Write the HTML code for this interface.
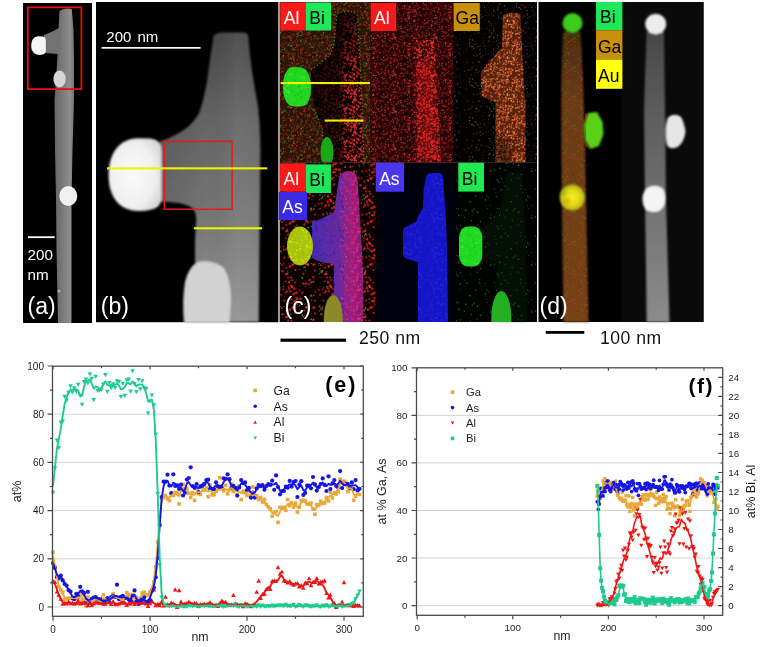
<!DOCTYPE html><html><head><meta charset="utf-8"><style>html,body{margin:0;padding:0;background:#fff}body{width:763px;height:647px;overflow:hidden;position:relative}svg{position:absolute;left:0;top:0;will-change:transform}text{font-family:"Liberation Sans",sans-serif}</style></head><body>
<svg width="763" height="647" viewBox="0 0 763 647">
<defs>
<filter id="b06" x="-20%" y="-20%" width="140%" height="140%"><feGaussianBlur stdDeviation="0.6"/></filter>
<filter id="b1" x="-20%" y="-20%" width="140%" height="140%"><feGaussianBlur stdDeviation="1"/></filter>
<filter id="b15" x="-20%" y="-20%" width="140%" height="140%"><feGaussianBlur stdDeviation="1.5"/></filter>
<filter id="b3" x="-30%" y="-30%" width="160%" height="160%"><feGaussianBlur stdDeviation="3"/></filter>
<filter id="spR" x="0" y="0" width="100%" height="100%" filterUnits="objectBoundingBox" color-interpolation-filters="sRGB"><feTurbulence type="fractalNoise" baseFrequency="0.55" numOctaves="2" seed="3"/><feColorMatrix type="matrix" values="0 0 0 0 0.9 0 0 0 0 0.1 0 0 0 0 0.08 9 0 0 0 -4.9"/><feGaussianBlur stdDeviation="0.35"/></filter>
<filter id="spR2" x="0" y="0" width="100%" height="100%" filterUnits="objectBoundingBox" color-interpolation-filters="sRGB"><feTurbulence type="fractalNoise" baseFrequency="0.5" numOctaves="2" seed="11"/><feColorMatrix type="matrix" values="0 0 0 0 0.95 0 0 0 0 0.12 0 0 0 0 0.1 9 0 0 0 -4.4"/><feGaussianBlur stdDeviation="0.35"/></filter>
<filter id="spG" x="0" y="0" width="100%" height="100%" filterUnits="objectBoundingBox" color-interpolation-filters="sRGB"><feTurbulence type="fractalNoise" baseFrequency="0.55" numOctaves="2" seed="5"/><feColorMatrix type="matrix" values="0 0 0 0 0.2 0 0 0 0 0.75 0 0 0 0 0.15 9 0 0 0 -5.4"/><feGaussianBlur stdDeviation="0.35"/></filter>
<filter id="spO" x="0" y="0" width="100%" height="100%" filterUnits="objectBoundingBox" color-interpolation-filters="sRGB"><feTurbulence type="fractalNoise" baseFrequency="0.6" numOctaves="2" seed="8"/><feColorMatrix type="matrix" values="0 0 0 0 0.85 0 0 0 0 0.4 0 0 0 0 0.15 9 0 0 0 -4.6"/><feGaussianBlur stdDeviation="0.35"/></filter>
<filter id="spOs" x="0" y="0" width="100%" height="100%" filterUnits="objectBoundingBox" color-interpolation-filters="sRGB"><feTurbulence type="fractalNoise" baseFrequency="0.6" numOctaves="2" seed="9"/><feColorMatrix type="matrix" values="0 0 0 0 0.7 0 0 0 0 0.45 0 0 0 0 0.25 10 0 0 0 -6.6"/><feGaussianBlur stdDeviation="0.35"/></filter>
<filter id="spGs" x="0" y="0" width="100%" height="100%" filterUnits="objectBoundingBox" color-interpolation-filters="sRGB"><feTurbulence type="fractalNoise" baseFrequency="0.6" numOctaves="2" seed="12"/><feColorMatrix type="matrix" values="0 0 0 0 0.15 0 0 0 0 0.6 0 0 0 0 0.15 10 0 0 0 -6.8"/><feGaussianBlur stdDeviation="0.35"/></filter>
<filter id="spGB" x="0" y="0" width="100%" height="100%" filterUnits="objectBoundingBox" color-interpolation-filters="sRGB"><feTurbulence type="fractalNoise" baseFrequency="0.55" numOctaves="2" seed="13"/><feColorMatrix type="matrix" values="0 0 0 0 0.1 0 0 0 0 0.95 0 0 0 0 0.15 8 0 0 0 -3.0"/><feGaussianBlur stdDeviation="0.35"/></filter>
<filter id="spRB" x="0" y="0" width="100%" height="100%" filterUnits="objectBoundingBox" color-interpolation-filters="sRGB"><feTurbulence type="fractalNoise" baseFrequency="0.55" numOctaves="2" seed="14"/><feColorMatrix type="matrix" values="0 0 0 0 0.9 0 0 0 0 0.1 0 0 0 0 0.3 8 0 0 0 -3.6"/><feGaussianBlur stdDeviation="0.35"/></filter>
<filter id="spB" x="0" y="0" width="100%" height="100%" filterUnits="objectBoundingBox" color-interpolation-filters="sRGB"><feTurbulence type="fractalNoise" baseFrequency="0.55" numOctaves="2" seed="15"/><feColorMatrix type="matrix" values="0 0 0 0 0.15 0 0 0 0 0.15 0 0 0 0 0.95 8 0 0 0 -2.6"/><feGaussianBlur stdDeviation="0.35"/></filter>
</defs>
<rect x="23" y="3" width="69" height="320" fill="#000"/>
<linearGradient id="wa" x1="0" x2="1" y1="0" y2="0"><stop offset="0" stop-color="#646464"/><stop offset="0.45" stop-color="#7c7c7c"/><stop offset="0.8" stop-color="#8e8e8e"/><stop offset="1" stop-color="#747474"/></linearGradient>
<g filter="url(#b06)">
<path d="M59.5 11 Q65 7.5 71.8 9 L73.5 30 L74 60 L74 100 L72.5 150 L71.5 200 L71.5 323 L58 323 L56.5 250 L56 200 L55 150 L54.5 100 L56 80 L57.5 56 L58.5 30 Z" fill="url(#wa)"/>
<path d="M61 27 C55 30 50 33 44 35 L44 53 L59 54 Z" fill="#727272"/>
<path d="M43 36.5 C45 37 45.8 38.5 45.8 41 L45.8 51 C45.6 53.5 44 54.5 40 55 C34.5 55.2 31.2 51.5 31.2 45.8 C31.2 40 34 36.4 38.5 36.3 Z" fill="#f6f6f6"/>
<ellipse cx="59.6" cy="79" rx="6.2" ry="8.5" fill="#d6d6d6"/>
<ellipse cx="68.3" cy="196" rx="9" ry="10" fill="#f0f0f0"/>
<circle cx="59" cy="291" r="1.5" fill="#aaa"/>
</g>
<rect x="27.8" y="7.3" width="53.6" height="81.8" fill="none" stroke="#e21010" stroke-width="1.8"/>
<rect x="28" y="236.3" width="26.7" height="1.8" fill="#fff"/>
<text x="27.6" y="259.6" font-size="15.2" fill="#fff">200</text>
<text x="27.6" y="279.8" font-size="15.2" fill="#fff">nm</text>
<text x="27.5" y="314" font-size="23" fill="#fff">(a)</text>
<rect x="96" y="2" width="182" height="320.2" fill="#000"/>
<rect x="278" y="2" width="2" height="320.2" fill="#9a9a9a"/>
<linearGradient id="wbv" x1="0" x2="0" y1="32" y2="322" gradientUnits="userSpaceOnUse"><stop offset="0" stop-color="#464646"/><stop offset="0.3" stop-color="#646464"/><stop offset="0.6" stop-color="#747474"/><stop offset="1" stop-color="#929292"/></linearGradient>
<linearGradient id="wbh" x1="160" x2="262" y1="0" y2="0" gradientUnits="userSpaceOnUse"><stop offset="0" stop-color="#000" stop-opacity="0.12"/><stop offset="0.45" stop-color="#000" stop-opacity="0"/><stop offset="0.75" stop-color="#fff" stop-opacity="0.06"/><stop offset="0.93" stop-color="#fff" stop-opacity="0.04"/><stop offset="1" stop-color="#000" stop-opacity="0.1"/></linearGradient>
<g filter="url(#b1)"><path d="M213.5 36 Q216 32.4 222 32.4 L244 32.4 Q248 33 248.3 36 L249.5 51 L252 71 L255 89.6 L258 106.6 L259.8 125 L260.5 150 L260 200 L259.3 260 L258.8 322 L195 322 L195 240 L196 222 Q197 212 192 208 Q186 203.5 175 202.5 L160 201.5 L160 141.5 Q168 139 175 135 Q186 130 192.4 122.6 Q197 117 199.3 112.8 L203.1 100.4 L207 81.9 L210.1 58.7 Z" fill="url(#wbv)"/><path d="M213.5 36 Q216 32.4 222 32.4 L244 32.4 Q248 33 248.3 36 L249.5 51 L252 71 L255 89.6 L258 106.6 L259.8 125 L260.5 150 L260 200 L259.3 260 L258.8 322 L195 322 L195 240 L196 222 Q197 212 192 208 Q186 203.5 175 202.5 L160 201.5 L160 141.5 Q168 139 175 135 Q186 130 192.4 122.6 Q197 117 199.3 112.8 L203.1 100.4 L207 81.9 L210.1 58.7 Z" fill="url(#wbh)"/>
<radialGradient id="gball" cx="0.45" cy="0.5" r="0.6"><stop offset="0" stop-color="#fafafa"/><stop offset="0.7" stop-color="#f0f0f0"/><stop offset="1" stop-color="#d8d8d8"/></radialGradient>
<path d="M150 138.5 C158 139.5 161.5 143 161.5 152 L161.5 198 C161 207 155 210.5 140 211 C120 211.5 108.6 198 108.6 175 C108.6 152 120 138.5 138 138.2 Z" fill="url(#gball)"/>
<path d="M198 262 Q212 259 224 268 Q231 280 231 300 L229.5 323 L184 323 Q182 300 185 282 Q189 266 198 262 Z" fill="#d2d2d2"/>
</g>
<rect x="164.3" y="141.4" width="67.8" height="67.8" fill="none" stroke="#e21c1c" stroke-width="1.5"/>
<rect x="107" y="167.3" width="160.3" height="2.1" fill="#f2f200"/>
<rect x="193.8" y="227.2" width="68.4" height="2.1" fill="#f2f200"/>
<rect x="101.6" y="47" width="99" height="1.7" fill="#fff"/>
<text x="106.3" y="41.5" font-size="15" word-spacing="2" fill="#fff">200 nm</text>
<text x="100.8" y="313.8" font-size="23" fill="#fff">(b)</text>
<defs>
<filter id="sb" x="-5%" y="-5%" width="110%" height="110%"><feGaussianBlur stdDeviation="0.65"/></filter>
<pattern id="pR1" width="37" height="41" patternUnits="userSpaceOnUse"><circle cx="23.0" cy="30.4" r="0.82" fill="#b04020" opacity="0.82"/><circle cx="1.1" cy="19.1" r="0.88" fill="#a81810" opacity="0.67"/><circle cx="4.2" cy="19.2" r="0.60" fill="#b04020" opacity="0.62"/><circle cx="9.2" cy="30.0" r="0.66" fill="#902810" opacity="0.44"/><circle cx="5.9" cy="32.7" r="0.56" fill="#a81810" opacity="0.66"/><circle cx="4.9" cy="39.9" r="0.50" fill="#a81810" opacity="0.74"/><circle cx="32.3" cy="11.9" r="0.88" fill="#a81810" opacity="0.62"/><circle cx="6.7" cy="39.7" r="0.58" fill="#902810" opacity="0.83"/><circle cx="11.1" cy="14.8" r="0.57" fill="#c02018" opacity="0.42"/><circle cx="12.3" cy="33.5" r="0.73" fill="#c83018" opacity="0.65"/><circle cx="2.4" cy="14.6" r="0.62" fill="#a81810" opacity="0.70"/><circle cx="17.8" cy="28.9" r="0.52" fill="#c02018" opacity="0.84"/><circle cx="35.1" cy="14.7" r="0.66" fill="#902810" opacity="0.62"/><circle cx="13.5" cy="23.7" r="0.50" fill="#a81810" opacity="0.37"/><circle cx="23.1" cy="39.1" r="0.55" fill="#902810" opacity="0.47"/><circle cx="12.7" cy="14.5" r="0.71" fill="#c02018" opacity="0.74"/><circle cx="21.8" cy="32.0" r="0.65" fill="#902810" opacity="0.50"/><circle cx="35.0" cy="3.7" r="0.64" fill="#a81810" opacity="0.66"/><circle cx="12.6" cy="37.9" r="0.72" fill="#c83018" opacity="0.51"/><circle cx="11.3" cy="32.7" r="0.75" fill="#c83018" opacity="0.71"/><circle cx="-0.1" cy="6.6" r="0.52" fill="#b04020" opacity="0.84"/><circle cx="36.9" cy="6.6" r="0.52" fill="#b04020" opacity="0.84"/><circle cx="34.2" cy="1.3" r="0.80" fill="#c83018" opacity="0.52"/><circle cx="16.9" cy="17.3" r="0.52" fill="#c02018" opacity="0.81"/><circle cx="29.7" cy="13.7" r="0.58" fill="#b04020" opacity="0.84"/><circle cx="35.1" cy="25.8" r="0.82" fill="#902810" opacity="0.40"/><circle cx="13.8" cy="2.4" r="0.67" fill="#b04020" opacity="0.42"/><circle cx="31.5" cy="40.0" r="0.68" fill="#c83018" opacity="0.59"/><circle cx="17.7" cy="11.9" r="0.66" fill="#902810" opacity="0.42"/><circle cx="30.4" cy="21.8" r="0.57" fill="#c83018" opacity="0.82"/><circle cx="6.7" cy="20.2" r="0.71" fill="#b04020" opacity="0.62"/><circle cx="13.4" cy="32.2" r="0.81" fill="#c02018" opacity="0.70"/><circle cx="28.1" cy="14.9" r="0.78" fill="#902810" opacity="0.49"/><circle cx="9.8" cy="-0.8" r="0.79" fill="#c83018" opacity="0.83"/><circle cx="9.8" cy="40.2" r="0.79" fill="#c83018" opacity="0.83"/><circle cx="24.0" cy="23.8" r="0.50" fill="#c83018" opacity="0.62"/><circle cx="12.1" cy="11.2" r="0.62" fill="#c83018" opacity="0.60"/><circle cx="12.9" cy="26.4" r="0.80" fill="#c83018" opacity="0.76"/><circle cx="34.1" cy="7.1" r="0.85" fill="#c83018" opacity="0.57"/><circle cx="35.4" cy="21.2" r="0.71" fill="#c83018" opacity="0.43"/><circle cx="34.7" cy="19.6" r="0.78" fill="#902810" opacity="0.71"/><circle cx="6.4" cy="32.0" r="0.73" fill="#902810" opacity="0.68"/><circle cx="11.2" cy="22.7" r="0.85" fill="#c02018" opacity="0.49"/><circle cx="7.2" cy="24.0" r="0.75" fill="#a81810" opacity="0.44"/><circle cx="23.3" cy="1.7" r="0.69" fill="#c02018" opacity="0.46"/><circle cx="33.0" cy="4.5" r="0.89" fill="#b04020" opacity="0.59"/><circle cx="1.3" cy="19.1" r="0.65" fill="#b04020" opacity="0.66"/><circle cx="7.6" cy="29.4" r="0.65" fill="#c83018" opacity="0.53"/><circle cx="31.7" cy="35.5" r="0.78" fill="#c02018" opacity="0.62"/><circle cx="20.3" cy="12.4" r="0.62" fill="#b04020" opacity="0.61"/><circle cx="10.8" cy="14.4" r="0.55" fill="#b04020" opacity="0.55"/><circle cx="23.8" cy="15.1" r="0.56" fill="#b04020" opacity="0.65"/><circle cx="17.7" cy="8.2" r="0.55" fill="#c02018" opacity="0.40"/><circle cx="14.1" cy="13.4" r="0.87" fill="#c83018" opacity="0.62"/><circle cx="23.3" cy="36.5" r="0.65" fill="#a81810" opacity="0.57"/><circle cx="18.3" cy="19.7" r="0.78" fill="#a81810" opacity="0.54"/><circle cx="22.0" cy="10.7" r="0.89" fill="#902810" opacity="0.60"/><circle cx="0.7" cy="38.8" r="0.62" fill="#a81810" opacity="0.81"/><circle cx="17.6" cy="5.0" r="0.75" fill="#c83018" opacity="0.57"/><circle cx="1.5" cy="5.6" r="0.66" fill="#b04020" opacity="0.59"/><circle cx="10.1" cy="38.3" r="0.81" fill="#c83018" opacity="0.47"/><circle cx="31.2" cy="29.6" r="0.61" fill="#902810" opacity="0.60"/><circle cx="19.2" cy="35.4" r="0.85" fill="#c02018" opacity="0.80"/><circle cx="28.1" cy="12.3" r="0.71" fill="#c83018" opacity="0.52"/><circle cx="27.1" cy="1.1" r="0.64" fill="#b04020" opacity="0.69"/><circle cx="4.9" cy="0.1" r="0.72" fill="#c02018" opacity="0.69"/><circle cx="4.9" cy="41.1" r="0.72" fill="#c02018" opacity="0.69"/><circle cx="32.9" cy="22.4" r="0.51" fill="#902810" opacity="0.74"/><circle cx="22.0" cy="28.2" r="0.88" fill="#902810" opacity="0.67"/><circle cx="17.6" cy="28.0" r="0.79" fill="#902810" opacity="0.80"/><circle cx="30.7" cy="2.7" r="0.83" fill="#902810" opacity="0.70"/><circle cx="21.5" cy="26.6" r="0.69" fill="#a81810" opacity="0.51"/><circle cx="17.7" cy="22.5" r="0.70" fill="#a81810" opacity="0.52"/><circle cx="15.7" cy="22.2" r="0.52" fill="#c83018" opacity="0.72"/><circle cx="30.3" cy="32.5" r="0.77" fill="#902810" opacity="0.36"/><circle cx="36.2" cy="-0.1" r="0.78" fill="#c02018" opacity="0.37"/><circle cx="36.2" cy="40.9" r="0.78" fill="#c02018" opacity="0.37"/><circle cx="8.1" cy="26.5" r="0.88" fill="#a81810" opacity="0.71"/><circle cx="-0.2" cy="28.9" r="0.68" fill="#a81810" opacity="0.44"/><circle cx="36.8" cy="28.9" r="0.68" fill="#a81810" opacity="0.44"/><circle cx="15.3" cy="6.6" r="0.75" fill="#c02018" opacity="0.37"/><circle cx="24.4" cy="30.6" r="0.61" fill="#c02018" opacity="0.64"/><circle cx="27.5" cy="36.0" r="0.55" fill="#c83018" opacity="0.57"/><circle cx="25.4" cy="20.1" r="0.64" fill="#c02018" opacity="0.68"/><circle cx="5.1" cy="12.1" r="0.73" fill="#c83018" opacity="0.69"/><circle cx="33.7" cy="22.8" r="0.75" fill="#b04020" opacity="0.48"/><circle cx="8.7" cy="34.1" r="0.61" fill="#a81810" opacity="0.84"/><circle cx="31.9" cy="18.6" r="0.66" fill="#c02018" opacity="0.42"/><circle cx="24.2" cy="3.5" r="0.77" fill="#c02018" opacity="0.40"/><circle cx="18.7" cy="18.6" r="0.66" fill="#c83018" opacity="0.58"/><circle cx="4.0" cy="21.8" r="0.72" fill="#a81810" opacity="0.54"/><circle cx="35.0" cy="17.6" r="0.82" fill="#c02018" opacity="0.72"/><circle cx="36.0" cy="27.3" r="0.83" fill="#b04020" opacity="0.42"/><circle cx="13.9" cy="34.3" r="0.62" fill="#c83018" opacity="0.82"/><circle cx="29.5" cy="15.5" r="0.79" fill="#c83018" opacity="0.53"/><circle cx="29.8" cy="17.8" r="0.84" fill="#b04020" opacity="0.61"/><circle cx="-0.3" cy="8.8" r="0.57" fill="#c02018" opacity="0.38"/><circle cx="36.7" cy="8.8" r="0.57" fill="#c02018" opacity="0.38"/><circle cx="1.2" cy="8.3" r="0.52" fill="#902810" opacity="0.79"/><circle cx="24.5" cy="14.3" r="0.67" fill="#b04020" opacity="0.50"/><circle cx="34.1" cy="13.3" r="0.68" fill="#a81810" opacity="0.45"/><circle cx="2.6" cy="35.6" r="0.85" fill="#b04020" opacity="0.58"/><circle cx="9.4" cy="11.4" r="0.56" fill="#a81810" opacity="0.49"/><circle cx="1.2" cy="36.8" r="0.64" fill="#c83018" opacity="0.73"/><circle cx="34.7" cy="28.2" r="0.77" fill="#a81810" opacity="0.59"/><circle cx="4.4" cy="27.4" r="0.62" fill="#a81810" opacity="0.69"/><circle cx="1.2" cy="29.3" r="0.73" fill="#b04020" opacity="0.68"/><circle cx="14.8" cy="39.9" r="0.65" fill="#902810" opacity="0.51"/><circle cx="13.4" cy="2.7" r="0.90" fill="#a81810" opacity="0.58"/><circle cx="6.5" cy="8.6" r="0.52" fill="#c83018" opacity="0.65"/><circle cx="0.2" cy="2.5" r="0.81" fill="#c02018" opacity="0.56"/><circle cx="37.2" cy="2.5" r="0.81" fill="#c02018" opacity="0.56"/><circle cx="1.2" cy="34.3" r="0.83" fill="#c02018" opacity="0.63"/><circle cx="26.5" cy="9.7" r="0.82" fill="#902810" opacity="0.40"/><circle cx="2.0" cy="10.0" r="0.52" fill="#c02018" opacity="0.55"/><circle cx="1.8" cy="34.2" r="0.68" fill="#c02018" opacity="0.67"/><circle cx="35.2" cy="8.0" r="0.78" fill="#a81810" opacity="0.67"/><circle cx="19.7" cy="3.5" r="0.63" fill="#b04020" opacity="0.40"/><circle cx="36.5" cy="6.6" r="0.53" fill="#b04020" opacity="0.72"/><circle cx="0.6" cy="22.1" r="0.69" fill="#902810" opacity="0.64"/><circle cx="37.6" cy="22.1" r="0.69" fill="#902810" opacity="0.64"/><circle cx="19.3" cy="5.4" r="0.50" fill="#902810" opacity="0.73"/><circle cx="33.0" cy="-0.0" r="0.72" fill="#902810" opacity="0.42"/><circle cx="33.0" cy="41.0" r="0.72" fill="#902810" opacity="0.42"/><circle cx="3.2" cy="31.7" r="0.83" fill="#a81810" opacity="0.51"/><circle cx="19.9" cy="19.3" r="0.78" fill="#b04020" opacity="0.75"/><circle cx="24.7" cy="11.3" r="0.70" fill="#a81810" opacity="0.47"/><circle cx="29.5" cy="36.2" r="0.85" fill="#c83018" opacity="0.39"/><circle cx="14.1" cy="31.5" r="0.50" fill="#a81810" opacity="0.49"/><circle cx="21.3" cy="18.1" r="0.83" fill="#c02018" opacity="0.68"/><circle cx="26.9" cy="28.7" r="0.61" fill="#902810" opacity="0.76"/><circle cx="20.8" cy="13.2" r="0.62" fill="#902810" opacity="0.42"/><circle cx="25.0" cy="11.7" r="0.53" fill="#b04020" opacity="0.73"/><circle cx="1.0" cy="5.0" r="0.89" fill="#902810" opacity="0.76"/><circle cx="31.8" cy="38.9" r="0.74" fill="#902810" opacity="0.47"/><circle cx="4.6" cy="8.2" r="0.64" fill="#b04020" opacity="0.43"/><circle cx="30.6" cy="29.8" r="0.54" fill="#a81810" opacity="0.62"/><circle cx="23.3" cy="5.9" r="0.81" fill="#902810" opacity="0.57"/><circle cx="4.4" cy="13.0" r="0.87" fill="#902810" opacity="0.58"/><circle cx="6.3" cy="2.0" r="0.77" fill="#902810" opacity="0.43"/><circle cx="35.9" cy="24.4" r="0.54" fill="#902810" opacity="0.76"/><circle cx="25.4" cy="8.5" r="0.50" fill="#a81810" opacity="0.80"/><circle cx="17.8" cy="36.2" r="0.66" fill="#c83018" opacity="0.46"/><circle cx="30.4" cy="12.4" r="0.71" fill="#a81810" opacity="0.73"/><circle cx="13.6" cy="33.2" r="0.83" fill="#c02018" opacity="0.68"/><circle cx="22.9" cy="16.4" r="0.56" fill="#902810" opacity="0.77"/><circle cx="14.1" cy="3.8" r="0.66" fill="#c83018" opacity="0.73"/><circle cx="33.3" cy="8.2" r="0.82" fill="#902810" opacity="0.51"/><circle cx="31.9" cy="25.5" r="0.82" fill="#c02018" opacity="0.54"/><circle cx="3.8" cy="24.8" r="0.75" fill="#c02018" opacity="0.76"/><circle cx="11.7" cy="1.1" r="0.62" fill="#902810" opacity="0.54"/><circle cx="20.2" cy="28.3" r="0.68" fill="#b04020" opacity="0.74"/><circle cx="34.2" cy="28.4" r="0.77" fill="#902810" opacity="0.62"/><circle cx="13.4" cy="24.3" r="0.77" fill="#c83018" opacity="0.61"/><circle cx="10.6" cy="1.1" r="0.81" fill="#902810" opacity="0.66"/><circle cx="11.4" cy="38.1" r="0.61" fill="#c02018" opacity="0.71"/><circle cx="1.4" cy="3.6" r="0.88" fill="#c83018" opacity="0.50"/><circle cx="25.4" cy="34.4" r="0.80" fill="#a81810" opacity="0.66"/><circle cx="17.9" cy="3.8" r="0.55" fill="#b04020" opacity="0.52"/><circle cx="15.7" cy="39.7" r="0.77" fill="#b04020" opacity="0.54"/><circle cx="33.3" cy="37.3" r="0.75" fill="#c02018" opacity="0.54"/><circle cx="31.2" cy="36.5" r="0.78" fill="#a81810" opacity="0.84"/><circle cx="32.8" cy="8.7" r="0.62" fill="#b04020" opacity="0.48"/><circle cx="2.9" cy="39.0" r="0.53" fill="#a81810" opacity="0.56"/><circle cx="8.3" cy="2.6" r="0.73" fill="#b04020" opacity="0.77"/><circle cx="26.9" cy="17.1" r="0.67" fill="#a81810" opacity="0.61"/><circle cx="11.2" cy="11.5" r="0.74" fill="#a81810" opacity="0.83"/><circle cx="15.6" cy="6.1" r="0.62" fill="#b04020" opacity="0.63"/><circle cx="6.8" cy="7.8" r="0.74" fill="#c83018" opacity="0.67"/><circle cx="27.0" cy="2.5" r="0.69" fill="#c02018" opacity="0.77"/><circle cx="11.8" cy="34.9" r="0.76" fill="#a81810" opacity="0.81"/><circle cx="33.1" cy="25.2" r="0.82" fill="#c02018" opacity="0.77"/><circle cx="7.2" cy="6.4" r="0.54" fill="#b04020" opacity="0.43"/><circle cx="28.1" cy="23.6" r="0.68" fill="#a81810" opacity="0.51"/><circle cx="26.4" cy="37.9" r="0.88" fill="#c02018" opacity="0.66"/><circle cx="13.5" cy="33.4" r="0.58" fill="#a81810" opacity="0.51"/><circle cx="17.0" cy="27.9" r="0.80" fill="#902810" opacity="0.39"/><circle cx="34.8" cy="19.1" r="0.50" fill="#c83018" opacity="0.84"/><circle cx="4.9" cy="0.1" r="0.65" fill="#c02018" opacity="0.52"/><circle cx="4.9" cy="41.1" r="0.65" fill="#c02018" opacity="0.52"/><circle cx="18.2" cy="38.4" r="0.78" fill="#902810" opacity="0.36"/><circle cx="-0.0" cy="30.8" r="0.58" fill="#a81810" opacity="0.52"/><circle cx="37.0" cy="30.8" r="0.58" fill="#a81810" opacity="0.52"/><circle cx="10.8" cy="20.4" r="0.78" fill="#b04020" opacity="0.74"/><circle cx="4.1" cy="16.7" r="0.88" fill="#902810" opacity="0.38"/><circle cx="1.9" cy="17.3" r="0.60" fill="#c02018" opacity="0.68"/><circle cx="5.4" cy="39.7" r="0.72" fill="#a81810" opacity="0.57"/><circle cx="20.0" cy="15.8" r="0.87" fill="#c83018" opacity="0.40"/><circle cx="4.8" cy="3.4" r="0.83" fill="#c02018" opacity="0.42"/><circle cx="0.8" cy="23.1" r="0.88" fill="#c02018" opacity="0.78"/><circle cx="37.8" cy="23.1" r="0.88" fill="#c02018" opacity="0.78"/><circle cx="2.0" cy="9.0" r="0.89" fill="#902810" opacity="0.57"/><circle cx="19.2" cy="39.2" r="0.74" fill="#902810" opacity="0.77"/><circle cx="18.8" cy="2.2" r="0.66" fill="#902810" opacity="0.74"/><circle cx="31.8" cy="38.5" r="0.76" fill="#b04020" opacity="0.66"/><circle cx="1.3" cy="1.0" r="0.81" fill="#902810" opacity="0.56"/><circle cx="33.9" cy="15.5" r="0.90" fill="#c83018" opacity="0.73"/><circle cx="5.5" cy="32.0" r="0.67" fill="#c83018" opacity="0.84"/><circle cx="8.0" cy="17.3" r="0.61" fill="#c83018" opacity="0.58"/><circle cx="0.1" cy="26.0" r="0.81" fill="#c02018" opacity="0.73"/><circle cx="37.1" cy="26.0" r="0.81" fill="#c02018" opacity="0.73"/><circle cx="2.7" cy="15.6" r="0.86" fill="#a81810" opacity="0.79"/><circle cx="24.0" cy="30.6" r="0.70" fill="#902810" opacity="0.51"/><circle cx="5.0" cy="9.7" r="0.87" fill="#c02018" opacity="0.82"/><circle cx="0.5" cy="33.3" r="0.53" fill="#c83018" opacity="0.42"/><circle cx="37.5" cy="33.3" r="0.53" fill="#c83018" opacity="0.42"/><circle cx="12.4" cy="8.8" r="0.62" fill="#b04020" opacity="0.80"/><circle cx="3.3" cy="4.6" r="0.76" fill="#c83018" opacity="0.54"/><circle cx="33.5" cy="22.5" r="0.68" fill="#b04020" opacity="0.79"/><circle cx="5.2" cy="0.7" r="0.51" fill="#a81810" opacity="0.54"/><circle cx="17.8" cy="28.9" r="0.50" fill="#902810" opacity="0.74"/><circle cx="8.6" cy="29.4" r="0.59" fill="#b04020" opacity="0.50"/><circle cx="8.8" cy="28.4" r="0.85" fill="#b04020" opacity="0.74"/><circle cx="11.0" cy="18.5" r="0.76" fill="#c83018" opacity="0.81"/><circle cx="21.0" cy="11.3" r="0.73" fill="#902810" opacity="0.65"/><circle cx="-0.4" cy="12.4" r="0.57" fill="#c02018" opacity="0.82"/><circle cx="36.6" cy="12.4" r="0.57" fill="#c02018" opacity="0.82"/><circle cx="23.9" cy="2.3" r="0.58" fill="#c02018" opacity="0.66"/><circle cx="34.2" cy="12.3" r="0.72" fill="#a81810" opacity="0.76"/><circle cx="16.9" cy="2.6" r="0.50" fill="#b04020" opacity="0.63"/><circle cx="16.8" cy="2.5" r="0.54" fill="#a81810" opacity="0.52"/><circle cx="13.8" cy="14.0" r="0.83" fill="#a81810" opacity="0.59"/><circle cx="27.4" cy="10.7" r="0.83" fill="#902810" opacity="0.66"/><circle cx="6.1" cy="32.4" r="0.78" fill="#902810" opacity="0.65"/><circle cx="33.9" cy="34.3" r="0.74" fill="#c83018" opacity="0.63"/><circle cx="20.8" cy="0.4" r="0.52" fill="#902810" opacity="0.76"/><circle cx="20.8" cy="41.4" r="0.52" fill="#902810" opacity="0.76"/><circle cx="24.9" cy="26.6" r="0.51" fill="#902810" opacity="0.56"/><circle cx="26.7" cy="25.1" r="0.74" fill="#c02018" opacity="0.46"/><circle cx="26.1" cy="29.5" r="0.74" fill="#902810" opacity="0.37"/><circle cx="11.2" cy="21.5" r="0.72" fill="#c83018" opacity="0.77"/><circle cx="4.5" cy="30.9" r="0.60" fill="#c02018" opacity="0.50"/><circle cx="32.5" cy="13.2" r="0.76" fill="#902810" opacity="0.60"/><circle cx="5.8" cy="8.9" r="0.61" fill="#a81810" opacity="0.82"/><circle cx="16.9" cy="6.2" r="0.90" fill="#902810" opacity="0.67"/><circle cx="23.0" cy="26.7" r="0.57" fill="#902810" opacity="0.42"/><circle cx="6.3" cy="20.6" r="0.87" fill="#c02018" opacity="0.52"/><circle cx="5.4" cy="11.0" r="0.70" fill="#a81810" opacity="0.62"/><circle cx="20.5" cy="27.2" r="0.67" fill="#c83018" opacity="0.74"/><circle cx="10.9" cy="4.4" r="0.60" fill="#b04020" opacity="0.53"/><circle cx="9.8" cy="25.8" r="0.76" fill="#c02018" opacity="0.83"/><circle cx="25.5" cy="4.5" r="0.54" fill="#c83018" opacity="0.79"/><circle cx="31.2" cy="23.9" r="0.52" fill="#902810" opacity="0.84"/><circle cx="6.4" cy="13.7" r="0.81" fill="#c83018" opacity="0.40"/><circle cx="32.7" cy="12.8" r="0.62" fill="#902810" opacity="0.52"/><circle cx="2.3" cy="12.4" r="0.57" fill="#b04020" opacity="0.82"/><circle cx="15.0" cy="18.9" r="0.53" fill="#b04020" opacity="0.56"/><circle cx="20.0" cy="26.7" r="0.77" fill="#c83018" opacity="0.51"/><circle cx="35.0" cy="19.1" r="0.54" fill="#c02018" opacity="0.73"/><circle cx="22.8" cy="3.9" r="0.76" fill="#902810" opacity="0.68"/><circle cx="16.2" cy="11.2" r="0.72" fill="#902810" opacity="0.84"/><circle cx="1.4" cy="36.2" r="0.89" fill="#a81810" opacity="0.42"/><circle cx="34.0" cy="13.4" r="0.82" fill="#a81810" opacity="0.61"/><circle cx="11.3" cy="35.1" r="0.76" fill="#b04020" opacity="0.50"/><circle cx="34.0" cy="23.5" r="0.70" fill="#c83018" opacity="0.49"/><circle cx="16.9" cy="16.6" r="0.78" fill="#b04020" opacity="0.40"/><circle cx="7.5" cy="28.5" r="0.79" fill="#a81810" opacity="0.40"/><circle cx="4.9" cy="6.9" r="0.54" fill="#b04020" opacity="0.57"/><circle cx="17.2" cy="27.7" r="0.82" fill="#c83018" opacity="0.59"/><circle cx="21.5" cy="10.3" r="0.64" fill="#b04020" opacity="0.38"/><circle cx="4.5" cy="31.3" r="0.63" fill="#902810" opacity="0.65"/><circle cx="32.4" cy="21.4" r="0.74" fill="#c02018" opacity="0.65"/><circle cx="32.4" cy="5.4" r="0.67" fill="#a81810" opacity="0.56"/><circle cx="10.7" cy="8.0" r="0.88" fill="#902810" opacity="0.37"/><circle cx="34.9" cy="12.8" r="0.84" fill="#902810" opacity="0.68"/><circle cx="30.4" cy="24.2" r="0.68" fill="#b04020" opacity="0.81"/><circle cx="18.7" cy="29.2" r="0.75" fill="#a81810" opacity="0.75"/><circle cx="21.3" cy="26.7" r="0.72" fill="#902810" opacity="0.59"/><circle cx="31.0" cy="1.8" r="0.71" fill="#c02018" opacity="0.59"/><circle cx="27.3" cy="6.9" r="0.57" fill="#902810" opacity="0.60"/><circle cx="24.1" cy="15.8" r="0.76" fill="#c83018" opacity="0.46"/><circle cx="34.0" cy="8.4" r="0.59" fill="#b04020" opacity="0.38"/><circle cx="13.8" cy="23.9" r="0.59" fill="#b04020" opacity="0.40"/><circle cx="22.1" cy="31.1" r="0.68" fill="#c02018" opacity="0.69"/><circle cx="33.0" cy="21.8" r="0.50" fill="#902810" opacity="0.56"/><circle cx="0.5" cy="31.4" r="0.54" fill="#902810" opacity="0.58"/><circle cx="37.5" cy="31.4" r="0.54" fill="#902810" opacity="0.58"/></pattern>
<pattern id="pG1" width="43" height="31" patternUnits="userSpaceOnUse"><circle cx="38.7" cy="14.6" r="0.55" fill="#6a9020" opacity="0.38"/><circle cx="35.9" cy="19.0" r="0.70" fill="#289028" opacity="0.73"/><circle cx="0.9" cy="27.4" r="0.80" fill="#30a030" opacity="0.44"/><circle cx="29.9" cy="6.2" r="0.64" fill="#289028" opacity="0.75"/><circle cx="9.5" cy="0.1" r="0.60" fill="#6a9020" opacity="0.49"/><circle cx="9.5" cy="31.1" r="0.60" fill="#6a9020" opacity="0.49"/><circle cx="16.8" cy="23.9" r="0.49" fill="#289028" opacity="0.52"/><circle cx="9.3" cy="12.5" r="0.61" fill="#30a030" opacity="0.53"/><circle cx="11.8" cy="16.3" r="0.52" fill="#50b030" opacity="0.66"/><circle cx="32.8" cy="27.0" r="0.77" fill="#6a9020" opacity="0.71"/><circle cx="35.4" cy="27.9" r="0.65" fill="#6a9020" opacity="0.72"/><circle cx="31.5" cy="6.3" r="0.65" fill="#30a030" opacity="0.67"/><circle cx="8.3" cy="16.5" r="0.74" fill="#30a030" opacity="0.51"/><circle cx="30.5" cy="13.4" r="0.74" fill="#289028" opacity="0.63"/><circle cx="0.3" cy="4.6" r="0.60" fill="#30a030" opacity="0.40"/><circle cx="43.3" cy="4.6" r="0.60" fill="#30a030" opacity="0.40"/><circle cx="30.1" cy="14.5" r="0.74" fill="#30a030" opacity="0.75"/><circle cx="21.0" cy="11.4" r="0.80" fill="#50b030" opacity="0.68"/><circle cx="32.6" cy="14.8" r="0.73" fill="#50b030" opacity="0.55"/><circle cx="26.1" cy="16.6" r="0.51" fill="#6a9020" opacity="0.54"/><circle cx="42.1" cy="0.5" r="0.62" fill="#30a030" opacity="0.40"/><circle cx="42.1" cy="31.5" r="0.62" fill="#30a030" opacity="0.40"/><circle cx="33.4" cy="15.0" r="0.48" fill="#50b030" opacity="0.64"/><circle cx="4.1" cy="22.6" r="0.59" fill="#30a030" opacity="0.49"/><circle cx="13.3" cy="21.0" r="0.49" fill="#30a030" opacity="0.58"/><circle cx="32.9" cy="27.0" r="0.69" fill="#6a9020" opacity="0.39"/><circle cx="22.1" cy="14.6" r="0.61" fill="#50b030" opacity="0.42"/><circle cx="26.5" cy="17.7" r="0.79" fill="#50b030" opacity="0.58"/><circle cx="35.8" cy="18.3" r="0.48" fill="#6a9020" opacity="0.52"/><circle cx="4.1" cy="10.7" r="0.78" fill="#50b030" opacity="0.39"/><circle cx="37.4" cy="11.0" r="0.49" fill="#6a9020" opacity="0.50"/><circle cx="14.1" cy="21.3" r="0.61" fill="#30a030" opacity="0.74"/><circle cx="25.6" cy="27.6" r="0.56" fill="#50b030" opacity="0.56"/><circle cx="22.1" cy="2.9" r="0.63" fill="#6a9020" opacity="0.75"/><circle cx="28.2" cy="19.1" r="0.59" fill="#289028" opacity="0.54"/><circle cx="2.7" cy="10.0" r="0.46" fill="#6a9020" opacity="0.70"/><circle cx="25.9" cy="18.3" r="0.51" fill="#50b030" opacity="0.55"/><circle cx="1.8" cy="3.4" r="0.71" fill="#30a030" opacity="0.76"/><circle cx="39.7" cy="9.1" r="0.55" fill="#289028" opacity="0.54"/><circle cx="1.5" cy="14.2" r="0.51" fill="#6a9020" opacity="0.50"/><circle cx="36.2" cy="19.2" r="0.75" fill="#6a9020" opacity="0.43"/><circle cx="-0.1" cy="26.3" r="0.48" fill="#50b030" opacity="0.55"/><circle cx="42.9" cy="26.3" r="0.48" fill="#50b030" opacity="0.55"/><circle cx="15.9" cy="24.3" r="0.78" fill="#6a9020" opacity="0.77"/><circle cx="17.3" cy="13.9" r="0.54" fill="#6a9020" opacity="0.42"/><circle cx="15.4" cy="5.6" r="0.79" fill="#6a9020" opacity="0.35"/><circle cx="13.6" cy="6.0" r="0.50" fill="#6a9020" opacity="0.76"/><circle cx="5.1" cy="11.7" r="0.52" fill="#6a9020" opacity="0.44"/><circle cx="10.5" cy="15.5" r="0.65" fill="#30a030" opacity="0.58"/><circle cx="33.5" cy="9.5" r="0.57" fill="#289028" opacity="0.63"/><circle cx="36.4" cy="0.4" r="0.52" fill="#6a9020" opacity="0.36"/><circle cx="36.4" cy="31.4" r="0.52" fill="#6a9020" opacity="0.36"/><circle cx="22.6" cy="1.4" r="0.53" fill="#50b030" opacity="0.80"/><circle cx="9.5" cy="14.1" r="0.46" fill="#289028" opacity="0.40"/><circle cx="4.7" cy="21.5" r="0.49" fill="#30a030" opacity="0.75"/><circle cx="33.2" cy="27.8" r="0.65" fill="#50b030" opacity="0.76"/><circle cx="33.7" cy="7.9" r="0.51" fill="#30a030" opacity="0.47"/><circle cx="16.8" cy="7.5" r="0.79" fill="#50b030" opacity="0.73"/><circle cx="20.2" cy="7.2" r="0.47" fill="#289028" opacity="0.69"/><circle cx="16.5" cy="17.8" r="0.55" fill="#50b030" opacity="0.37"/><circle cx="0.2" cy="4.6" r="0.71" fill="#50b030" opacity="0.77"/><circle cx="43.2" cy="4.6" r="0.71" fill="#50b030" opacity="0.77"/><circle cx="15.8" cy="29.7" r="0.62" fill="#30a030" opacity="0.73"/><circle cx="25.5" cy="10.0" r="0.59" fill="#289028" opacity="0.49"/><circle cx="36.8" cy="24.5" r="0.55" fill="#30a030" opacity="0.42"/><circle cx="25.5" cy="6.2" r="0.77" fill="#30a030" opacity="0.60"/><circle cx="9.8" cy="6.4" r="0.68" fill="#50b030" opacity="0.61"/><circle cx="36.2" cy="4.3" r="0.72" fill="#6a9020" opacity="0.43"/><circle cx="9.5" cy="13.6" r="0.56" fill="#289028" opacity="0.46"/><circle cx="25.4" cy="24.8" r="0.68" fill="#50b030" opacity="0.65"/><circle cx="24.4" cy="29.3" r="0.80" fill="#30a030" opacity="0.36"/><circle cx="24.1" cy="18.8" r="0.68" fill="#50b030" opacity="0.49"/><circle cx="36.0" cy="26.4" r="0.66" fill="#289028" opacity="0.50"/><circle cx="19.2" cy="17.4" r="0.52" fill="#30a030" opacity="0.40"/><circle cx="39.3" cy="5.6" r="0.64" fill="#289028" opacity="0.44"/><circle cx="11.9" cy="25.6" r="0.54" fill="#50b030" opacity="0.64"/><circle cx="29.9" cy="19.4" r="0.46" fill="#50b030" opacity="0.45"/><circle cx="34.7" cy="11.7" r="0.73" fill="#6a9020" opacity="0.38"/><circle cx="20.9" cy="4.6" r="0.68" fill="#6a9020" opacity="0.67"/><circle cx="40.4" cy="1.9" r="0.80" fill="#30a030" opacity="0.53"/><circle cx="8.7" cy="23.9" r="0.54" fill="#289028" opacity="0.58"/><circle cx="15.8" cy="19.1" r="0.66" fill="#6a9020" opacity="0.65"/><circle cx="30.4" cy="22.0" r="0.70" fill="#30a030" opacity="0.45"/><circle cx="12.2" cy="30.4" r="0.60" fill="#289028" opacity="0.57"/><circle cx="32.9" cy="14.5" r="0.78" fill="#289028" opacity="0.55"/><circle cx="-0.4" cy="10.0" r="0.70" fill="#30a030" opacity="0.78"/><circle cx="42.6" cy="10.0" r="0.70" fill="#30a030" opacity="0.78"/></pattern>
<pattern id="pR2" width="41" height="37" patternUnits="userSpaceOnUse"><circle cx="5.0" cy="16.5" r="0.64" fill="#d82222" opacity="0.81"/><circle cx="35.3" cy="5.4" r="0.64" fill="#b01818" opacity="0.79"/><circle cx="39.3" cy="29.7" r="0.78" fill="#a02020" opacity="0.49"/><circle cx="18.1" cy="6.8" r="0.50" fill="#a02020" opacity="0.46"/><circle cx="21.8" cy="24.7" r="0.70" fill="#b01818" opacity="0.93"/><circle cx="39.8" cy="18.3" r="0.65" fill="#e83030" opacity="0.81"/><circle cx="2.0" cy="35.5" r="0.58" fill="#d82222" opacity="0.72"/><circle cx="8.3" cy="20.3" r="0.55" fill="#b01818" opacity="0.98"/><circle cx="33.3" cy="8.9" r="0.72" fill="#a02020" opacity="0.76"/><circle cx="9.6" cy="15.3" r="0.54" fill="#e83030" opacity="0.69"/><circle cx="4.9" cy="5.5" r="0.58" fill="#e83030" opacity="0.87"/><circle cx="31.4" cy="-0.3" r="0.49" fill="#e83030" opacity="0.76"/><circle cx="31.4" cy="36.7" r="0.49" fill="#e83030" opacity="0.76"/><circle cx="4.8" cy="19.4" r="0.56" fill="#d82222" opacity="0.53"/><circle cx="4.1" cy="11.1" r="0.51" fill="#b01818" opacity="0.96"/><circle cx="13.0" cy="35.0" r="0.47" fill="#a02020" opacity="0.94"/><circle cx="15.7" cy="4.2" r="0.78" fill="#a02020" opacity="0.74"/><circle cx="30.2" cy="30.0" r="0.45" fill="#a02020" opacity="0.62"/><circle cx="5.7" cy="26.6" r="0.70" fill="#e83030" opacity="0.65"/><circle cx="11.4" cy="16.2" r="0.84" fill="#a02020" opacity="0.45"/><circle cx="12.7" cy="35.1" r="0.64" fill="#d82222" opacity="0.62"/><circle cx="10.0" cy="15.6" r="0.49" fill="#a02020" opacity="0.58"/><circle cx="21.5" cy="24.9" r="0.72" fill="#e83030" opacity="0.74"/><circle cx="8.3" cy="26.3" r="0.46" fill="#a02020" opacity="0.79"/><circle cx="0.4" cy="25.0" r="0.58" fill="#e83030" opacity="0.58"/><circle cx="41.4" cy="25.0" r="0.58" fill="#e83030" opacity="0.58"/><circle cx="37.2" cy="9.6" r="0.54" fill="#e83030" opacity="0.72"/><circle cx="2.8" cy="3.2" r="0.81" fill="#e83030" opacity="0.77"/><circle cx="-0.5" cy="16.0" r="0.72" fill="#d82222" opacity="0.71"/><circle cx="40.5" cy="16.0" r="0.72" fill="#d82222" opacity="0.71"/><circle cx="27.2" cy="1.9" r="0.62" fill="#b01818" opacity="0.91"/><circle cx="8.6" cy="8.7" r="0.48" fill="#b01818" opacity="0.74"/><circle cx="9.1" cy="35.0" r="0.84" fill="#b01818" opacity="0.81"/><circle cx="18.2" cy="6.0" r="0.60" fill="#a02020" opacity="0.51"/><circle cx="12.2" cy="36.3" r="0.58" fill="#b01818" opacity="0.96"/><circle cx="3.0" cy="10.3" r="0.71" fill="#d82222" opacity="0.95"/><circle cx="30.5" cy="13.7" r="0.76" fill="#a02020" opacity="0.92"/><circle cx="21.2" cy="13.8" r="0.56" fill="#b01818" opacity="0.68"/><circle cx="24.5" cy="27.8" r="0.82" fill="#d82222" opacity="0.47"/><circle cx="3.9" cy="7.3" r="0.75" fill="#a02020" opacity="0.86"/><circle cx="27.5" cy="4.2" r="0.85" fill="#a02020" opacity="0.65"/><circle cx="4.6" cy="1.4" r="0.83" fill="#e83030" opacity="0.97"/><circle cx="6.4" cy="12.3" r="0.79" fill="#e83030" opacity="0.62"/><circle cx="7.0" cy="32.7" r="0.82" fill="#a02020" opacity="0.48"/><circle cx="13.5" cy="3.2" r="0.65" fill="#d82222" opacity="0.98"/><circle cx="12.4" cy="22.5" r="0.65" fill="#b01818" opacity="0.72"/><circle cx="19.4" cy="35.0" r="0.63" fill="#d82222" opacity="0.89"/><circle cx="32.4" cy="26.3" r="0.53" fill="#b01818" opacity="0.68"/><circle cx="21.1" cy="26.2" r="0.68" fill="#d82222" opacity="0.83"/><circle cx="34.8" cy="32.0" r="0.67" fill="#d82222" opacity="0.97"/><circle cx="28.7" cy="8.1" r="0.85" fill="#e83030" opacity="0.55"/><circle cx="11.8" cy="32.9" r="0.69" fill="#b01818" opacity="0.84"/><circle cx="24.8" cy="17.9" r="0.85" fill="#a02020" opacity="0.67"/><circle cx="13.2" cy="9.8" r="0.58" fill="#a02020" opacity="0.99"/><circle cx="19.3" cy="20.8" r="0.71" fill="#d82222" opacity="0.59"/><circle cx="32.7" cy="3.1" r="0.49" fill="#d82222" opacity="0.67"/><circle cx="35.0" cy="-0.5" r="0.65" fill="#a02020" opacity="0.68"/><circle cx="35.0" cy="36.5" r="0.65" fill="#a02020" opacity="0.68"/><circle cx="24.7" cy="11.9" r="0.71" fill="#b01818" opacity="0.59"/><circle cx="24.1" cy="21.3" r="0.50" fill="#d82222" opacity="0.52"/><circle cx="14.3" cy="4.8" r="0.78" fill="#d82222" opacity="0.86"/><circle cx="15.9" cy="4.9" r="0.75" fill="#a02020" opacity="0.57"/><circle cx="28.6" cy="10.1" r="0.45" fill="#b01818" opacity="0.77"/><circle cx="24.1" cy="36.4" r="0.54" fill="#a02020" opacity="0.85"/><circle cx="20.7" cy="18.4" r="0.49" fill="#a02020" opacity="0.53"/><circle cx="24.9" cy="33.7" r="0.69" fill="#b01818" opacity="0.72"/><circle cx="25.7" cy="15.1" r="0.56" fill="#a02020" opacity="0.83"/><circle cx="30.9" cy="15.4" r="0.85" fill="#a02020" opacity="0.77"/><circle cx="26.9" cy="18.1" r="0.78" fill="#e83030" opacity="0.63"/><circle cx="19.5" cy="34.7" r="0.84" fill="#d82222" opacity="0.52"/><circle cx="38.7" cy="27.4" r="0.73" fill="#a02020" opacity="0.46"/><circle cx="38.3" cy="12.1" r="0.72" fill="#d82222" opacity="0.80"/><circle cx="13.9" cy="14.4" r="0.50" fill="#d82222" opacity="0.83"/><circle cx="27.6" cy="19.1" r="0.48" fill="#a02020" opacity="0.94"/><circle cx="17.9" cy="30.9" r="0.60" fill="#b01818" opacity="0.78"/><circle cx="-0.7" cy="7.1" r="0.81" fill="#e83030" opacity="0.94"/><circle cx="40.3" cy="7.1" r="0.81" fill="#e83030" opacity="0.94"/><circle cx="10.9" cy="27.0" r="0.81" fill="#b01818" opacity="0.78"/><circle cx="35.9" cy="11.9" r="0.50" fill="#d82222" opacity="0.78"/><circle cx="8.3" cy="23.3" r="0.47" fill="#e83030" opacity="0.45"/><circle cx="32.2" cy="18.3" r="0.65" fill="#d82222" opacity="0.70"/><circle cx="27.7" cy="11.7" r="0.68" fill="#d82222" opacity="0.74"/><circle cx="26.2" cy="20.9" r="0.78" fill="#d82222" opacity="0.50"/><circle cx="19.4" cy="33.2" r="0.79" fill="#b01818" opacity="0.75"/><circle cx="25.0" cy="31.7" r="0.73" fill="#d82222" opacity="0.66"/><circle cx="1.6" cy="4.1" r="0.53" fill="#b01818" opacity="0.63"/><circle cx="14.9" cy="34.6" r="0.64" fill="#b01818" opacity="0.57"/><circle cx="40.1" cy="6.5" r="0.53" fill="#a02020" opacity="0.85"/><circle cx="25.6" cy="0.6" r="0.80" fill="#a02020" opacity="0.96"/><circle cx="25.6" cy="37.6" r="0.80" fill="#a02020" opacity="0.96"/><circle cx="8.4" cy="8.2" r="0.67" fill="#b01818" opacity="0.69"/><circle cx="5.9" cy="33.9" r="0.55" fill="#d82222" opacity="0.64"/><circle cx="28.3" cy="9.7" r="0.53" fill="#e83030" opacity="0.81"/><circle cx="7.6" cy="16.0" r="0.52" fill="#e83030" opacity="0.59"/><circle cx="2.2" cy="35.9" r="0.83" fill="#e83030" opacity="0.75"/><circle cx="32.8" cy="36.0" r="0.81" fill="#d82222" opacity="0.98"/><circle cx="21.4" cy="9.4" r="0.76" fill="#a02020" opacity="0.60"/><circle cx="38.8" cy="34.4" r="0.54" fill="#a02020" opacity="0.96"/><circle cx="32.0" cy="8.7" r="0.52" fill="#e83030" opacity="0.54"/><circle cx="26.2" cy="7.5" r="0.71" fill="#d82222" opacity="0.97"/><circle cx="11.0" cy="15.4" r="0.60" fill="#d82222" opacity="0.77"/><circle cx="29.2" cy="27.1" r="0.68" fill="#d82222" opacity="0.63"/><circle cx="-0.0" cy="29.2" r="0.63" fill="#d82222" opacity="0.72"/><circle cx="41.0" cy="29.2" r="0.63" fill="#d82222" opacity="0.72"/><circle cx="24.5" cy="11.4" r="0.72" fill="#b01818" opacity="0.72"/><circle cx="-0.0" cy="-0.1" r="0.83" fill="#d82222" opacity="0.47"/><circle cx="-0.0" cy="36.9" r="0.83" fill="#d82222" opacity="0.47"/><circle cx="41.0" cy="-0.1" r="0.83" fill="#d82222" opacity="0.47"/><circle cx="41.0" cy="36.9" r="0.83" fill="#d82222" opacity="0.47"/><circle cx="14.9" cy="15.9" r="0.60" fill="#b01818" opacity="1.00"/><circle cx="4.1" cy="9.3" r="0.50" fill="#d82222" opacity="0.53"/><circle cx="7.9" cy="6.2" r="0.70" fill="#e83030" opacity="0.52"/><circle cx="29.8" cy="27.0" r="0.56" fill="#a02020" opacity="0.68"/><circle cx="11.7" cy="-0.4" r="0.63" fill="#d82222" opacity="0.58"/><circle cx="11.7" cy="36.6" r="0.63" fill="#d82222" opacity="0.58"/><circle cx="5.3" cy="36.0" r="0.60" fill="#b01818" opacity="0.91"/><circle cx="10.9" cy="6.0" r="0.59" fill="#a02020" opacity="0.90"/><circle cx="24.9" cy="10.3" r="0.59" fill="#b01818" opacity="0.73"/><circle cx="27.3" cy="30.3" r="0.72" fill="#a02020" opacity="0.80"/><circle cx="4.7" cy="32.6" r="0.57" fill="#a02020" opacity="0.47"/><circle cx="20.9" cy="0.6" r="0.65" fill="#e83030" opacity="0.49"/><circle cx="20.9" cy="37.6" r="0.65" fill="#e83030" opacity="0.49"/><circle cx="13.5" cy="8.8" r="0.70" fill="#e83030" opacity="0.75"/><circle cx="6.5" cy="3.7" r="0.76" fill="#e83030" opacity="0.64"/><circle cx="36.4" cy="5.5" r="0.80" fill="#b01818" opacity="0.59"/><circle cx="7.5" cy="33.6" r="0.73" fill="#a02020" opacity="0.55"/><circle cx="20.1" cy="16.7" r="0.55" fill="#d82222" opacity="0.55"/><circle cx="35.5" cy="6.4" r="0.77" fill="#d82222" opacity="0.77"/><circle cx="31.8" cy="36.3" r="0.53" fill="#a02020" opacity="0.84"/><circle cx="25.6" cy="36.2" r="0.70" fill="#d82222" opacity="0.88"/><circle cx="5.4" cy="16.3" r="0.73" fill="#d82222" opacity="0.53"/><circle cx="29.4" cy="16.8" r="0.58" fill="#b01818" opacity="0.54"/><circle cx="32.1" cy="26.5" r="0.63" fill="#e83030" opacity="0.80"/><circle cx="20.5" cy="2.8" r="0.51" fill="#d82222" opacity="0.97"/><circle cx="38.3" cy="5.5" r="0.49" fill="#a02020" opacity="0.83"/><circle cx="35.5" cy="8.3" r="0.82" fill="#a02020" opacity="0.92"/><circle cx="17.6" cy="18.2" r="0.61" fill="#e83030" opacity="0.71"/><circle cx="10.1" cy="0.3" r="0.85" fill="#d82222" opacity="0.88"/><circle cx="10.1" cy="37.3" r="0.85" fill="#d82222" opacity="0.88"/><circle cx="27.5" cy="30.3" r="0.59" fill="#d82222" opacity="0.94"/><circle cx="18.4" cy="20.4" r="0.54" fill="#a02020" opacity="0.50"/><circle cx="10.2" cy="29.5" r="0.61" fill="#e83030" opacity="0.55"/><circle cx="23.7" cy="8.3" r="0.81" fill="#d82222" opacity="0.72"/><circle cx="-0.6" cy="12.1" r="0.67" fill="#e83030" opacity="0.75"/><circle cx="40.4" cy="12.1" r="0.67" fill="#e83030" opacity="0.75"/><circle cx="5.8" cy="9.8" r="0.74" fill="#e83030" opacity="0.65"/><circle cx="28.0" cy="22.8" r="0.60" fill="#a02020" opacity="0.82"/><circle cx="5.5" cy="24.7" r="0.68" fill="#b01818" opacity="0.93"/><circle cx="0.5" cy="11.6" r="0.51" fill="#e83030" opacity="0.99"/><circle cx="17.1" cy="8.9" r="0.80" fill="#b01818" opacity="0.92"/><circle cx="23.3" cy="35.0" r="0.85" fill="#a02020" opacity="0.74"/><circle cx="27.7" cy="30.0" r="0.73" fill="#a02020" opacity="0.73"/><circle cx="37.5" cy="35.6" r="0.72" fill="#e83030" opacity="0.60"/><circle cx="6.2" cy="29.4" r="0.53" fill="#d82222" opacity="0.91"/><circle cx="28.8" cy="27.8" r="0.59" fill="#e83030" opacity="0.53"/><circle cx="16.0" cy="32.2" r="0.52" fill="#a02020" opacity="0.97"/><circle cx="3.3" cy="0.9" r="0.68" fill="#d82222" opacity="0.49"/><circle cx="13.9" cy="26.9" r="0.63" fill="#e83030" opacity="0.81"/><circle cx="16.3" cy="33.6" r="0.77" fill="#d82222" opacity="0.60"/><circle cx="6.8" cy="14.1" r="0.77" fill="#d82222" opacity="0.64"/><circle cx="30.8" cy="5.4" r="0.78" fill="#b01818" opacity="0.56"/><circle cx="31.6" cy="28.2" r="0.67" fill="#e83030" opacity="0.92"/><circle cx="2.6" cy="31.6" r="0.52" fill="#b01818" opacity="0.61"/><circle cx="36.4" cy="-0.1" r="0.55" fill="#a02020" opacity="0.56"/><circle cx="36.4" cy="36.9" r="0.55" fill="#a02020" opacity="0.56"/><circle cx="28.9" cy="9.0" r="0.71" fill="#a02020" opacity="0.78"/><circle cx="32.4" cy="18.6" r="0.73" fill="#b01818" opacity="0.57"/><circle cx="-0.2" cy="28.6" r="0.69" fill="#b01818" opacity="0.86"/><circle cx="40.8" cy="28.6" r="0.69" fill="#b01818" opacity="0.86"/><circle cx="36.8" cy="19.9" r="0.62" fill="#b01818" opacity="0.55"/><circle cx="-0.3" cy="23.2" r="0.65" fill="#e83030" opacity="0.70"/><circle cx="40.7" cy="23.2" r="0.65" fill="#e83030" opacity="0.70"/><circle cx="25.2" cy="18.1" r="0.81" fill="#d82222" opacity="0.94"/><circle cx="29.7" cy="26.6" r="0.53" fill="#e83030" opacity="0.72"/><circle cx="35.2" cy="5.8" r="0.75" fill="#e83030" opacity="0.56"/><circle cx="34.2" cy="15.0" r="0.46" fill="#b01818" opacity="0.55"/><circle cx="29.1" cy="13.1" r="0.69" fill="#b01818" opacity="0.54"/><circle cx="32.1" cy="29.0" r="0.68" fill="#d82222" opacity="0.77"/><circle cx="18.8" cy="9.2" r="0.73" fill="#b01818" opacity="0.87"/><circle cx="39.3" cy="25.3" r="0.67" fill="#b01818" opacity="0.83"/><circle cx="26.0" cy="15.8" r="0.61" fill="#a02020" opacity="0.98"/><circle cx="6.2" cy="30.3" r="0.71" fill="#e83030" opacity="0.64"/><circle cx="11.3" cy="27.6" r="0.67" fill="#d82222" opacity="0.77"/><circle cx="21.8" cy="28.6" r="0.67" fill="#e83030" opacity="0.64"/><circle cx="29.6" cy="4.3" r="0.67" fill="#a02020" opacity="0.64"/><circle cx="37.8" cy="8.0" r="0.47" fill="#b01818" opacity="0.55"/><circle cx="36.4" cy="28.0" r="0.46" fill="#d82222" opacity="0.49"/><circle cx="14.7" cy="9.6" r="0.57" fill="#e83030" opacity="0.45"/><circle cx="2.3" cy="20.1" r="0.45" fill="#b01818" opacity="0.61"/><circle cx="37.8" cy="13.1" r="0.69" fill="#b01818" opacity="0.65"/><circle cx="33.2" cy="32.0" r="0.51" fill="#b01818" opacity="0.69"/><circle cx="25.5" cy="7.3" r="0.64" fill="#a02020" opacity="0.63"/><circle cx="25.4" cy="15.2" r="0.55" fill="#e83030" opacity="0.59"/><circle cx="33.3" cy="18.8" r="0.53" fill="#e83030" opacity="0.82"/><circle cx="38.6" cy="29.9" r="0.53" fill="#e83030" opacity="0.80"/><circle cx="14.8" cy="35.6" r="0.65" fill="#a02020" opacity="0.65"/><circle cx="24.4" cy="34.1" r="0.84" fill="#e83030" opacity="0.88"/><circle cx="21.8" cy="18.8" r="0.67" fill="#b01818" opacity="0.61"/><circle cx="28.9" cy="24.4" r="0.60" fill="#e83030" opacity="0.47"/><circle cx="18.9" cy="28.3" r="0.77" fill="#e83030" opacity="0.91"/><circle cx="8.0" cy="5.6" r="0.51" fill="#b01818" opacity="0.89"/><circle cx="13.2" cy="26.9" r="0.64" fill="#b01818" opacity="0.67"/><circle cx="14.9" cy="23.7" r="0.78" fill="#d82222" opacity="0.75"/><circle cx="21.7" cy="20.5" r="0.66" fill="#a02020" opacity="0.89"/><circle cx="35.3" cy="12.2" r="0.47" fill="#d82222" opacity="0.71"/><circle cx="8.0" cy="34.7" r="0.48" fill="#e83030" opacity="0.80"/><circle cx="28.4" cy="12.3" r="0.74" fill="#b01818" opacity="0.80"/><circle cx="4.0" cy="20.1" r="0.52" fill="#a02020" opacity="0.96"/><circle cx="26.2" cy="1.9" r="0.83" fill="#a02020" opacity="0.88"/><circle cx="20.7" cy="12.9" r="0.77" fill="#b01818" opacity="0.51"/><circle cx="1.4" cy="17.4" r="0.48" fill="#e83030" opacity="0.69"/><circle cx="23.6" cy="25.3" r="0.53" fill="#b01818" opacity="0.59"/><circle cx="8.0" cy="14.1" r="0.70" fill="#a02020" opacity="0.88"/><circle cx="39.7" cy="17.0" r="0.75" fill="#d82222" opacity="0.57"/><circle cx="34.2" cy="15.9" r="0.65" fill="#a02020" opacity="0.91"/><circle cx="16.4" cy="7.0" r="0.74" fill="#e83030" opacity="0.61"/><circle cx="21.2" cy="11.7" r="0.75" fill="#a02020" opacity="0.82"/><circle cx="31.7" cy="2.4" r="0.49" fill="#e83030" opacity="0.75"/><circle cx="4.7" cy="21.3" r="0.70" fill="#d82222" opacity="0.79"/><circle cx="16.9" cy="30.4" r="0.78" fill="#e83030" opacity="0.46"/><circle cx="4.4" cy="20.9" r="0.85" fill="#e83030" opacity="0.93"/><circle cx="29.6" cy="9.6" r="0.74" fill="#b01818" opacity="0.71"/><circle cx="22.7" cy="10.5" r="0.76" fill="#d82222" opacity="0.70"/><circle cx="38.3" cy="21.1" r="0.49" fill="#e83030" opacity="0.65"/><circle cx="23.2" cy="10.4" r="0.61" fill="#a02020" opacity="0.48"/><circle cx="36.9" cy="6.7" r="0.48" fill="#d82222" opacity="0.83"/><circle cx="17.1" cy="14.3" r="0.76" fill="#d82222" opacity="0.61"/><circle cx="34.4" cy="1.4" r="0.80" fill="#e83030" opacity="0.64"/><circle cx="36.3" cy="18.8" r="0.61" fill="#e83030" opacity="0.52"/><circle cx="15.0" cy="8.4" r="0.49" fill="#a02020" opacity="0.77"/><circle cx="7.2" cy="28.6" r="0.83" fill="#e83030" opacity="0.47"/><circle cx="3.3" cy="33.7" r="0.81" fill="#d82222" opacity="0.52"/><circle cx="5.6" cy="29.0" r="0.74" fill="#b01818" opacity="0.70"/><circle cx="2.2" cy="28.3" r="0.55" fill="#a02020" opacity="0.94"/><circle cx="22.7" cy="21.8" r="0.69" fill="#d82222" opacity="0.97"/><circle cx="21.9" cy="5.2" r="0.74" fill="#b01818" opacity="0.49"/><circle cx="12.3" cy="33.0" r="0.56" fill="#a02020" opacity="0.86"/><circle cx="28.4" cy="6.7" r="0.83" fill="#a02020" opacity="0.59"/><circle cx="21.8" cy="25.9" r="0.59" fill="#b01818" opacity="0.79"/><circle cx="6.9" cy="1.5" r="0.81" fill="#e83030" opacity="0.84"/><circle cx="21.4" cy="1.6" r="0.52" fill="#d82222" opacity="0.78"/><circle cx="16.1" cy="1.4" r="0.50" fill="#d82222" opacity="0.46"/><circle cx="37.0" cy="20.2" r="0.58" fill="#d82222" opacity="0.73"/><circle cx="38.9" cy="15.1" r="0.79" fill="#d82222" opacity="0.86"/><circle cx="33.0" cy="10.8" r="0.67" fill="#b01818" opacity="0.54"/><circle cx="9.0" cy="31.5" r="0.56" fill="#a02020" opacity="1.00"/><circle cx="25.7" cy="23.0" r="0.80" fill="#e83030" opacity="0.62"/><circle cx="40.2" cy="19.9" r="0.62" fill="#b01818" opacity="0.58"/><circle cx="8.2" cy="4.6" r="0.51" fill="#d82222" opacity="0.77"/><circle cx="32.7" cy="31.4" r="0.68" fill="#e83030" opacity="0.89"/><circle cx="5.9" cy="6.8" r="0.73" fill="#b01818" opacity="0.63"/><circle cx="23.3" cy="1.9" r="0.68" fill="#d82222" opacity="0.89"/><circle cx="17.2" cy="33.2" r="0.47" fill="#a02020" opacity="0.95"/><circle cx="18.4" cy="21.7" r="0.78" fill="#b01818" opacity="0.57"/><circle cx="38.7" cy="9.0" r="0.77" fill="#a02020" opacity="0.93"/><circle cx="12.7" cy="31.2" r="0.56" fill="#a02020" opacity="0.88"/><circle cx="27.1" cy="0.6" r="0.73" fill="#e83030" opacity="0.58"/><circle cx="27.1" cy="37.6" r="0.73" fill="#e83030" opacity="0.58"/><circle cx="1.2" cy="13.0" r="0.46" fill="#e83030" opacity="0.54"/><circle cx="10.4" cy="26.5" r="0.54" fill="#d82222" opacity="0.46"/><circle cx="-0.1" cy="6.6" r="0.66" fill="#e83030" opacity="0.65"/><circle cx="40.9" cy="6.6" r="0.66" fill="#e83030" opacity="0.65"/><circle cx="1.9" cy="23.7" r="0.58" fill="#a02020" opacity="0.55"/><circle cx="38.7" cy="24.8" r="0.48" fill="#b01818" opacity="0.72"/><circle cx="22.9" cy="1.6" r="0.82" fill="#b01818" opacity="0.96"/><circle cx="19.4" cy="14.7" r="0.75" fill="#a02020" opacity="0.77"/><circle cx="15.9" cy="12.5" r="0.79" fill="#b01818" opacity="0.75"/><circle cx="9.9" cy="7.6" r="0.80" fill="#d82222" opacity="0.62"/><circle cx="24.1" cy="1.5" r="0.73" fill="#e83030" opacity="0.78"/><circle cx="40.1" cy="17.2" r="0.70" fill="#d82222" opacity="0.90"/><circle cx="2.6" cy="12.0" r="0.82" fill="#d82222" opacity="0.61"/><circle cx="18.3" cy="23.3" r="0.49" fill="#b01818" opacity="0.91"/><circle cx="7.8" cy="27.0" r="0.82" fill="#e83030" opacity="0.88"/><circle cx="16.2" cy="-0.8" r="0.85" fill="#d82222" opacity="0.89"/><circle cx="16.2" cy="36.2" r="0.85" fill="#d82222" opacity="0.89"/><circle cx="36.6" cy="32.4" r="0.65" fill="#b01818" opacity="0.52"/><circle cx="26.6" cy="0.4" r="0.76" fill="#e83030" opacity="0.86"/><circle cx="26.6" cy="37.4" r="0.76" fill="#e83030" opacity="0.86"/><circle cx="38.3" cy="21.4" r="0.68" fill="#e83030" opacity="0.63"/><circle cx="40.0" cy="18.8" r="0.77" fill="#e83030" opacity="0.90"/><circle cx="29.6" cy="19.3" r="0.73" fill="#d82222" opacity="0.67"/><circle cx="23.2" cy="15.5" r="0.77" fill="#b01818" opacity="0.69"/><circle cx="5.0" cy="15.0" r="0.83" fill="#d82222" opacity="0.55"/><circle cx="30.2" cy="1.9" r="0.67" fill="#d82222" opacity="0.83"/><circle cx="38.4" cy="25.5" r="0.60" fill="#a02020" opacity="0.86"/><circle cx="32.2" cy="20.5" r="0.67" fill="#d82222" opacity="0.59"/><circle cx="33.8" cy="33.0" r="0.63" fill="#b01818" opacity="0.66"/><circle cx="0.4" cy="6.5" r="0.69" fill="#d82222" opacity="0.51"/><circle cx="41.4" cy="6.5" r="0.69" fill="#d82222" opacity="0.51"/><circle cx="8.1" cy="20.1" r="0.84" fill="#b01818" opacity="0.53"/><circle cx="27.3" cy="30.0" r="0.64" fill="#d82222" opacity="0.61"/><circle cx="1.6" cy="30.8" r="0.68" fill="#d82222" opacity="0.56"/><circle cx="19.4" cy="35.5" r="0.62" fill="#b01818" opacity="0.83"/><circle cx="6.1" cy="23.3" r="0.57" fill="#a02020" opacity="0.78"/><circle cx="1.3" cy="26.8" r="0.84" fill="#d82222" opacity="0.67"/><circle cx="13.5" cy="32.6" r="0.54" fill="#a02020" opacity="0.50"/><circle cx="4.6" cy="12.8" r="0.46" fill="#a02020" opacity="0.89"/><circle cx="28.0" cy="24.2" r="0.54" fill="#e83030" opacity="0.64"/><circle cx="3.7" cy="0.5" r="0.69" fill="#a02020" opacity="0.71"/><circle cx="3.7" cy="37.5" r="0.69" fill="#a02020" opacity="0.71"/><circle cx="24.4" cy="36.2" r="0.64" fill="#a02020" opacity="0.93"/><circle cx="38.0" cy="17.0" r="0.65" fill="#e83030" opacity="0.47"/><circle cx="3.6" cy="21.5" r="0.69" fill="#e83030" opacity="0.55"/><circle cx="36.0" cy="27.0" r="0.81" fill="#e83030" opacity="0.73"/><circle cx="0.9" cy="9.8" r="0.66" fill="#b01818" opacity="0.90"/><circle cx="13.6" cy="22.7" r="0.58" fill="#a02020" opacity="0.95"/><circle cx="22.9" cy="30.4" r="0.81" fill="#b01818" opacity="0.92"/><circle cx="39.6" cy="12.6" r="0.78" fill="#d82222" opacity="0.99"/><circle cx="5.3" cy="11.0" r="0.71" fill="#d82222" opacity="0.60"/><circle cx="27.1" cy="17.6" r="0.51" fill="#a02020" opacity="0.73"/><circle cx="29.1" cy="29.5" r="0.58" fill="#e83030" opacity="0.73"/><circle cx="38.5" cy="-0.7" r="0.81" fill="#a02020" opacity="0.48"/><circle cx="38.5" cy="36.3" r="0.81" fill="#a02020" opacity="0.48"/><circle cx="3.8" cy="25.9" r="0.57" fill="#e83030" opacity="0.90"/><circle cx="25.2" cy="23.8" r="0.83" fill="#d82222" opacity="0.93"/><circle cx="38.8" cy="4.2" r="0.48" fill="#a02020" opacity="0.53"/><circle cx="34.7" cy="14.3" r="0.74" fill="#b01818" opacity="0.89"/><circle cx="37.8" cy="18.7" r="0.76" fill="#a02020" opacity="0.47"/><circle cx="7.8" cy="9.1" r="0.76" fill="#a02020" opacity="0.88"/><circle cx="24.3" cy="9.2" r="0.47" fill="#e83030" opacity="0.92"/><circle cx="27.6" cy="22.3" r="0.75" fill="#a02020" opacity="0.59"/><circle cx="18.3" cy="7.1" r="0.47" fill="#a02020" opacity="0.97"/><circle cx="6.3" cy="31.8" r="0.55" fill="#e83030" opacity="0.49"/><circle cx="4.5" cy="20.7" r="0.75" fill="#b01818" opacity="0.76"/><circle cx="7.2" cy="30.0" r="0.56" fill="#d82222" opacity="0.69"/><circle cx="20.8" cy="3.7" r="0.76" fill="#d82222" opacity="0.89"/><circle cx="32.1" cy="21.5" r="0.74" fill="#d82222" opacity="0.53"/><circle cx="12.2" cy="3.3" r="0.55" fill="#d82222" opacity="0.79"/><circle cx="33.4" cy="6.4" r="0.70" fill="#d82222" opacity="0.62"/><circle cx="12.3" cy="25.6" r="0.47" fill="#e83030" opacity="0.71"/><circle cx="30.6" cy="22.3" r="0.48" fill="#e83030" opacity="0.57"/><circle cx="8.7" cy="35.5" r="0.76" fill="#d82222" opacity="0.93"/><circle cx="34.6" cy="32.3" r="0.75" fill="#a02020" opacity="0.76"/><circle cx="33.0" cy="22.5" r="0.46" fill="#e83030" opacity="0.68"/><circle cx="21.7" cy="25.9" r="0.52" fill="#d82222" opacity="0.94"/><circle cx="4.9" cy="11.0" r="0.72" fill="#e83030" opacity="0.93"/><circle cx="6.1" cy="11.9" r="0.61" fill="#d82222" opacity="0.59"/><circle cx="15.9" cy="1.1" r="0.69" fill="#e83030" opacity="0.92"/><circle cx="13.2" cy="5.0" r="0.53" fill="#a02020" opacity="0.59"/><circle cx="17.4" cy="22.8" r="0.67" fill="#e83030" opacity="0.98"/><circle cx="9.0" cy="19.1" r="0.61" fill="#d82222" opacity="0.86"/><circle cx="9.7" cy="12.6" r="0.75" fill="#b01818" opacity="0.76"/><circle cx="-0.6" cy="14.0" r="0.71" fill="#a02020" opacity="0.66"/><circle cx="40.4" cy="14.0" r="0.71" fill="#a02020" opacity="0.66"/><circle cx="4.0" cy="16.4" r="0.78" fill="#a02020" opacity="1.00"/><circle cx="22.3" cy="21.3" r="0.65" fill="#b01818" opacity="0.77"/><circle cx="35.4" cy="19.0" r="0.71" fill="#a02020" opacity="0.96"/><circle cx="40.0" cy="9.4" r="0.80" fill="#d82222" opacity="0.86"/><circle cx="24.3" cy="6.2" r="0.46" fill="#e83030" opacity="0.47"/><circle cx="16.3" cy="22.3" r="0.63" fill="#d82222" opacity="0.93"/><circle cx="15.3" cy="23.6" r="0.54" fill="#b01818" opacity="0.97"/><circle cx="10.7" cy="14.8" r="0.46" fill="#e83030" opacity="0.86"/><circle cx="8.2" cy="25.1" r="0.55" fill="#b01818" opacity="0.52"/><circle cx="36.5" cy="33.0" r="0.72" fill="#b01818" opacity="0.80"/><circle cx="14.7" cy="20.2" r="0.75" fill="#e83030" opacity="0.93"/></pattern>
<pattern id="pR2d" width="29" height="33" patternUnits="userSpaceOnUse"><circle cx="27.4" cy="31.2" r="0.61" fill="#ff3030" opacity="0.88"/><circle cx="0.6" cy="21.3" r="0.78" fill="#e82020" opacity="0.65"/><circle cx="29.6" cy="21.3" r="0.78" fill="#e82020" opacity="0.65"/><circle cx="5.1" cy="11.5" r="0.81" fill="#ff3030" opacity="0.76"/><circle cx="14.0" cy="32.0" r="0.78" fill="#ff3030" opacity="0.81"/><circle cx="6.0" cy="8.5" r="0.92" fill="#ff3030" opacity="0.93"/><circle cx="3.1" cy="30.3" r="0.89" fill="#ff3030" opacity="0.80"/><circle cx="8.2" cy="28.6" r="0.97" fill="#ff3030" opacity="0.77"/><circle cx="3.0" cy="-0.6" r="0.69" fill="#e82020" opacity="0.70"/><circle cx="3.0" cy="32.4" r="0.69" fill="#e82020" opacity="0.70"/><circle cx="13.0" cy="17.1" r="0.79" fill="#e82020" opacity="0.72"/><circle cx="27.7" cy="24.9" r="0.87" fill="#ff3030" opacity="0.98"/><circle cx="6.7" cy="4.6" r="0.67" fill="#e82020" opacity="0.64"/><circle cx="19.6" cy="16.5" r="0.87" fill="#ff3030" opacity="0.89"/><circle cx="13.3" cy="29.0" r="1.05" fill="#e82020" opacity="0.93"/><circle cx="1.4" cy="10.1" r="1.08" fill="#e82020" opacity="0.93"/><circle cx="6.8" cy="17.8" r="0.73" fill="#ff3030" opacity="0.92"/><circle cx="14.0" cy="8.0" r="0.70" fill="#e82020" opacity="0.62"/><circle cx="18.4" cy="8.3" r="0.85" fill="#e82020" opacity="0.73"/><circle cx="26.8" cy="19.9" r="1.02" fill="#e82020" opacity="0.87"/><circle cx="26.4" cy="24.3" r="0.85" fill="#ff3030" opacity="0.85"/><circle cx="21.0" cy="18.3" r="0.76" fill="#ff3030" opacity="0.67"/><circle cx="20.9" cy="7.9" r="1.03" fill="#e82020" opacity="0.96"/><circle cx="17.8" cy="3.8" r="0.93" fill="#ff3030" opacity="0.96"/><circle cx="6.1" cy="25.7" r="0.74" fill="#e82020" opacity="0.98"/><circle cx="16.6" cy="5.9" r="0.79" fill="#ff3030" opacity="0.68"/><circle cx="27.0" cy="9.5" r="0.80" fill="#ff3030" opacity="0.87"/><circle cx="24.7" cy="0.6" r="0.94" fill="#e82020" opacity="0.69"/><circle cx="24.7" cy="33.6" r="0.94" fill="#e82020" opacity="0.69"/><circle cx="12.0" cy="29.8" r="0.87" fill="#e82020" opacity="0.94"/><circle cx="12.5" cy="-0.1" r="1.07" fill="#e82020" opacity="0.78"/><circle cx="12.5" cy="32.9" r="1.07" fill="#e82020" opacity="0.78"/><circle cx="6.5" cy="26.8" r="0.81" fill="#ff3030" opacity="0.88"/><circle cx="13.8" cy="19.3" r="1.05" fill="#ff3030" opacity="0.85"/><circle cx="25.6" cy="24.2" r="0.83" fill="#ff3030" opacity="0.98"/><circle cx="2.6" cy="30.9" r="0.61" fill="#e82020" opacity="0.99"/><circle cx="22.6" cy="11.4" r="0.74" fill="#ff3030" opacity="0.67"/><circle cx="5.1" cy="3.5" r="0.99" fill="#ff3030" opacity="0.70"/><circle cx="24.9" cy="-0.4" r="0.82" fill="#ff3030" opacity="0.67"/><circle cx="24.9" cy="32.6" r="0.82" fill="#ff3030" opacity="0.67"/><circle cx="6.4" cy="8.3" r="1.07" fill="#ff3030" opacity="0.88"/><circle cx="8.3" cy="5.7" r="0.61" fill="#ff3030" opacity="0.69"/><circle cx="4.0" cy="28.0" r="0.87" fill="#e82020" opacity="0.75"/><circle cx="22.9" cy="2.4" r="0.63" fill="#ff3030" opacity="0.80"/><circle cx="6.3" cy="13.6" r="0.81" fill="#e82020" opacity="0.88"/><circle cx="10.2" cy="7.6" r="0.99" fill="#ff3030" opacity="0.63"/><circle cx="21.1" cy="20.7" r="0.61" fill="#e82020" opacity="0.63"/><circle cx="-0.4" cy="23.1" r="0.81" fill="#ff3030" opacity="0.98"/><circle cx="28.6" cy="23.1" r="0.81" fill="#ff3030" opacity="0.98"/><circle cx="2.9" cy="21.7" r="0.80" fill="#e82020" opacity="0.72"/><circle cx="5.5" cy="20.1" r="0.83" fill="#e82020" opacity="0.88"/><circle cx="23.2" cy="22.6" r="0.65" fill="#e82020" opacity="0.83"/><circle cx="5.7" cy="12.3" r="0.86" fill="#ff3030" opacity="0.71"/><circle cx="8.8" cy="9.6" r="0.95" fill="#ff3030" opacity="0.65"/><circle cx="24.5" cy="29.5" r="1.09" fill="#ff3030" opacity="0.80"/><circle cx="2.9" cy="6.6" r="0.80" fill="#e82020" opacity="0.87"/><circle cx="2.8" cy="30.9" r="0.81" fill="#ff3030" opacity="0.78"/><circle cx="26.0" cy="10.4" r="1.04" fill="#ff3030" opacity="0.96"/><circle cx="8.3" cy="23.2" r="0.91" fill="#ff3030" opacity="0.94"/><circle cx="13.0" cy="4.8" r="0.82" fill="#e82020" opacity="0.67"/><circle cx="23.1" cy="6.9" r="0.96" fill="#ff3030" opacity="0.92"/><circle cx="13.8" cy="28.6" r="0.65" fill="#e82020" opacity="0.61"/><circle cx="18.1" cy="1.2" r="1.02" fill="#ff3030" opacity="0.91"/><circle cx="7.0" cy="30.5" r="0.71" fill="#e82020" opacity="1.00"/><circle cx="27.3" cy="14.4" r="0.76" fill="#ff3030" opacity="0.99"/><circle cx="3.7" cy="28.3" r="0.98" fill="#ff3030" opacity="0.68"/><circle cx="12.6" cy="0.0" r="0.76" fill="#ff3030" opacity="0.72"/><circle cx="12.6" cy="33.0" r="0.76" fill="#ff3030" opacity="0.72"/><circle cx="3.3" cy="26.7" r="0.64" fill="#e82020" opacity="0.64"/><circle cx="4.1" cy="24.3" r="1.09" fill="#e82020" opacity="0.79"/><circle cx="13.1" cy="22.3" r="0.61" fill="#e82020" opacity="0.95"/><circle cx="14.9" cy="5.8" r="0.97" fill="#ff3030" opacity="0.96"/><circle cx="7.8" cy="14.5" r="0.68" fill="#e82020" opacity="0.63"/><circle cx="10.4" cy="3.0" r="0.99" fill="#ff3030" opacity="0.71"/><circle cx="7.2" cy="25.6" r="0.97" fill="#ff3030" opacity="0.65"/><circle cx="2.4" cy="19.0" r="1.02" fill="#ff3030" opacity="0.81"/><circle cx="12.2" cy="17.4" r="0.64" fill="#ff3030" opacity="0.63"/><circle cx="18.1" cy="8.5" r="0.70" fill="#ff3030" opacity="0.63"/><circle cx="7.9" cy="1.8" r="1.01" fill="#ff3030" opacity="0.73"/><circle cx="9.2" cy="11.0" r="0.92" fill="#e82020" opacity="0.84"/><circle cx="26.5" cy="16.6" r="0.61" fill="#e82020" opacity="0.90"/><circle cx="11.2" cy="21.8" r="0.91" fill="#e82020" opacity="0.74"/><circle cx="4.4" cy="14.8" r="1.09" fill="#ff3030" opacity="0.60"/><circle cx="10.7" cy="16.7" r="0.96" fill="#ff3030" opacity="0.70"/><circle cx="15.4" cy="31.9" r="0.72" fill="#ff3030" opacity="0.84"/><circle cx="14.9" cy="22.4" r="0.93" fill="#ff3030" opacity="0.91"/><circle cx="19.9" cy="23.5" r="0.73" fill="#ff3030" opacity="0.95"/><circle cx="14.5" cy="20.8" r="0.77" fill="#ff3030" opacity="0.70"/><circle cx="16.4" cy="12.5" r="0.74" fill="#e82020" opacity="0.63"/><circle cx="18.2" cy="21.6" r="0.65" fill="#ff3030" opacity="0.91"/><circle cx="2.2" cy="-0.7" r="0.82" fill="#ff3030" opacity="0.79"/><circle cx="2.2" cy="32.3" r="0.82" fill="#ff3030" opacity="0.79"/><circle cx="3.8" cy="10.4" r="0.68" fill="#e82020" opacity="0.91"/><circle cx="11.6" cy="16.9" r="0.71" fill="#ff3030" opacity="0.93"/><circle cx="9.4" cy="15.1" r="0.68" fill="#e82020" opacity="0.92"/><circle cx="12.8" cy="10.9" r="1.06" fill="#e82020" opacity="0.64"/><circle cx="9.2" cy="19.7" r="0.95" fill="#e82020" opacity="0.89"/><circle cx="9.1" cy="6.7" r="0.92" fill="#e82020" opacity="0.63"/><circle cx="13.9" cy="14.5" r="0.82" fill="#e82020" opacity="0.86"/><circle cx="20.9" cy="5.5" r="0.76" fill="#ff3030" opacity="0.89"/><circle cx="25.9" cy="1.0" r="0.79" fill="#e82020" opacity="0.74"/><circle cx="26.6" cy="14.1" r="0.64" fill="#ff3030" opacity="0.92"/><circle cx="0.6" cy="20.8" r="1.04" fill="#e82020" opacity="0.76"/><circle cx="29.6" cy="20.8" r="1.04" fill="#e82020" opacity="0.76"/><circle cx="27.9" cy="8.8" r="1.08" fill="#ff3030" opacity="0.95"/><circle cx="7.0" cy="27.6" r="0.97" fill="#ff3030" opacity="0.89"/><circle cx="4.5" cy="7.5" r="1.10" fill="#e82020" opacity="0.74"/><circle cx="14.9" cy="9.6" r="0.96" fill="#e82020" opacity="0.82"/><circle cx="20.1" cy="11.6" r="0.95" fill="#ff3030" opacity="0.68"/><circle cx="21.8" cy="22.9" r="0.98" fill="#ff3030" opacity="0.96"/><circle cx="20.7" cy="2.8" r="0.70" fill="#ff3030" opacity="0.96"/><circle cx="15.1" cy="26.8" r="0.83" fill="#e82020" opacity="0.83"/><circle cx="20.8" cy="7.1" r="0.77" fill="#ff3030" opacity="0.87"/><circle cx="24.8" cy="10.5" r="1.03" fill="#e82020" opacity="0.99"/><circle cx="25.1" cy="20.2" r="1.00" fill="#ff3030" opacity="0.88"/><circle cx="20.5" cy="17.2" r="0.61" fill="#ff3030" opacity="0.78"/><circle cx="15.7" cy="26.1" r="0.79" fill="#e82020" opacity="0.95"/><circle cx="6.4" cy="31.3" r="0.76" fill="#e82020" opacity="0.62"/><circle cx="25.7" cy="12.4" r="0.81" fill="#ff3030" opacity="0.95"/><circle cx="12.3" cy="3.6" r="0.73" fill="#ff3030" opacity="0.69"/><circle cx="23.5" cy="19.7" r="0.85" fill="#e82020" opacity="0.86"/><circle cx="26.3" cy="14.0" r="0.97" fill="#ff3030" opacity="0.63"/><circle cx="6.1" cy="23.8" r="0.74" fill="#e82020" opacity="0.61"/><circle cx="7.6" cy="24.5" r="1.10" fill="#ff3030" opacity="0.77"/><circle cx="0.2" cy="5.6" r="0.99" fill="#e82020" opacity="0.63"/><circle cx="29.2" cy="5.6" r="0.99" fill="#e82020" opacity="0.63"/><circle cx="17.1" cy="0.4" r="0.88" fill="#ff3030" opacity="0.93"/><circle cx="17.1" cy="33.4" r="0.88" fill="#ff3030" opacity="0.93"/><circle cx="3.7" cy="23.2" r="0.73" fill="#ff3030" opacity="0.90"/><circle cx="2.7" cy="11.3" r="1.07" fill="#ff3030" opacity="0.93"/><circle cx="25.3" cy="16.5" r="1.05" fill="#e82020" opacity="0.71"/><circle cx="-0.5" cy="27.0" r="1.08" fill="#ff3030" opacity="0.87"/><circle cx="28.5" cy="27.0" r="1.08" fill="#ff3030" opacity="0.87"/><circle cx="8.9" cy="9.8" r="0.78" fill="#ff3030" opacity="0.63"/><circle cx="25.4" cy="24.4" r="0.74" fill="#e82020" opacity="0.84"/><circle cx="23.5" cy="25.1" r="1.06" fill="#e82020" opacity="0.71"/><circle cx="22.6" cy="21.0" r="0.79" fill="#ff3030" opacity="0.87"/><circle cx="10.3" cy="6.7" r="0.75" fill="#ff3030" opacity="0.64"/><circle cx="14.5" cy="4.2" r="0.93" fill="#ff3030" opacity="0.71"/><circle cx="13.7" cy="29.7" r="1.06" fill="#ff3030" opacity="0.85"/><circle cx="5.7" cy="3.5" r="0.81" fill="#e82020" opacity="0.89"/><circle cx="6.8" cy="12.5" r="0.68" fill="#ff3030" opacity="0.86"/><circle cx="18.0" cy="26.0" r="0.74" fill="#e82020" opacity="0.84"/><circle cx="18.3" cy="5.8" r="0.74" fill="#e82020" opacity="0.72"/><circle cx="13.0" cy="16.2" r="0.96" fill="#e82020" opacity="0.83"/><circle cx="16.8" cy="30.0" r="0.82" fill="#ff3030" opacity="0.65"/><circle cx="13.6" cy="0.0" r="0.64" fill="#e82020" opacity="0.97"/><circle cx="13.6" cy="33.0" r="0.64" fill="#e82020" opacity="0.97"/><circle cx="21.6" cy="19.7" r="0.73" fill="#ff3030" opacity="0.84"/><circle cx="10.9" cy="8.1" r="0.85" fill="#ff3030" opacity="0.96"/><circle cx="5.5" cy="16.2" r="1.00" fill="#e82020" opacity="0.67"/><circle cx="2.3" cy="14.7" r="0.96" fill="#e82020" opacity="0.76"/><circle cx="26.7" cy="10.0" r="0.62" fill="#ff3030" opacity="0.82"/><circle cx="25.5" cy="9.0" r="0.91" fill="#ff3030" opacity="0.75"/><circle cx="26.0" cy="24.2" r="1.00" fill="#e82020" opacity="0.96"/><circle cx="0.4" cy="23.3" r="0.86" fill="#e82020" opacity="0.93"/><circle cx="29.4" cy="23.3" r="0.86" fill="#e82020" opacity="0.93"/><circle cx="8.8" cy="0.9" r="0.68" fill="#ff3030" opacity="0.94"/><circle cx="21.0" cy="25.4" r="0.78" fill="#ff3030" opacity="0.73"/><circle cx="5.9" cy="27.7" r="0.70" fill="#e82020" opacity="0.60"/><circle cx="23.5" cy="17.1" r="0.80" fill="#e82020" opacity="0.62"/><circle cx="13.5" cy="14.5" r="0.93" fill="#e82020" opacity="0.75"/><circle cx="4.5" cy="17.9" r="0.75" fill="#ff3030" opacity="0.96"/><circle cx="3.9" cy="24.6" r="0.66" fill="#ff3030" opacity="0.64"/><circle cx="27.0" cy="16.7" r="0.68" fill="#e82020" opacity="0.90"/><circle cx="16.0" cy="11.5" r="0.90" fill="#ff3030" opacity="0.75"/><circle cx="20.5" cy="3.7" r="0.63" fill="#e82020" opacity="0.99"/><circle cx="6.1" cy="11.9" r="0.61" fill="#e82020" opacity="0.98"/><circle cx="19.2" cy="-0.7" r="0.83" fill="#e82020" opacity="0.88"/><circle cx="19.2" cy="32.3" r="0.83" fill="#e82020" opacity="0.88"/><circle cx="20.3" cy="27.4" r="0.99" fill="#ff3030" opacity="0.78"/><circle cx="6.3" cy="26.1" r="1.09" fill="#ff3030" opacity="0.62"/><circle cx="23.2" cy="5.4" r="0.88" fill="#ff3030" opacity="0.95"/><circle cx="1.8" cy="24.6" r="0.82" fill="#e82020" opacity="0.75"/><circle cx="24.7" cy="6.4" r="0.66" fill="#ff3030" opacity="0.71"/><circle cx="1.4" cy="13.9" r="0.96" fill="#e82020" opacity="0.83"/><circle cx="25.9" cy="17.8" r="0.86" fill="#ff3030" opacity="0.88"/><circle cx="5.1" cy="18.1" r="0.83" fill="#e82020" opacity="0.80"/><circle cx="7.9" cy="26.5" r="0.77" fill="#e82020" opacity="0.74"/><circle cx="13.8" cy="22.7" r="0.96" fill="#e82020" opacity="0.75"/><circle cx="5.7" cy="0.6" r="0.72" fill="#ff3030" opacity="0.96"/><circle cx="5.7" cy="33.6" r="0.72" fill="#ff3030" opacity="0.96"/><circle cx="18.3" cy="32.2" r="0.63" fill="#e82020" opacity="0.82"/><circle cx="8.3" cy="30.0" r="0.70" fill="#ff3030" opacity="0.91"/><circle cx="2.4" cy="27.4" r="0.89" fill="#e82020" opacity="0.95"/><circle cx="5.8" cy="1.6" r="0.64" fill="#e82020" opacity="0.88"/><circle cx="4.5" cy="3.0" r="0.90" fill="#ff3030" opacity="0.91"/><circle cx="18.7" cy="4.6" r="1.08" fill="#e82020" opacity="0.73"/><circle cx="5.4" cy="27.0" r="0.89" fill="#e82020" opacity="0.64"/><circle cx="7.0" cy="1.4" r="1.05" fill="#ff3030" opacity="0.64"/><circle cx="26.5" cy="11.1" r="0.82" fill="#e82020" opacity="1.00"/><circle cx="11.5" cy="24.4" r="1.01" fill="#ff3030" opacity="0.99"/><circle cx="15.6" cy="17.7" r="0.99" fill="#ff3030" opacity="0.95"/><circle cx="22.3" cy="19.7" r="0.62" fill="#ff3030" opacity="0.63"/><circle cx="23.8" cy="1.6" r="0.88" fill="#ff3030" opacity="0.84"/><circle cx="11.9" cy="4.6" r="0.89" fill="#ff3030" opacity="0.71"/><circle cx="23.5" cy="15.2" r="0.86" fill="#ff3030" opacity="0.62"/><circle cx="12.8" cy="18.3" r="0.79" fill="#ff3030" opacity="0.97"/><circle cx="0.6" cy="30.6" r="0.90" fill="#ff3030" opacity="0.62"/><circle cx="29.6" cy="30.6" r="0.90" fill="#ff3030" opacity="0.62"/><circle cx="24.2" cy="6.7" r="1.07" fill="#e82020" opacity="0.67"/><circle cx="11.8" cy="4.2" r="0.89" fill="#e82020" opacity="0.69"/><circle cx="0.5" cy="25.5" r="0.98" fill="#ff3030" opacity="0.99"/><circle cx="29.5" cy="25.5" r="0.98" fill="#ff3030" opacity="0.99"/><circle cx="20.9" cy="30.5" r="1.06" fill="#e82020" opacity="0.75"/><circle cx="9.9" cy="25.1" r="0.83" fill="#e82020" opacity="0.79"/><circle cx="26.3" cy="10.2" r="1.01" fill="#ff3030" opacity="0.70"/><circle cx="18.3" cy="9.3" r="1.02" fill="#e82020" opacity="0.83"/><circle cx="6.3" cy="28.6" r="0.97" fill="#ff3030" opacity="0.90"/><circle cx="6.8" cy="-0.6" r="0.96" fill="#e82020" opacity="0.97"/><circle cx="6.8" cy="32.4" r="0.96" fill="#e82020" opacity="0.97"/><circle cx="6.6" cy="-0.3" r="0.84" fill="#e82020" opacity="0.98"/><circle cx="6.6" cy="32.7" r="0.84" fill="#e82020" opacity="0.98"/><circle cx="4.3" cy="9.5" r="0.87" fill="#e82020" opacity="0.60"/><circle cx="6.1" cy="8.7" r="0.78" fill="#ff3030" opacity="0.64"/><circle cx="15.3" cy="18.9" r="0.79" fill="#e82020" opacity="0.93"/><circle cx="7.1" cy="0.4" r="0.95" fill="#ff3030" opacity="0.63"/><circle cx="7.1" cy="33.4" r="0.95" fill="#ff3030" opacity="0.63"/><circle cx="12.8" cy="22.0" r="0.87" fill="#ff3030" opacity="0.78"/><circle cx="25.9" cy="30.3" r="0.84" fill="#ff3030" opacity="0.90"/><circle cx="17.4" cy="16.3" r="0.98" fill="#e82020" opacity="0.87"/></pattern>
<pattern id="pO1" width="47" height="39" patternUnits="userSpaceOnUse"><circle cx="6.8" cy="5.5" r="0.47" fill="#c0a090" opacity="0.42"/><circle cx="12.6" cy="16.7" r="0.57" fill="#b08070" opacity="0.70"/><circle cx="27.7" cy="37.9" r="0.49" fill="#907060" opacity="0.55"/><circle cx="-0.3" cy="0.6" r="0.58" fill="#c0a090" opacity="0.53"/><circle cx="46.7" cy="0.6" r="0.58" fill="#c0a090" opacity="0.53"/><circle cx="21.5" cy="13.7" r="0.48" fill="#a08070" opacity="0.55"/><circle cx="23.5" cy="30.3" r="0.43" fill="#a08070" opacity="0.49"/><circle cx="11.2" cy="28.1" r="0.56" fill="#907060" opacity="0.65"/><circle cx="18.5" cy="1.6" r="0.46" fill="#c0a090" opacity="0.44"/><circle cx="29.0" cy="4.3" r="0.51" fill="#a08070" opacity="0.65"/><circle cx="25.0" cy="22.9" r="0.44" fill="#a08070" opacity="0.42"/><circle cx="46.6" cy="6.6" r="0.42" fill="#a08070" opacity="0.70"/><circle cx="18.9" cy="37.6" r="0.55" fill="#b08070" opacity="0.71"/><circle cx="2.6" cy="1.0" r="0.63" fill="#c0a090" opacity="0.47"/><circle cx="36.4" cy="0.0" r="0.45" fill="#907060" opacity="0.63"/><circle cx="36.4" cy="39.0" r="0.45" fill="#907060" opacity="0.63"/><circle cx="28.0" cy="10.1" r="0.49" fill="#907060" opacity="0.58"/><circle cx="32.2" cy="17.8" r="0.52" fill="#c0a090" opacity="0.66"/><circle cx="26.9" cy="9.6" r="0.65" fill="#c0a090" opacity="0.33"/><circle cx="18.3" cy="14.6" r="0.43" fill="#907060" opacity="0.74"/><circle cx="36.0" cy="14.1" r="0.56" fill="#b08070" opacity="0.57"/><circle cx="34.0" cy="23.1" r="0.54" fill="#c0a090" opacity="0.41"/><circle cx="3.3" cy="8.6" r="0.56" fill="#b08070" opacity="0.42"/><circle cx="28.9" cy="16.2" r="0.55" fill="#907060" opacity="0.69"/><circle cx="8.0" cy="27.6" r="0.45" fill="#907060" opacity="0.66"/><circle cx="20.1" cy="31.0" r="0.62" fill="#b08070" opacity="0.37"/><circle cx="4.1" cy="5.1" r="0.58" fill="#b08070" opacity="0.50"/><circle cx="34.2" cy="30.1" r="0.58" fill="#a08070" opacity="0.49"/><circle cx="31.5" cy="18.8" r="0.61" fill="#c0a090" opacity="0.45"/><circle cx="27.6" cy="35.3" r="0.59" fill="#b08070" opacity="0.59"/><circle cx="13.9" cy="2.3" r="0.45" fill="#c0a090" opacity="0.45"/><circle cx="23.8" cy="15.3" r="0.46" fill="#c0a090" opacity="0.58"/><circle cx="23.3" cy="16.0" r="0.48" fill="#907060" opacity="0.66"/><circle cx="45.7" cy="31.2" r="0.62" fill="#c0a090" opacity="0.53"/><circle cx="23.4" cy="30.5" r="0.62" fill="#a08070" opacity="0.41"/><circle cx="10.5" cy="17.8" r="0.55" fill="#907060" opacity="0.34"/><circle cx="33.7" cy="22.1" r="0.50" fill="#a08070" opacity="0.32"/><circle cx="29.1" cy="12.3" r="0.42" fill="#b08070" opacity="0.59"/><circle cx="26.8" cy="1.8" r="0.55" fill="#907060" opacity="0.66"/><circle cx="31.4" cy="13.8" r="0.49" fill="#a08070" opacity="0.42"/><circle cx="24.0" cy="11.4" r="0.64" fill="#c0a090" opacity="0.32"/><circle cx="1.2" cy="35.5" r="0.64" fill="#907060" opacity="0.33"/><circle cx="46.2" cy="4.7" r="0.52" fill="#c0a090" opacity="0.53"/><circle cx="10.0" cy="15.0" r="0.59" fill="#b08070" opacity="0.71"/><circle cx="8.8" cy="23.2" r="0.62" fill="#a08070" opacity="0.64"/><circle cx="19.6" cy="37.4" r="0.48" fill="#907060" opacity="0.50"/><circle cx="6.3" cy="30.7" r="0.62" fill="#c0a090" opacity="0.71"/><circle cx="19.7" cy="36.2" r="0.43" fill="#c0a090" opacity="0.48"/><circle cx="-0.1" cy="3.4" r="0.59" fill="#a08070" opacity="0.59"/><circle cx="46.9" cy="3.4" r="0.59" fill="#a08070" opacity="0.59"/><circle cx="23.6" cy="37.9" r="0.61" fill="#c0a090" opacity="0.65"/><circle cx="19.6" cy="21.6" r="0.45" fill="#b08070" opacity="0.65"/><circle cx="8.0" cy="7.7" r="0.65" fill="#c0a090" opacity="0.59"/><circle cx="20.0" cy="36.3" r="0.50" fill="#c0a090" opacity="0.50"/><circle cx="2.0" cy="7.4" r="0.64" fill="#c0a090" opacity="0.60"/><circle cx="25.2" cy="11.9" r="0.47" fill="#b08070" opacity="0.41"/><circle cx="28.2" cy="6.8" r="0.61" fill="#907060" opacity="0.74"/><circle cx="37.0" cy="15.8" r="0.46" fill="#a08070" opacity="0.60"/><circle cx="34.5" cy="5.9" r="0.65" fill="#907060" opacity="0.71"/><circle cx="10.1" cy="6.7" r="0.43" fill="#a08070" opacity="0.65"/><circle cx="46.5" cy="6.8" r="0.49" fill="#a08070" opacity="0.43"/><circle cx="23.3" cy="10.5" r="0.50" fill="#c0a090" opacity="0.35"/><circle cx="25.4" cy="34.0" r="0.43" fill="#b08070" opacity="0.58"/><circle cx="12.9" cy="38.0" r="0.54" fill="#c0a090" opacity="0.36"/><circle cx="10.6" cy="14.0" r="0.49" fill="#b08070" opacity="0.43"/><circle cx="15.8" cy="15.6" r="0.60" fill="#a08070" opacity="0.33"/><circle cx="7.0" cy="15.4" r="0.48" fill="#c0a090" opacity="0.31"/><circle cx="15.2" cy="9.7" r="0.45" fill="#a08070" opacity="0.58"/><circle cx="28.5" cy="1.0" r="0.51" fill="#907060" opacity="0.49"/><circle cx="5.1" cy="33.8" r="0.56" fill="#907060" opacity="0.46"/><circle cx="43.4" cy="28.4" r="0.40" fill="#b08070" opacity="0.32"/><circle cx="7.1" cy="16.6" r="0.64" fill="#b08070" opacity="0.41"/><circle cx="1.9" cy="7.6" r="0.57" fill="#907060" opacity="0.62"/><circle cx="31.0" cy="12.7" r="0.56" fill="#b08070" opacity="0.48"/><circle cx="33.0" cy="37.8" r="0.56" fill="#c0a090" opacity="0.49"/><circle cx="31.7" cy="35.2" r="0.41" fill="#b08070" opacity="0.35"/><circle cx="0.9" cy="30.3" r="0.54" fill="#a08070" opacity="0.59"/><circle cx="28.2" cy="17.2" r="0.52" fill="#a08070" opacity="0.46"/><circle cx="2.7" cy="23.8" r="0.63" fill="#907060" opacity="0.47"/><circle cx="9.3" cy="32.1" r="0.50" fill="#907060" opacity="0.43"/><circle cx="20.4" cy="23.7" r="0.55" fill="#c0a090" opacity="0.56"/><circle cx="9.9" cy="10.6" r="0.57" fill="#b08070" opacity="0.72"/><circle cx="3.6" cy="16.6" r="0.50" fill="#907060" opacity="0.68"/><circle cx="18.7" cy="2.8" r="0.48" fill="#b08070" opacity="0.74"/><circle cx="16.7" cy="12.1" r="0.49" fill="#c0a090" opacity="0.35"/><circle cx="22.0" cy="25.4" r="0.41" fill="#b08070" opacity="0.44"/><circle cx="5.7" cy="17.8" r="0.46" fill="#907060" opacity="0.51"/><circle cx="17.0" cy="28.8" r="0.53" fill="#c0a090" opacity="0.48"/><circle cx="43.0" cy="34.9" r="0.45" fill="#a08070" opacity="0.69"/><circle cx="23.9" cy="9.4" r="0.49" fill="#c0a090" opacity="0.69"/><circle cx="44.6" cy="23.2" r="0.64" fill="#907060" opacity="0.32"/><circle cx="12.9" cy="4.8" r="0.43" fill="#a08070" opacity="0.74"/><circle cx="14.5" cy="34.8" r="0.44" fill="#907060" opacity="0.49"/><circle cx="21.0" cy="32.8" r="0.57" fill="#b08070" opacity="0.57"/><circle cx="29.9" cy="3.7" r="0.53" fill="#907060" opacity="0.70"/><circle cx="32.0" cy="5.3" r="0.40" fill="#a08070" opacity="0.34"/><circle cx="37.0" cy="9.7" r="0.41" fill="#c0a090" opacity="0.69"/><circle cx="14.5" cy="7.1" r="0.60" fill="#a08070" opacity="0.67"/><circle cx="11.1" cy="18.3" r="0.45" fill="#b08070" opacity="0.60"/><circle cx="41.7" cy="32.0" r="0.60" fill="#c0a090" opacity="0.39"/><circle cx="4.2" cy="9.2" r="0.54" fill="#a08070" opacity="0.62"/><circle cx="9.9" cy="22.6" r="0.55" fill="#b08070" opacity="0.44"/><circle cx="19.0" cy="21.5" r="0.61" fill="#a08070" opacity="0.58"/><circle cx="43.5" cy="10.8" r="0.50" fill="#a08070" opacity="0.45"/><circle cx="11.1" cy="7.1" r="0.48" fill="#b08070" opacity="0.35"/><circle cx="23.9" cy="31.1" r="0.59" fill="#a08070" opacity="0.46"/><circle cx="18.3" cy="6.3" r="0.40" fill="#c0a090" opacity="0.46"/><circle cx="5.6" cy="4.8" r="0.54" fill="#c0a090" opacity="0.43"/><circle cx="23.4" cy="28.2" r="0.48" fill="#c0a090" opacity="0.61"/><circle cx="21.8" cy="25.6" r="0.44" fill="#a08070" opacity="0.57"/><circle cx="24.1" cy="2.6" r="0.44" fill="#b08070" opacity="0.54"/><circle cx="28.3" cy="8.2" r="0.45" fill="#a08070" opacity="0.69"/><circle cx="8.1" cy="33.0" r="0.56" fill="#a08070" opacity="0.68"/><circle cx="37.1" cy="36.0" r="0.50" fill="#b08070" opacity="0.32"/><circle cx="21.8" cy="33.6" r="0.49" fill="#b08070" opacity="0.67"/><circle cx="27.9" cy="14.9" r="0.63" fill="#907060" opacity="0.34"/><circle cx="43.1" cy="23.7" r="0.40" fill="#907060" opacity="0.56"/><circle cx="23.2" cy="30.0" r="0.45" fill="#b08070" opacity="0.39"/><circle cx="28.7" cy="18.8" r="0.54" fill="#b08070" opacity="0.42"/><circle cx="19.5" cy="30.2" r="0.63" fill="#b08070" opacity="0.46"/><circle cx="22.8" cy="33.0" r="0.49" fill="#c0a090" opacity="0.40"/><circle cx="2.0" cy="28.5" r="0.57" fill="#a08070" opacity="0.66"/><circle cx="33.4" cy="23.7" r="0.46" fill="#c0a090" opacity="0.61"/></pattern>
<pattern id="pO2" width="31" height="37" patternUnits="userSpaceOnUse"><circle cx="21.2" cy="10.4" r="0.64" fill="#e8642a" opacity="0.96"/><circle cx="6.4" cy="23.9" r="0.54" fill="#e8642a" opacity="0.88"/><circle cx="9.8" cy="31.4" r="0.78" fill="#e8642a" opacity="0.96"/><circle cx="3.5" cy="33.3" r="0.58" fill="#e8642a" opacity="0.74"/><circle cx="3.9" cy="20.9" r="0.84" fill="#d89060" opacity="0.92"/><circle cx="21.6" cy="30.2" r="0.70" fill="#c84a1a" opacity="0.79"/><circle cx="23.1" cy="4.2" r="0.51" fill="#c84a1a" opacity="0.67"/><circle cx="24.7" cy="36.3" r="0.55" fill="#c84a1a" opacity="0.62"/><circle cx="20.2" cy="22.7" r="0.69" fill="#f07a3a" opacity="0.64"/><circle cx="0.0" cy="9.2" r="0.56" fill="#e8642a" opacity="0.79"/><circle cx="31.0" cy="9.2" r="0.56" fill="#e8642a" opacity="0.79"/><circle cx="20.4" cy="22.9" r="0.77" fill="#c84a1a" opacity="0.64"/><circle cx="6.0" cy="13.3" r="0.76" fill="#d89060" opacity="0.86"/><circle cx="2.9" cy="2.2" r="0.80" fill="#e8642a" opacity="0.63"/><circle cx="0.4" cy="18.4" r="0.54" fill="#e8642a" opacity="0.92"/><circle cx="31.4" cy="18.4" r="0.54" fill="#e8642a" opacity="0.92"/><circle cx="23.3" cy="34.2" r="0.60" fill="#d89060" opacity="0.78"/><circle cx="9.8" cy="23.4" r="0.51" fill="#c84a1a" opacity="0.72"/><circle cx="3.4" cy="24.2" r="0.60" fill="#d89060" opacity="0.76"/><circle cx="3.6" cy="35.9" r="0.59" fill="#f07a3a" opacity="0.78"/><circle cx="27.0" cy="12.8" r="0.88" fill="#f07a3a" opacity="0.84"/><circle cx="9.6" cy="23.3" r="0.79" fill="#e8642a" opacity="1.00"/><circle cx="25.7" cy="32.5" r="0.87" fill="#e8642a" opacity="0.99"/><circle cx="3.3" cy="22.3" r="0.75" fill="#e8642a" opacity="0.91"/><circle cx="4.0" cy="7.3" r="0.50" fill="#d89060" opacity="0.99"/><circle cx="22.6" cy="33.8" r="0.61" fill="#c84a1a" opacity="0.82"/><circle cx="10.6" cy="27.4" r="0.66" fill="#c84a1a" opacity="0.83"/><circle cx="11.8" cy="36.0" r="0.83" fill="#d89060" opacity="0.71"/><circle cx="18.7" cy="8.6" r="0.56" fill="#d89060" opacity="0.77"/><circle cx="15.4" cy="17.1" r="0.52" fill="#f07a3a" opacity="0.73"/><circle cx="19.9" cy="3.1" r="0.86" fill="#e8642a" opacity="0.95"/><circle cx="10.2" cy="9.7" r="0.65" fill="#e8642a" opacity="0.77"/><circle cx="19.1" cy="25.5" r="0.51" fill="#c84a1a" opacity="0.91"/><circle cx="2.3" cy="7.9" r="0.60" fill="#d89060" opacity="0.77"/><circle cx="17.9" cy="21.9" r="0.82" fill="#f07a3a" opacity="0.82"/><circle cx="13.2" cy="32.1" r="0.87" fill="#f07a3a" opacity="0.82"/><circle cx="3.6" cy="12.9" r="0.63" fill="#f07a3a" opacity="0.83"/><circle cx="18.3" cy="20.8" r="0.81" fill="#d89060" opacity="0.74"/><circle cx="3.6" cy="10.7" r="0.66" fill="#f07a3a" opacity="0.68"/><circle cx="3.3" cy="19.2" r="0.75" fill="#f07a3a" opacity="0.88"/><circle cx="3.5" cy="8.0" r="0.77" fill="#d89060" opacity="0.62"/><circle cx="6.4" cy="30.0" r="0.69" fill="#c84a1a" opacity="0.77"/><circle cx="23.4" cy="7.5" r="0.86" fill="#f07a3a" opacity="0.92"/><circle cx="11.4" cy="20.7" r="0.89" fill="#d89060" opacity="0.85"/><circle cx="12.7" cy="24.4" r="0.89" fill="#d89060" opacity="0.92"/><circle cx="11.4" cy="3.0" r="0.76" fill="#d89060" opacity="0.70"/><circle cx="6.0" cy="6.2" r="0.61" fill="#c84a1a" opacity="0.92"/><circle cx="22.7" cy="7.4" r="0.55" fill="#c84a1a" opacity="0.77"/><circle cx="30.0" cy="29.6" r="0.70" fill="#d89060" opacity="0.98"/><circle cx="29.1" cy="27.8" r="0.73" fill="#f07a3a" opacity="0.82"/><circle cx="1.6" cy="22.8" r="0.54" fill="#e8642a" opacity="0.95"/><circle cx="3.0" cy="31.5" r="0.50" fill="#d89060" opacity="0.84"/><circle cx="15.2" cy="34.7" r="0.89" fill="#e8642a" opacity="0.63"/><circle cx="7.3" cy="18.9" r="0.68" fill="#d89060" opacity="0.68"/><circle cx="3.1" cy="1.3" r="0.55" fill="#f07a3a" opacity="0.88"/><circle cx="3.3" cy="1.0" r="0.69" fill="#e8642a" opacity="0.73"/><circle cx="18.6" cy="17.0" r="0.57" fill="#f07a3a" opacity="0.60"/><circle cx="11.9" cy="8.2" r="0.53" fill="#f07a3a" opacity="0.84"/><circle cx="8.8" cy="1.4" r="0.52" fill="#e8642a" opacity="0.97"/><circle cx="18.8" cy="6.3" r="0.60" fill="#f07a3a" opacity="0.63"/><circle cx="8.2" cy="15.9" r="0.56" fill="#d89060" opacity="0.78"/><circle cx="8.6" cy="26.1" r="0.77" fill="#e8642a" opacity="0.72"/><circle cx="24.5" cy="4.9" r="0.58" fill="#c84a1a" opacity="0.99"/><circle cx="23.6" cy="27.4" r="0.53" fill="#f07a3a" opacity="0.84"/><circle cx="18.2" cy="27.5" r="0.82" fill="#c84a1a" opacity="0.93"/><circle cx="29.9" cy="10.3" r="0.80" fill="#d89060" opacity="0.75"/><circle cx="2.7" cy="19.5" r="0.56" fill="#f07a3a" opacity="0.78"/><circle cx="14.2" cy="16.8" r="0.51" fill="#c84a1a" opacity="0.85"/><circle cx="28.0" cy="14.2" r="0.76" fill="#e8642a" opacity="0.63"/><circle cx="9.2" cy="-0.2" r="0.73" fill="#d89060" opacity="0.81"/><circle cx="9.2" cy="36.8" r="0.73" fill="#d89060" opacity="0.81"/><circle cx="27.2" cy="36.0" r="0.65" fill="#e8642a" opacity="0.83"/><circle cx="11.0" cy="9.6" r="0.58" fill="#f07a3a" opacity="0.67"/><circle cx="24.0" cy="11.9" r="0.82" fill="#f07a3a" opacity="0.88"/><circle cx="10.1" cy="31.8" r="0.74" fill="#e8642a" opacity="0.97"/><circle cx="26.0" cy="36.0" r="0.70" fill="#c84a1a" opacity="0.81"/><circle cx="19.4" cy="18.9" r="0.85" fill="#c84a1a" opacity="0.63"/><circle cx="17.6" cy="17.6" r="0.88" fill="#e8642a" opacity="0.76"/><circle cx="15.7" cy="16.4" r="0.63" fill="#f07a3a" opacity="0.64"/><circle cx="26.7" cy="29.0" r="0.51" fill="#f07a3a" opacity="0.83"/><circle cx="16.3" cy="8.9" r="0.88" fill="#e8642a" opacity="0.94"/><circle cx="0.9" cy="15.9" r="0.57" fill="#e8642a" opacity="0.91"/><circle cx="15.7" cy="3.4" r="0.55" fill="#c84a1a" opacity="0.68"/><circle cx="9.4" cy="35.6" r="0.58" fill="#d89060" opacity="0.86"/><circle cx="12.9" cy="18.7" r="0.52" fill="#e8642a" opacity="0.76"/><circle cx="9.5" cy="32.4" r="0.72" fill="#f07a3a" opacity="0.94"/><circle cx="9.0" cy="17.6" r="0.80" fill="#d89060" opacity="0.82"/><circle cx="5.4" cy="20.2" r="0.83" fill="#c84a1a" opacity="0.63"/><circle cx="12.4" cy="12.4" r="0.52" fill="#e8642a" opacity="0.70"/><circle cx="26.4" cy="6.2" r="0.84" fill="#c84a1a" opacity="0.61"/><circle cx="21.0" cy="12.5" r="0.55" fill="#f07a3a" opacity="0.93"/><circle cx="19.9" cy="34.2" r="0.82" fill="#d89060" opacity="0.87"/><circle cx="0.2" cy="16.0" r="0.71" fill="#c84a1a" opacity="0.90"/><circle cx="31.2" cy="16.0" r="0.71" fill="#c84a1a" opacity="0.90"/><circle cx="16.0" cy="32.5" r="0.60" fill="#f07a3a" opacity="0.62"/><circle cx="14.5" cy="35.6" r="0.57" fill="#d89060" opacity="0.94"/><circle cx="26.0" cy="32.1" r="0.67" fill="#d89060" opacity="0.68"/><circle cx="-0.5" cy="26.7" r="0.70" fill="#e8642a" opacity="0.86"/><circle cx="30.5" cy="26.7" r="0.70" fill="#e8642a" opacity="0.86"/><circle cx="1.4" cy="5.0" r="0.60" fill="#f07a3a" opacity="0.75"/><circle cx="12.0" cy="34.3" r="0.74" fill="#c84a1a" opacity="0.95"/><circle cx="9.3" cy="31.2" r="0.50" fill="#f07a3a" opacity="0.88"/><circle cx="17.0" cy="9.8" r="0.67" fill="#f07a3a" opacity="0.60"/><circle cx="4.7" cy="33.2" r="0.77" fill="#d89060" opacity="0.91"/><circle cx="30.3" cy="19.2" r="0.61" fill="#f07a3a" opacity="0.88"/><circle cx="4.7" cy="30.7" r="0.56" fill="#f07a3a" opacity="0.86"/><circle cx="17.7" cy="22.8" r="0.89" fill="#d89060" opacity="0.61"/><circle cx="27.1" cy="13.2" r="0.57" fill="#f07a3a" opacity="0.92"/><circle cx="28.9" cy="4.6" r="0.53" fill="#f07a3a" opacity="0.77"/><circle cx="21.3" cy="21.3" r="0.78" fill="#c84a1a" opacity="0.90"/><circle cx="4.7" cy="-0.0" r="0.77" fill="#d89060" opacity="0.76"/><circle cx="4.7" cy="37.0" r="0.77" fill="#d89060" opacity="0.76"/><circle cx="6.1" cy="7.3" r="0.83" fill="#f07a3a" opacity="0.75"/><circle cx="20.3" cy="8.0" r="0.80" fill="#d89060" opacity="0.98"/><circle cx="12.9" cy="34.2" r="0.60" fill="#d89060" opacity="0.61"/><circle cx="26.3" cy="25.9" r="0.84" fill="#c84a1a" opacity="0.64"/><circle cx="20.1" cy="9.1" r="0.73" fill="#e8642a" opacity="0.62"/><circle cx="28.5" cy="33.6" r="0.62" fill="#d89060" opacity="0.62"/><circle cx="22.9" cy="11.8" r="0.66" fill="#f07a3a" opacity="0.92"/><circle cx="28.9" cy="33.0" r="0.63" fill="#f07a3a" opacity="0.79"/><circle cx="13.7" cy="7.9" r="0.51" fill="#e8642a" opacity="0.82"/><circle cx="12.4" cy="2.0" r="0.68" fill="#d89060" opacity="0.78"/><circle cx="17.1" cy="5.3" r="0.77" fill="#f07a3a" opacity="0.88"/><circle cx="18.2" cy="22.9" r="0.86" fill="#e8642a" opacity="0.99"/><circle cx="12.0" cy="35.7" r="0.70" fill="#e8642a" opacity="0.79"/><circle cx="13.7" cy="15.4" r="0.66" fill="#f07a3a" opacity="0.97"/><circle cx="1.0" cy="5.0" r="0.80" fill="#e8642a" opacity="0.94"/><circle cx="12.1" cy="5.9" r="0.62" fill="#d89060" opacity="0.74"/><circle cx="26.1" cy="5.4" r="0.86" fill="#d89060" opacity="0.61"/><circle cx="17.0" cy="28.3" r="0.52" fill="#e8642a" opacity="0.97"/><circle cx="26.2" cy="5.3" r="0.59" fill="#d89060" opacity="0.85"/><circle cx="7.2" cy="6.2" r="0.86" fill="#e8642a" opacity="0.64"/><circle cx="28.3" cy="14.0" r="0.83" fill="#c84a1a" opacity="0.68"/><circle cx="12.1" cy="31.5" r="0.55" fill="#e8642a" opacity="0.67"/><circle cx="22.5" cy="0.8" r="0.77" fill="#f07a3a" opacity="0.69"/><circle cx="15.5" cy="27.2" r="0.66" fill="#f07a3a" opacity="0.91"/><circle cx="15.2" cy="-0.3" r="0.80" fill="#f07a3a" opacity="0.72"/><circle cx="15.2" cy="36.7" r="0.80" fill="#f07a3a" opacity="0.72"/><circle cx="21.5" cy="12.0" r="0.54" fill="#c84a1a" opacity="0.88"/><circle cx="18.6" cy="7.4" r="0.60" fill="#c84a1a" opacity="0.78"/><circle cx="18.9" cy="6.4" r="0.71" fill="#f07a3a" opacity="0.89"/><circle cx="11.9" cy="1.8" r="0.78" fill="#d89060" opacity="0.85"/><circle cx="14.7" cy="35.3" r="0.68" fill="#e8642a" opacity="0.82"/><circle cx="27.0" cy="22.9" r="0.73" fill="#f07a3a" opacity="0.96"/><circle cx="29.2" cy="15.4" r="0.76" fill="#f07a3a" opacity="0.92"/><circle cx="21.8" cy="12.7" r="0.70" fill="#f07a3a" opacity="0.82"/><circle cx="20.9" cy="15.4" r="0.83" fill="#c84a1a" opacity="0.95"/><circle cx="13.5" cy="15.8" r="0.62" fill="#e8642a" opacity="0.86"/><circle cx="10.0" cy="6.1" r="0.83" fill="#e8642a" opacity="0.62"/><circle cx="28.9" cy="12.9" r="0.88" fill="#d89060" opacity="0.90"/><circle cx="20.2" cy="12.4" r="0.54" fill="#f07a3a" opacity="0.86"/><circle cx="11.2" cy="16.2" r="0.75" fill="#f07a3a" opacity="0.93"/><circle cx="26.6" cy="-0.8" r="0.82" fill="#e8642a" opacity="0.72"/><circle cx="26.6" cy="36.2" r="0.82" fill="#e8642a" opacity="0.72"/><circle cx="17.3" cy="27.7" r="0.73" fill="#f07a3a" opacity="0.85"/><circle cx="17.3" cy="22.7" r="0.68" fill="#c84a1a" opacity="0.72"/><circle cx="12.9" cy="0.9" r="0.56" fill="#f07a3a" opacity="0.65"/><circle cx="-0.4" cy="12.6" r="0.66" fill="#e8642a" opacity="0.67"/><circle cx="30.6" cy="12.6" r="0.66" fill="#e8642a" opacity="0.67"/><circle cx="7.3" cy="8.9" r="0.87" fill="#f07a3a" opacity="0.67"/><circle cx="21.7" cy="33.4" r="0.90" fill="#f07a3a" opacity="0.75"/><circle cx="26.9" cy="8.1" r="0.64" fill="#e8642a" opacity="0.65"/><circle cx="4.2" cy="25.5" r="0.56" fill="#e8642a" opacity="0.93"/><circle cx="7.0" cy="12.2" r="0.76" fill="#e8642a" opacity="0.72"/><circle cx="12.1" cy="5.6" r="0.78" fill="#f07a3a" opacity="0.72"/><circle cx="5.1" cy="0.6" r="0.85" fill="#c84a1a" opacity="0.63"/><circle cx="5.1" cy="37.6" r="0.85" fill="#c84a1a" opacity="0.63"/><circle cx="17.3" cy="24.9" r="0.59" fill="#d89060" opacity="0.65"/><circle cx="12.3" cy="33.1" r="0.61" fill="#c84a1a" opacity="0.68"/><circle cx="19.8" cy="24.3" r="0.70" fill="#c84a1a" opacity="0.77"/><circle cx="8.4" cy="6.3" r="0.68" fill="#c84a1a" opacity="0.97"/><circle cx="29.8" cy="10.9" r="0.60" fill="#d89060" opacity="0.86"/><circle cx="0.9" cy="3.1" r="0.54" fill="#e8642a" opacity="0.74"/><circle cx="18.8" cy="4.7" r="0.89" fill="#c84a1a" opacity="0.87"/><circle cx="19.2" cy="3.9" r="0.72" fill="#c84a1a" opacity="0.76"/><circle cx="16.9" cy="33.1" r="0.71" fill="#e8642a" opacity="0.71"/><circle cx="3.9" cy="17.2" r="0.71" fill="#c84a1a" opacity="0.62"/><circle cx="15.2" cy="25.9" r="0.51" fill="#d89060" opacity="0.80"/><circle cx="25.0" cy="29.5" r="0.67" fill="#c84a1a" opacity="0.70"/><circle cx="16.3" cy="33.8" r="0.51" fill="#c84a1a" opacity="0.96"/><circle cx="1.6" cy="32.1" r="0.57" fill="#c84a1a" opacity="0.97"/><circle cx="1.5" cy="0.0" r="0.85" fill="#d89060" opacity="0.69"/><circle cx="1.5" cy="37.0" r="0.85" fill="#d89060" opacity="0.69"/><circle cx="28.4" cy="14.6" r="0.56" fill="#e8642a" opacity="0.63"/><circle cx="10.0" cy="1.8" r="0.71" fill="#e8642a" opacity="0.84"/><circle cx="9.0" cy="12.9" r="0.87" fill="#c84a1a" opacity="0.87"/><circle cx="1.8" cy="26.8" r="0.77" fill="#d89060" opacity="0.92"/><circle cx="15.8" cy="-0.1" r="0.54" fill="#e8642a" opacity="0.85"/><circle cx="15.8" cy="36.9" r="0.54" fill="#e8642a" opacity="0.85"/><circle cx="6.9" cy="2.7" r="0.86" fill="#e8642a" opacity="0.85"/><circle cx="25.7" cy="11.4" r="0.79" fill="#c84a1a" opacity="0.74"/><circle cx="2.7" cy="14.8" r="0.78" fill="#d89060" opacity="0.80"/><circle cx="28.9" cy="27.7" r="0.51" fill="#f07a3a" opacity="0.99"/><circle cx="12.9" cy="31.7" r="0.58" fill="#f07a3a" opacity="0.68"/><circle cx="3.4" cy="11.2" r="0.82" fill="#f07a3a" opacity="0.73"/><circle cx="29.7" cy="26.1" r="0.75" fill="#f07a3a" opacity="0.85"/><circle cx="15.8" cy="26.5" r="0.84" fill="#e8642a" opacity="0.71"/><circle cx="10.8" cy="5.6" r="0.82" fill="#d89060" opacity="0.87"/><circle cx="5.7" cy="6.2" r="0.58" fill="#e8642a" opacity="0.80"/><circle cx="11.4" cy="3.9" r="0.69" fill="#f07a3a" opacity="0.78"/><circle cx="-0.3" cy="19.1" r="0.61" fill="#e8642a" opacity="0.68"/><circle cx="30.7" cy="19.1" r="0.61" fill="#e8642a" opacity="0.68"/><circle cx="11.7" cy="7.4" r="0.71" fill="#c84a1a" opacity="0.76"/><circle cx="25.7" cy="32.2" r="0.84" fill="#f07a3a" opacity="0.86"/><circle cx="10.0" cy="24.2" r="0.87" fill="#f07a3a" opacity="0.74"/><circle cx="7.8" cy="29.7" r="0.53" fill="#c84a1a" opacity="0.99"/><circle cx="21.8" cy="9.6" r="0.52" fill="#d89060" opacity="0.97"/><circle cx="7.6" cy="26.2" r="0.59" fill="#d89060" opacity="0.91"/><circle cx="14.3" cy="24.3" r="0.83" fill="#f07a3a" opacity="0.96"/><circle cx="1.8" cy="17.5" r="0.86" fill="#c84a1a" opacity="0.88"/><circle cx="11.5" cy="19.4" r="0.65" fill="#f07a3a" opacity="0.78"/><circle cx="7.0" cy="0.7" r="0.84" fill="#e8642a" opacity="0.97"/><circle cx="7.0" cy="37.7" r="0.84" fill="#e8642a" opacity="0.97"/><circle cx="7.7" cy="35.6" r="0.53" fill="#f07a3a" opacity="0.91"/><circle cx="7.2" cy="31.9" r="0.73" fill="#c84a1a" opacity="0.78"/><circle cx="23.0" cy="15.0" r="0.71" fill="#e8642a" opacity="0.62"/><circle cx="6.9" cy="27.3" r="0.67" fill="#d89060" opacity="0.84"/><circle cx="3.5" cy="11.0" r="0.70" fill="#c84a1a" opacity="0.97"/><circle cx="4.0" cy="11.5" r="0.57" fill="#d89060" opacity="0.97"/><circle cx="28.6" cy="1.0" r="0.77" fill="#e8642a" opacity="0.74"/><circle cx="9.3" cy="33.6" r="0.81" fill="#c84a1a" opacity="0.76"/><circle cx="16.3" cy="11.8" r="0.70" fill="#e8642a" opacity="0.94"/><circle cx="21.1" cy="5.4" r="0.85" fill="#f07a3a" opacity="0.63"/><circle cx="17.2" cy="23.3" r="0.56" fill="#c84a1a" opacity="0.90"/><circle cx="2.3" cy="20.3" r="0.63" fill="#e8642a" opacity="0.96"/><circle cx="28.5" cy="4.8" r="0.78" fill="#c84a1a" opacity="0.75"/><circle cx="10.9" cy="7.9" r="0.75" fill="#e8642a" opacity="0.67"/><circle cx="20.0" cy="14.9" r="0.71" fill="#c84a1a" opacity="0.62"/><circle cx="27.5" cy="34.5" r="0.51" fill="#d89060" opacity="0.79"/><circle cx="15.8" cy="24.8" r="0.78" fill="#f07a3a" opacity="0.93"/><circle cx="13.4" cy="13.7" r="0.78" fill="#e8642a" opacity="0.73"/><circle cx="2.1" cy="4.0" r="0.62" fill="#f07a3a" opacity="0.73"/><circle cx="22.0" cy="16.3" r="0.86" fill="#c84a1a" opacity="0.68"/><circle cx="26.1" cy="22.2" r="0.70" fill="#d89060" opacity="0.68"/><circle cx="19.4" cy="14.6" r="0.53" fill="#c84a1a" opacity="0.91"/><circle cx="30.3" cy="34.6" r="0.61" fill="#c84a1a" opacity="0.89"/><circle cx="11.5" cy="21.3" r="0.87" fill="#d89060" opacity="0.93"/><circle cx="30.1" cy="5.2" r="0.55" fill="#e8642a" opacity="0.96"/><circle cx="2.5" cy="35.6" r="0.73" fill="#f07a3a" opacity="0.81"/><circle cx="27.7" cy="4.6" r="0.56" fill="#d89060" opacity="0.76"/><circle cx="14.4" cy="32.3" r="0.50" fill="#d89060" opacity="0.97"/><circle cx="5.1" cy="4.9" r="0.70" fill="#e8642a" opacity="0.68"/><circle cx="7.8" cy="20.4" r="0.89" fill="#c84a1a" opacity="0.87"/><circle cx="5.0" cy="32.7" r="0.72" fill="#f07a3a" opacity="0.87"/><circle cx="-0.3" cy="31.7" r="0.73" fill="#c84a1a" opacity="0.73"/><circle cx="30.7" cy="31.7" r="0.73" fill="#c84a1a" opacity="0.73"/><circle cx="20.4" cy="13.7" r="0.63" fill="#f07a3a" opacity="0.83"/><circle cx="21.1" cy="7.7" r="0.62" fill="#f07a3a" opacity="0.90"/><circle cx="0.5" cy="7.5" r="0.73" fill="#c84a1a" opacity="0.84"/><circle cx="31.5" cy="7.5" r="0.73" fill="#c84a1a" opacity="0.84"/><circle cx="20.5" cy="11.2" r="0.69" fill="#c84a1a" opacity="0.99"/><circle cx="25.6" cy="9.9" r="0.89" fill="#e8642a" opacity="0.98"/><circle cx="25.2" cy="29.9" r="0.88" fill="#c84a1a" opacity="0.76"/><circle cx="17.7" cy="9.2" r="0.55" fill="#c84a1a" opacity="0.85"/><circle cx="23.6" cy="0.8" r="0.64" fill="#d89060" opacity="0.98"/><circle cx="15.4" cy="31.1" r="0.57" fill="#f07a3a" opacity="1.00"/><circle cx="20.2" cy="16.3" r="0.75" fill="#d89060" opacity="0.97"/><circle cx="18.0" cy="8.8" r="0.79" fill="#d89060" opacity="0.87"/><circle cx="29.0" cy="0.7" r="0.65" fill="#c84a1a" opacity="0.72"/><circle cx="12.8" cy="7.1" r="0.52" fill="#e8642a" opacity="0.66"/><circle cx="7.1" cy="33.9" r="0.87" fill="#e8642a" opacity="0.92"/><circle cx="8.1" cy="17.7" r="0.83" fill="#c84a1a" opacity="0.77"/><circle cx="26.3" cy="26.5" r="0.58" fill="#e8642a" opacity="0.85"/><circle cx="15.1" cy="26.8" r="0.75" fill="#d89060" opacity="0.89"/><circle cx="6.6" cy="13.4" r="0.68" fill="#c84a1a" opacity="0.68"/><circle cx="14.6" cy="-0.1" r="0.70" fill="#e8642a" opacity="0.78"/><circle cx="14.6" cy="36.9" r="0.70" fill="#e8642a" opacity="0.78"/><circle cx="13.1" cy="1.2" r="0.62" fill="#f07a3a" opacity="0.92"/><circle cx="25.5" cy="10.9" r="0.89" fill="#e8642a" opacity="0.77"/><circle cx="1.3" cy="35.8" r="0.90" fill="#e8642a" opacity="0.76"/><circle cx="26.5" cy="29.6" r="0.54" fill="#f07a3a" opacity="0.94"/><circle cx="9.4" cy="27.4" r="0.87" fill="#e8642a" opacity="0.74"/><circle cx="11.3" cy="15.2" r="0.84" fill="#f07a3a" opacity="0.67"/><circle cx="11.3" cy="3.2" r="0.63" fill="#c84a1a" opacity="0.98"/><circle cx="17.6" cy="21.3" r="0.68" fill="#d89060" opacity="0.90"/><circle cx="21.4" cy="27.9" r="0.82" fill="#f07a3a" opacity="0.93"/><circle cx="25.3" cy="28.1" r="0.73" fill="#e8642a" opacity="0.82"/><circle cx="16.9" cy="20.6" r="0.79" fill="#e8642a" opacity="0.87"/><circle cx="15.2" cy="15.1" r="0.60" fill="#f07a3a" opacity="0.85"/><circle cx="19.5" cy="31.1" r="0.81" fill="#c84a1a" opacity="0.87"/><circle cx="19.7" cy="34.1" r="0.55" fill="#d89060" opacity="1.00"/><circle cx="2.2" cy="13.9" r="0.79" fill="#e8642a" opacity="1.00"/><circle cx="6.7" cy="31.3" r="0.60" fill="#f07a3a" opacity="0.66"/><circle cx="12.3" cy="26.2" r="0.74" fill="#c84a1a" opacity="0.82"/><circle cx="16.5" cy="12.2" r="0.61" fill="#d89060" opacity="0.76"/><circle cx="3.6" cy="12.7" r="0.88" fill="#d89060" opacity="0.78"/><circle cx="22.1" cy="33.3" r="0.56" fill="#e8642a" opacity="0.94"/><circle cx="4.0" cy="25.7" r="0.71" fill="#c84a1a" opacity="0.83"/><circle cx="26.2" cy="18.8" r="0.86" fill="#e8642a" opacity="0.70"/><circle cx="29.0" cy="14.9" r="0.70" fill="#c84a1a" opacity="0.92"/><circle cx="25.6" cy="21.3" r="0.53" fill="#f07a3a" opacity="0.84"/><circle cx="1.1" cy="8.0" r="0.73" fill="#e8642a" opacity="0.84"/><circle cx="22.8" cy="16.7" r="0.80" fill="#c84a1a" opacity="0.79"/><circle cx="21.6" cy="5.9" r="0.74" fill="#d89060" opacity="0.85"/><circle cx="25.6" cy="7.7" r="0.60" fill="#f07a3a" opacity="0.70"/><circle cx="4.3" cy="12.0" r="0.66" fill="#c84a1a" opacity="0.72"/><circle cx="1.4" cy="5.3" r="0.57" fill="#d89060" opacity="0.83"/><circle cx="21.4" cy="25.7" r="0.62" fill="#f07a3a" opacity="0.79"/><circle cx="0.9" cy="30.2" r="0.74" fill="#f07a3a" opacity="0.84"/><circle cx="20.1" cy="33.5" r="0.51" fill="#f07a3a" opacity="0.87"/><circle cx="2.9" cy="15.4" r="0.78" fill="#c84a1a" opacity="0.84"/><circle cx="24.1" cy="13.0" r="0.76" fill="#f07a3a" opacity="0.67"/><circle cx="13.4" cy="20.9" r="0.73" fill="#d89060" opacity="0.71"/><circle cx="14.7" cy="34.8" r="0.87" fill="#c84a1a" opacity="0.93"/><circle cx="10.8" cy="25.6" r="0.86" fill="#c84a1a" opacity="0.81"/><circle cx="29.0" cy="30.9" r="0.77" fill="#d89060" opacity="0.97"/><circle cx="1.1" cy="15.5" r="0.88" fill="#c84a1a" opacity="0.73"/><circle cx="16.0" cy="20.0" r="0.54" fill="#e8642a" opacity="0.94"/><circle cx="23.8" cy="32.2" r="0.65" fill="#d89060" opacity="0.74"/><circle cx="15.5" cy="13.9" r="0.82" fill="#e8642a" opacity="0.65"/><circle cx="10.2" cy="32.7" r="0.73" fill="#c84a1a" opacity="0.80"/><circle cx="10.2" cy="7.6" r="0.80" fill="#e8642a" opacity="0.96"/><circle cx="16.5" cy="33.2" r="0.89" fill="#d89060" opacity="0.68"/><circle cx="26.8" cy="5.9" r="0.57" fill="#c84a1a" opacity="0.70"/><circle cx="1.2" cy="10.9" r="0.53" fill="#d89060" opacity="0.78"/><circle cx="23.1" cy="17.5" r="0.69" fill="#f07a3a" opacity="0.68"/><circle cx="1.8" cy="12.1" r="0.57" fill="#f07a3a" opacity="0.84"/></pattern>
<pattern id="pR3" width="39" height="43" patternUnits="userSpaceOnUse"><circle cx="19.1" cy="6.4" r="0.85" fill="#e02020" opacity="0.85"/><circle cx="19.9" cy="6.8" r="1.22" fill="#e02020" opacity="0.88"/><circle cx="35.2" cy="7.4" r="0.92" fill="#e02020" opacity="0.72"/><circle cx="36.7" cy="22.0" r="1.18" fill="#e02020" opacity="0.83"/><circle cx="12.6" cy="34.7" r="0.88" fill="#e02020" opacity="0.86"/><circle cx="1.1" cy="6.9" r="1.00" fill="#c81818" opacity="0.93"/><circle cx="22.7" cy="0.3" r="1.26" fill="#e02020" opacity="0.86"/><circle cx="22.7" cy="43.3" r="1.26" fill="#e02020" opacity="0.86"/><circle cx="21.2" cy="5.8" r="1.26" fill="#c81818" opacity="0.72"/><circle cx="19.4" cy="21.9" r="1.07" fill="#e02020" opacity="0.76"/><circle cx="24.4" cy="40.7" r="0.91" fill="#c81818" opacity="0.86"/><circle cx="28.2" cy="1.4" r="1.26" fill="#c81818" opacity="0.80"/><circle cx="26.7" cy="32.5" r="1.07" fill="#c81818" opacity="0.75"/><circle cx="21.0" cy="0.3" r="1.21" fill="#e02020" opacity="0.73"/><circle cx="21.0" cy="43.3" r="1.21" fill="#e02020" opacity="0.73"/><circle cx="22.4" cy="12.0" r="1.11" fill="#e02020" opacity="0.84"/><circle cx="2.9" cy="-0.5" r="1.01" fill="#e02020" opacity="0.76"/><circle cx="2.9" cy="42.5" r="1.01" fill="#e02020" opacity="0.76"/><circle cx="35.7" cy="26.1" r="1.21" fill="#c81818" opacity="0.85"/><circle cx="18.4" cy="41.3" r="1.01" fill="#c81818" opacity="0.99"/><circle cx="16.9" cy="8.6" r="1.23" fill="#e02020" opacity="0.94"/><circle cx="15.2" cy="19.5" r="0.98" fill="#e02020" opacity="0.77"/><circle cx="18.4" cy="2.0" r="0.84" fill="#c81818" opacity="0.78"/><circle cx="23.7" cy="40.2" r="1.37" fill="#c81818" opacity="0.79"/><circle cx="20.4" cy="36.2" r="1.32" fill="#e02020" opacity="0.74"/><circle cx="26.6" cy="4.2" r="0.80" fill="#e02020" opacity="0.80"/><circle cx="15.4" cy="-0.6" r="0.82" fill="#e02020" opacity="0.89"/><circle cx="15.4" cy="42.4" r="0.82" fill="#e02020" opacity="0.89"/><circle cx="22.2" cy="24.6" r="0.95" fill="#e02020" opacity="0.79"/><circle cx="26.7" cy="40.7" r="1.21" fill="#c81818" opacity="0.86"/><circle cx="24.0" cy="3.5" r="0.97" fill="#c81818" opacity="0.73"/><circle cx="14.3" cy="15.8" r="1.16" fill="#e02020" opacity="0.97"/><circle cx="32.4" cy="28.5" r="0.83" fill="#c81818" opacity="0.78"/><circle cx="21.3" cy="30.7" r="1.21" fill="#c81818" opacity="0.93"/><circle cx="10.5" cy="31.3" r="0.88" fill="#e02020" opacity="0.83"/><circle cx="2.7" cy="6.5" r="1.01" fill="#e02020" opacity="0.74"/><circle cx="23.3" cy="35.5" r="0.84" fill="#c81818" opacity="0.77"/><circle cx="1.4" cy="19.0" r="1.37" fill="#c81818" opacity="0.80"/><circle cx="8.8" cy="7.1" r="0.92" fill="#e02020" opacity="0.85"/><circle cx="29.3" cy="34.7" r="1.17" fill="#c81818" opacity="0.97"/><circle cx="10.8" cy="5.8" r="0.81" fill="#e02020" opacity="0.80"/><circle cx="12.8" cy="23.4" r="0.83" fill="#e02020" opacity="0.80"/><circle cx="9.5" cy="13.3" r="1.29" fill="#c81818" opacity="0.89"/><circle cx="28.0" cy="40.7" r="1.08" fill="#e02020" opacity="0.76"/><circle cx="13.2" cy="16.3" r="1.26" fill="#e02020" opacity="0.76"/><circle cx="1.6" cy="6.1" r="0.84" fill="#e02020" opacity="0.83"/><circle cx="15.6" cy="28.7" r="1.04" fill="#c81818" opacity="0.76"/><circle cx="18.2" cy="27.8" r="1.20" fill="#e02020" opacity="0.98"/><circle cx="18.3" cy="19.5" r="1.12" fill="#c81818" opacity="0.86"/><circle cx="19.1" cy="29.0" r="1.21" fill="#e02020" opacity="0.85"/><circle cx="1.9" cy="37.3" r="0.83" fill="#e02020" opacity="0.77"/><circle cx="28.7" cy="2.8" r="0.90" fill="#c81818" opacity="0.96"/><circle cx="13.3" cy="9.8" r="1.06" fill="#e02020" opacity="0.79"/><circle cx="7.4" cy="5.5" r="0.83" fill="#e02020" opacity="0.92"/><circle cx="33.6" cy="6.2" r="1.38" fill="#e02020" opacity="0.95"/><circle cx="13.9" cy="33.3" r="1.12" fill="#e02020" opacity="0.90"/><circle cx="19.1" cy="29.0" r="1.05" fill="#e02020" opacity="0.96"/><circle cx="16.1" cy="24.3" r="1.18" fill="#e02020" opacity="0.94"/><circle cx="-0.7" cy="37.9" r="1.34" fill="#c81818" opacity="0.78"/><circle cx="38.3" cy="37.9" r="1.34" fill="#c81818" opacity="0.78"/><circle cx="14.6" cy="13.8" r="0.84" fill="#c81818" opacity="0.72"/><circle cx="6.7" cy="31.8" r="0.94" fill="#c81818" opacity="0.87"/><circle cx="31.3" cy="9.4" r="1.10" fill="#c81818" opacity="0.97"/><circle cx="11.3" cy="-0.4" r="1.13" fill="#e02020" opacity="0.70"/><circle cx="11.3" cy="42.6" r="1.13" fill="#e02020" opacity="0.70"/><circle cx="7.9" cy="36.8" r="1.08" fill="#c81818" opacity="0.78"/><circle cx="3.4" cy="33.8" r="0.88" fill="#e02020" opacity="0.75"/><circle cx="16.9" cy="33.2" r="1.24" fill="#c81818" opacity="0.77"/><circle cx="16.0" cy="30.5" r="1.36" fill="#c81818" opacity="0.81"/><circle cx="30.5" cy="15.7" r="1.05" fill="#e02020" opacity="0.98"/><circle cx="30.5" cy="25.6" r="1.17" fill="#e02020" opacity="0.96"/><circle cx="33.3" cy="25.7" r="1.28" fill="#c81818" opacity="0.87"/><circle cx="23.7" cy="34.5" r="1.26" fill="#c81818" opacity="0.92"/><circle cx="22.1" cy="35.3" r="1.17" fill="#e02020" opacity="0.71"/><circle cx="1.1" cy="23.8" r="1.02" fill="#c81818" opacity="0.83"/><circle cx="2.8" cy="12.5" r="0.94" fill="#e02020" opacity="0.91"/></pattern>
<pattern id="pG3" width="43" height="37" patternUnits="userSpaceOnUse"><circle cx="4.8" cy="11.6" r="0.70" fill="#30a030" opacity="0.76"/><circle cx="32.7" cy="0.5" r="0.67" fill="#40b040" opacity="0.55"/><circle cx="32.7" cy="37.5" r="0.67" fill="#40b040" opacity="0.55"/><circle cx="22.7" cy="28.7" r="0.56" fill="#40b040" opacity="0.82"/><circle cx="18.8" cy="10.0" r="0.81" fill="#30a030" opacity="0.66"/><circle cx="33.0" cy="21.6" r="0.74" fill="#40b040" opacity="0.52"/><circle cx="4.0" cy="8.2" r="0.71" fill="#30a030" opacity="0.76"/><circle cx="10.0" cy="36.2" r="0.69" fill="#40b040" opacity="0.65"/><circle cx="1.2" cy="19.0" r="0.89" fill="#40b040" opacity="0.85"/><circle cx="20.1" cy="18.2" r="0.66" fill="#40b040" opacity="0.61"/><circle cx="10.2" cy="4.4" r="0.64" fill="#30a030" opacity="0.88"/><circle cx="33.4" cy="32.5" r="0.60" fill="#30a030" opacity="0.72"/><circle cx="39.0" cy="3.1" r="0.84" fill="#40b040" opacity="0.55"/><circle cx="32.8" cy="18.6" r="0.63" fill="#30a030" opacity="0.77"/><circle cx="7.2" cy="5.4" r="0.84" fill="#40b040" opacity="0.90"/><circle cx="21.4" cy="12.6" r="0.89" fill="#30a030" opacity="0.76"/><circle cx="12.7" cy="23.4" r="0.75" fill="#30a030" opacity="0.73"/><circle cx="25.7" cy="27.7" r="0.73" fill="#30a030" opacity="0.85"/><circle cx="18.5" cy="14.7" r="0.79" fill="#30a030" opacity="0.78"/><circle cx="10.1" cy="23.3" r="0.90" fill="#40b040" opacity="0.88"/><circle cx="41.2" cy="10.2" r="0.53" fill="#40b040" opacity="0.76"/><circle cx="21.6" cy="11.3" r="0.54" fill="#40b040" opacity="0.89"/><circle cx="20.4" cy="13.7" r="0.79" fill="#30a030" opacity="0.76"/></pattern>
<pattern id="pGs" width="41" height="47" patternUnits="userSpaceOnUse"><circle cx="33.8" cy="1.6" r="0.64" fill="#208a20" opacity="0.56"/><circle cx="6.6" cy="40.8" r="0.75" fill="#30b030" opacity="0.60"/><circle cx="28.8" cy="44.7" r="0.60" fill="#208a20" opacity="0.80"/><circle cx="9.6" cy="1.6" r="0.57" fill="#40c040" opacity="0.71"/><circle cx="4.4" cy="8.5" r="0.55" fill="#40c040" opacity="0.68"/><circle cx="15.9" cy="1.1" r="0.75" fill="#40c040" opacity="0.56"/><circle cx="2.3" cy="0.7" r="0.57" fill="#40c040" opacity="0.65"/><circle cx="5.3" cy="20.3" r="0.54" fill="#30b030" opacity="0.74"/><circle cx="23.0" cy="21.1" r="0.79" fill="#208a20" opacity="0.78"/><circle cx="21.2" cy="22.8" r="0.65" fill="#40c040" opacity="0.76"/><circle cx="9.5" cy="7.3" r="0.45" fill="#208a20" opacity="0.74"/><circle cx="13.3" cy="29.1" r="0.67" fill="#30b030" opacity="0.73"/><circle cx="26.2" cy="37.1" r="0.53" fill="#30b030" opacity="0.83"/><circle cx="24.6" cy="7.9" r="0.61" fill="#30b030" opacity="0.67"/><circle cx="19.4" cy="39.0" r="0.50" fill="#30b030" opacity="0.77"/><circle cx="37.7" cy="9.8" r="0.52" fill="#30b030" opacity="0.70"/><circle cx="39.7" cy="29.9" r="0.74" fill="#208a20" opacity="0.89"/><circle cx="39.4" cy="17.6" r="0.46" fill="#40c040" opacity="0.78"/><circle cx="29.4" cy="33.4" r="0.74" fill="#40c040" opacity="0.54"/><circle cx="30.5" cy="4.5" r="0.50" fill="#208a20" opacity="0.56"/><circle cx="35.3" cy="17.3" r="0.51" fill="#208a20" opacity="0.55"/><circle cx="13.2" cy="45.2" r="0.69" fill="#30b030" opacity="0.53"/><circle cx="28.7" cy="1.0" r="0.69" fill="#208a20" opacity="0.68"/><circle cx="36.6" cy="20.2" r="0.46" fill="#30b030" opacity="0.69"/><circle cx="35.8" cy="8.1" r="0.63" fill="#208a20" opacity="0.89"/><circle cx="3.9" cy="4.3" r="0.50" fill="#30b030" opacity="0.57"/><circle cx="16.8" cy="25.0" r="0.51" fill="#208a20" opacity="0.51"/><circle cx="7.8" cy="27.4" r="0.78" fill="#30b030" opacity="0.61"/><circle cx="11.2" cy="40.9" r="0.49" fill="#30b030" opacity="0.54"/><circle cx="5.2" cy="38.8" r="0.70" fill="#208a20" opacity="0.85"/><circle cx="34.4" cy="11.9" r="0.61" fill="#40c040" opacity="0.82"/><circle cx="19.1" cy="13.7" r="0.79" fill="#30b030" opacity="0.75"/><circle cx="7.3" cy="20.9" r="0.54" fill="#30b030" opacity="0.73"/><circle cx="40.0" cy="27.3" r="0.55" fill="#208a20" opacity="0.50"/><circle cx="14.6" cy="22.2" r="0.75" fill="#40c040" opacity="0.68"/><circle cx="9.5" cy="37.8" r="0.71" fill="#30b030" opacity="0.52"/><circle cx="20.2" cy="32.6" r="0.55" fill="#30b030" opacity="0.90"/><circle cx="26.6" cy="24.3" r="0.76" fill="#30b030" opacity="0.81"/><circle cx="8.5" cy="2.7" r="0.57" fill="#208a20" opacity="0.75"/><circle cx="2.7" cy="29.0" r="0.57" fill="#40c040" opacity="0.82"/></pattern>
<pattern id="pM" width="33" height="29" patternUnits="userSpaceOnUse"><circle cx="16.1" cy="-0.5" r="1.01" fill="#c01868" opacity="0.53"/><circle cx="16.1" cy="28.5" r="1.01" fill="#c01868" opacity="0.53"/><circle cx="21.7" cy="27.8" r="0.88" fill="#e0207a" opacity="0.67"/><circle cx="10.2" cy="13.7" r="0.99" fill="#e0207a" opacity="0.68"/><circle cx="27.8" cy="4.4" r="0.89" fill="#c01868" opacity="0.76"/><circle cx="4.7" cy="13.8" r="1.04" fill="#e0207a" opacity="0.60"/><circle cx="9.3" cy="19.8" r="0.72" fill="#e0207a" opacity="0.50"/><circle cx="28.7" cy="12.5" r="1.03" fill="#f02890" opacity="0.52"/><circle cx="16.7" cy="17.1" r="1.04" fill="#f02890" opacity="0.62"/><circle cx="21.6" cy="6.7" r="0.81" fill="#e0207a" opacity="0.59"/><circle cx="21.2" cy="16.9" r="0.76" fill="#e0207a" opacity="0.80"/><circle cx="26.9" cy="0.9" r="0.95" fill="#e0207a" opacity="0.52"/><circle cx="26.9" cy="29.9" r="0.95" fill="#e0207a" opacity="0.52"/><circle cx="31.6" cy="21.8" r="0.62" fill="#f02890" opacity="0.71"/><circle cx="25.2" cy="24.3" r="0.69" fill="#f02890" opacity="0.74"/><circle cx="22.6" cy="20.5" r="0.92" fill="#c01868" opacity="0.74"/><circle cx="19.8" cy="18.8" r="0.88" fill="#c01868" opacity="0.68"/><circle cx="6.3" cy="5.0" r="0.86" fill="#e0207a" opacity="0.71"/><circle cx="13.6" cy="14.1" r="0.64" fill="#c01868" opacity="0.84"/><circle cx="15.6" cy="0.7" r="0.75" fill="#e0207a" opacity="0.59"/><circle cx="15.6" cy="29.7" r="0.75" fill="#e0207a" opacity="0.59"/><circle cx="8.6" cy="21.3" r="0.97" fill="#f02890" opacity="0.67"/><circle cx="3.6" cy="18.7" r="0.85" fill="#c01868" opacity="0.73"/><circle cx="23.2" cy="16.1" r="1.03" fill="#c01868" opacity="0.84"/><circle cx="17.5" cy="0.1" r="0.91" fill="#f02890" opacity="0.86"/><circle cx="17.5" cy="29.1" r="0.91" fill="#f02890" opacity="0.86"/><circle cx="-1.0" cy="1.6" r="1.02" fill="#e0207a" opacity="0.56"/><circle cx="32.0" cy="1.6" r="1.02" fill="#e0207a" opacity="0.56"/><circle cx="27.4" cy="0.0" r="0.74" fill="#f02890" opacity="0.52"/><circle cx="27.4" cy="29.0" r="0.74" fill="#f02890" opacity="0.52"/><circle cx="9.3" cy="18.0" r="1.01" fill="#c01868" opacity="0.73"/><circle cx="5.8" cy="12.3" r="1.09" fill="#e0207a" opacity="0.59"/><circle cx="0.5" cy="10.6" r="0.77" fill="#e0207a" opacity="0.61"/><circle cx="33.5" cy="10.6" r="0.77" fill="#e0207a" opacity="0.61"/><circle cx="23.8" cy="20.1" r="0.86" fill="#f02890" opacity="0.87"/><circle cx="29.8" cy="-0.1" r="1.05" fill="#f02890" opacity="0.52"/><circle cx="29.8" cy="28.9" r="1.05" fill="#f02890" opacity="0.52"/><circle cx="-0.3" cy="7.7" r="1.06" fill="#f02890" opacity="0.87"/><circle cx="32.7" cy="7.7" r="1.06" fill="#f02890" opacity="0.87"/><circle cx="4.2" cy="2.1" r="0.73" fill="#e0207a" opacity="0.78"/><circle cx="21.5" cy="10.4" r="0.94" fill="#e0207a" opacity="0.79"/><circle cx="22.7" cy="10.4" r="0.99" fill="#f02890" opacity="0.81"/><circle cx="25.5" cy="6.2" r="0.95" fill="#f02890" opacity="0.87"/><circle cx="24.9" cy="21.1" r="0.77" fill="#f02890" opacity="0.63"/><circle cx="11.2" cy="15.7" r="1.04" fill="#c01868" opacity="0.67"/><circle cx="4.2" cy="23.5" r="0.69" fill="#e0207a" opacity="0.72"/><circle cx="16.1" cy="24.8" r="0.93" fill="#f02890" opacity="0.89"/><circle cx="5.4" cy="1.4" r="1.04" fill="#c01868" opacity="0.83"/><circle cx="11.8" cy="14.2" r="0.60" fill="#e0207a" opacity="0.83"/><circle cx="30.7" cy="24.0" r="1.05" fill="#e0207a" opacity="0.71"/><circle cx="4.3" cy="16.4" r="0.89" fill="#f02890" opacity="0.53"/><circle cx="14.7" cy="22.0" r="0.91" fill="#f02890" opacity="0.52"/><circle cx="-0.6" cy="14.3" r="0.85" fill="#f02890" opacity="0.71"/><circle cx="32.4" cy="14.3" r="0.85" fill="#f02890" opacity="0.71"/><circle cx="0.8" cy="23.3" r="1.00" fill="#e0207a" opacity="0.80"/><circle cx="33.8" cy="23.3" r="1.00" fill="#e0207a" opacity="0.80"/><circle cx="13.7" cy="0.5" r="0.63" fill="#e0207a" opacity="0.87"/><circle cx="13.7" cy="29.5" r="0.63" fill="#e0207a" opacity="0.87"/><circle cx="27.7" cy="14.6" r="0.64" fill="#c01868" opacity="0.85"/><circle cx="11.4" cy="8.0" r="0.91" fill="#f02890" opacity="0.85"/><circle cx="27.4" cy="15.2" r="0.68" fill="#f02890" opacity="0.80"/><circle cx="5.4" cy="24.1" r="0.67" fill="#f02890" opacity="0.90"/><circle cx="-0.6" cy="20.0" r="1.02" fill="#c01868" opacity="0.88"/><circle cx="32.4" cy="20.0" r="1.02" fill="#c01868" opacity="0.88"/><circle cx="21.4" cy="20.5" r="0.74" fill="#f02890" opacity="0.52"/><circle cx="32.0" cy="17.0" r="0.67" fill="#f02890" opacity="0.87"/><circle cx="31.3" cy="11.4" r="1.06" fill="#f02890" opacity="0.53"/><circle cx="0.9" cy="26.8" r="0.88" fill="#c01868" opacity="0.74"/><circle cx="11.9" cy="18.8" r="0.93" fill="#e0207a" opacity="0.60"/><circle cx="24.6" cy="11.5" r="1.04" fill="#c01868" opacity="0.83"/><circle cx="30.2" cy="15.1" r="0.90" fill="#e0207a" opacity="0.62"/><circle cx="26.1" cy="16.2" r="0.65" fill="#f02890" opacity="0.73"/><circle cx="8.1" cy="17.5" r="0.98" fill="#e0207a" opacity="0.70"/><circle cx="28.0" cy="24.0" r="0.78" fill="#c01868" opacity="0.60"/><circle cx="0.5" cy="27.4" r="0.73" fill="#f02890" opacity="0.55"/><circle cx="33.5" cy="27.4" r="0.73" fill="#f02890" opacity="0.55"/><circle cx="17.2" cy="12.8" r="0.60" fill="#f02890" opacity="0.58"/><circle cx="19.2" cy="17.0" r="1.05" fill="#c01868" opacity="0.70"/><circle cx="28.4" cy="15.8" r="0.61" fill="#e0207a" opacity="0.64"/><circle cx="4.0" cy="15.0" r="0.71" fill="#f02890" opacity="0.50"/><circle cx="28.3" cy="25.4" r="0.99" fill="#f02890" opacity="0.77"/><circle cx="30.9" cy="8.7" r="1.04" fill="#c01868" opacity="0.66"/><circle cx="15.0" cy="12.3" r="0.95" fill="#e0207a" opacity="0.53"/><circle cx="13.6" cy="12.9" r="0.62" fill="#e0207a" opacity="0.84"/><circle cx="6.8" cy="27.6" r="0.72" fill="#c01868" opacity="0.71"/><circle cx="28.8" cy="2.0" r="0.88" fill="#e0207a" opacity="0.55"/><circle cx="4.4" cy="15.8" r="0.68" fill="#c01868" opacity="0.74"/><circle cx="7.9" cy="8.0" r="1.07" fill="#c01868" opacity="0.61"/><circle cx="27.3" cy="17.0" r="1.07" fill="#f02890" opacity="0.62"/><circle cx="11.7" cy="7.7" r="0.68" fill="#e0207a" opacity="0.58"/><circle cx="5.5" cy="20.5" r="1.05" fill="#f02890" opacity="0.78"/><circle cx="5.4" cy="10.0" r="1.02" fill="#e0207a" opacity="0.84"/><circle cx="26.9" cy="19.0" r="1.00" fill="#f02890" opacity="0.87"/><circle cx="3.5" cy="1.9" r="0.99" fill="#e0207a" opacity="0.80"/><circle cx="23.9" cy="7.0" r="0.68" fill="#e0207a" opacity="0.83"/><circle cx="20.5" cy="2.3" r="0.94" fill="#c01868" opacity="0.51"/><circle cx="27.8" cy="13.3" r="0.70" fill="#e0207a" opacity="0.70"/><circle cx="29.0" cy="-0.3" r="1.08" fill="#f02890" opacity="0.84"/><circle cx="29.0" cy="28.7" r="1.08" fill="#f02890" opacity="0.84"/><circle cx="7.4" cy="1.8" r="0.73" fill="#f02890" opacity="0.84"/><circle cx="13.7" cy="0.1" r="1.06" fill="#c01868" opacity="0.53"/><circle cx="13.7" cy="29.1" r="1.06" fill="#c01868" opacity="0.53"/><circle cx="20.9" cy="4.4" r="0.65" fill="#f02890" opacity="0.59"/><circle cx="25.6" cy="4.0" r="0.85" fill="#f02890" opacity="0.89"/><circle cx="16.2" cy="14.2" r="1.00" fill="#e0207a" opacity="0.77"/><circle cx="23.6" cy="7.8" r="0.91" fill="#e0207a" opacity="0.87"/><circle cx="17.2" cy="-0.5" r="0.83" fill="#c01868" opacity="0.67"/><circle cx="17.2" cy="28.5" r="0.83" fill="#c01868" opacity="0.67"/><circle cx="23.4" cy="23.4" r="0.87" fill="#e0207a" opacity="0.52"/><circle cx="26.8" cy="12.5" r="0.73" fill="#e0207a" opacity="0.69"/><circle cx="30.7" cy="-0.8" r="0.98" fill="#e0207a" opacity="0.72"/><circle cx="30.7" cy="28.2" r="0.98" fill="#e0207a" opacity="0.72"/><circle cx="9.7" cy="22.2" r="0.83" fill="#c01868" opacity="0.75"/><circle cx="27.3" cy="-0.6" r="0.62" fill="#f02890" opacity="0.55"/><circle cx="27.3" cy="28.4" r="0.62" fill="#f02890" opacity="0.55"/><circle cx="14.8" cy="4.0" r="0.81" fill="#c01868" opacity="0.64"/><circle cx="13.3" cy="24.9" r="0.95" fill="#c01868" opacity="0.88"/><circle cx="8.7" cy="24.3" r="0.65" fill="#f02890" opacity="0.76"/><circle cx="2.5" cy="20.5" r="0.89" fill="#f02890" opacity="0.81"/><circle cx="18.0" cy="16.3" r="0.92" fill="#e0207a" opacity="0.69"/><circle cx="14.5" cy="4.0" r="0.68" fill="#f02890" opacity="0.87"/><circle cx="18.8" cy="19.6" r="0.94" fill="#c01868" opacity="0.83"/><circle cx="1.3" cy="19.2" r="0.77" fill="#c01868" opacity="0.64"/><circle cx="6.0" cy="15.0" r="0.61" fill="#e0207a" opacity="0.51"/><circle cx="7.0" cy="9.2" r="0.93" fill="#f02890" opacity="0.60"/><circle cx="0.6" cy="14.5" r="0.87" fill="#c01868" opacity="0.89"/><circle cx="33.6" cy="14.5" r="0.87" fill="#c01868" opacity="0.89"/><circle cx="4.4" cy="9.2" r="0.68" fill="#f02890" opacity="0.58"/><circle cx="13.4" cy="9.0" r="1.03" fill="#f02890" opacity="0.67"/><circle cx="8.6" cy="10.8" r="0.87" fill="#c01868" opacity="0.78"/><circle cx="25.6" cy="4.5" r="0.78" fill="#e0207a" opacity="0.80"/><circle cx="12.2" cy="20.8" r="0.72" fill="#c01868" opacity="0.88"/><circle cx="22.8" cy="0.3" r="1.07" fill="#e0207a" opacity="0.67"/><circle cx="22.8" cy="29.3" r="1.07" fill="#e0207a" opacity="0.67"/><circle cx="15.7" cy="2.7" r="0.80" fill="#c01868" opacity="0.67"/><circle cx="2.4" cy="5.9" r="1.10" fill="#f02890" opacity="0.58"/><circle cx="10.8" cy="13.0" r="0.60" fill="#e0207a" opacity="0.63"/><circle cx="19.7" cy="4.8" r="0.84" fill="#e0207a" opacity="0.59"/><circle cx="1.5" cy="7.9" r="0.73" fill="#f02890" opacity="0.87"/><circle cx="17.3" cy="5.4" r="0.83" fill="#e0207a" opacity="0.80"/><circle cx="19.4" cy="18.2" r="0.67" fill="#e0207a" opacity="0.59"/></pattern>
<pattern id="pB" width="31" height="35" patternUnits="userSpaceOnUse"><circle cx="29.4" cy="25.3" r="0.68" fill="#2a2af0" opacity="0.59"/><circle cx="17.1" cy="20.4" r="0.77" fill="#1010b0" opacity="0.70"/><circle cx="7.8" cy="24.3" r="1.01" fill="#3838ff" opacity="0.79"/><circle cx="15.3" cy="3.0" r="1.00" fill="#3838ff" opacity="0.52"/><circle cx="21.3" cy="27.0" r="0.88" fill="#3838ff" opacity="0.63"/><circle cx="24.6" cy="4.8" r="0.68" fill="#1010b0" opacity="0.65"/><circle cx="0.2" cy="26.1" r="0.91" fill="#1010b0" opacity="0.65"/><circle cx="31.2" cy="26.1" r="0.91" fill="#1010b0" opacity="0.65"/><circle cx="4.1" cy="8.0" r="1.03" fill="#3838ff" opacity="0.86"/><circle cx="17.5" cy="32.7" r="0.96" fill="#3838ff" opacity="0.63"/><circle cx="11.4" cy="25.0" r="1.10" fill="#2a2af0" opacity="0.89"/><circle cx="2.6" cy="17.1" r="1.00" fill="#3838ff" opacity="0.73"/><circle cx="17.6" cy="7.3" r="1.07" fill="#3838ff" opacity="0.82"/><circle cx="29.9" cy="20.5" r="1.04" fill="#1010b0" opacity="0.89"/><circle cx="10.8" cy="-0.1" r="0.89" fill="#1010b0" opacity="0.87"/><circle cx="10.8" cy="34.9" r="0.89" fill="#1010b0" opacity="0.87"/><circle cx="14.1" cy="8.2" r="0.76" fill="#1010b0" opacity="0.72"/><circle cx="29.9" cy="18.5" r="0.68" fill="#2a2af0" opacity="0.60"/><circle cx="29.8" cy="29.6" r="0.79" fill="#3838ff" opacity="0.60"/><circle cx="4.3" cy="23.5" r="1.02" fill="#3838ff" opacity="0.67"/><circle cx="13.2" cy="12.5" r="0.84" fill="#2a2af0" opacity="0.72"/><circle cx="27.4" cy="24.7" r="0.99" fill="#2a2af0" opacity="0.61"/><circle cx="2.7" cy="21.4" r="1.09" fill="#1010b0" opacity="0.77"/><circle cx="15.8" cy="27.9" r="0.87" fill="#3838ff" opacity="0.53"/><circle cx="6.8" cy="18.4" r="1.04" fill="#1010b0" opacity="0.78"/><circle cx="29.1" cy="17.1" r="0.79" fill="#1010b0" opacity="0.59"/><circle cx="24.5" cy="31.2" r="1.00" fill="#2a2af0" opacity="0.61"/><circle cx="25.1" cy="26.1" r="0.75" fill="#1010b0" opacity="0.70"/><circle cx="6.1" cy="16.3" r="0.78" fill="#1010b0" opacity="0.81"/><circle cx="15.9" cy="13.3" r="0.60" fill="#2a2af0" opacity="0.60"/><circle cx="0.3" cy="9.0" r="0.92" fill="#3838ff" opacity="0.89"/><circle cx="31.3" cy="9.0" r="0.92" fill="#3838ff" opacity="0.89"/><circle cx="1.5" cy="27.9" r="0.84" fill="#1010b0" opacity="0.80"/><circle cx="23.7" cy="18.0" r="0.91" fill="#2a2af0" opacity="0.54"/><circle cx="26.7" cy="11.1" r="0.61" fill="#2a2af0" opacity="0.55"/><circle cx="24.0" cy="8.0" r="1.07" fill="#1010b0" opacity="0.62"/><circle cx="28.1" cy="26.6" r="0.76" fill="#2a2af0" opacity="0.68"/><circle cx="1.8" cy="34.0" r="0.88" fill="#2a2af0" opacity="0.79"/><circle cx="25.4" cy="14.6" r="0.96" fill="#3838ff" opacity="0.56"/><circle cx="15.1" cy="18.5" r="0.63" fill="#1010b0" opacity="0.50"/><circle cx="12.3" cy="15.5" r="0.75" fill="#2a2af0" opacity="0.83"/><circle cx="18.6" cy="32.5" r="1.00" fill="#3838ff" opacity="0.64"/><circle cx="4.0" cy="21.1" r="0.69" fill="#2a2af0" opacity="0.87"/><circle cx="28.7" cy="4.1" r="0.78" fill="#3838ff" opacity="0.85"/><circle cx="25.4" cy="27.9" r="0.64" fill="#2a2af0" opacity="0.68"/><circle cx="11.9" cy="32.7" r="0.98" fill="#2a2af0" opacity="0.62"/><circle cx="8.1" cy="8.1" r="0.99" fill="#2a2af0" opacity="0.71"/><circle cx="20.9" cy="30.0" r="0.69" fill="#1010b0" opacity="0.55"/><circle cx="29.0" cy="21.7" r="1.09" fill="#2a2af0" opacity="0.58"/><circle cx="6.6" cy="21.8" r="0.72" fill="#1010b0" opacity="0.52"/><circle cx="11.9" cy="28.4" r="0.95" fill="#2a2af0" opacity="0.64"/><circle cx="8.2" cy="18.8" r="0.82" fill="#2a2af0" opacity="0.60"/><circle cx="8.6" cy="23.4" r="0.70" fill="#2a2af0" opacity="0.86"/><circle cx="9.8" cy="14.1" r="0.61" fill="#3838ff" opacity="0.59"/><circle cx="11.8" cy="-0.2" r="1.03" fill="#3838ff" opacity="0.85"/><circle cx="11.8" cy="34.8" r="1.03" fill="#3838ff" opacity="0.85"/><circle cx="0.9" cy="26.9" r="0.61" fill="#1010b0" opacity="0.66"/><circle cx="1.2" cy="2.5" r="0.89" fill="#2a2af0" opacity="0.80"/><circle cx="10.1" cy="30.4" r="0.87" fill="#1010b0" opacity="0.63"/><circle cx="6.5" cy="33.2" r="0.80" fill="#2a2af0" opacity="0.82"/><circle cx="2.3" cy="32.1" r="0.69" fill="#1010b0" opacity="0.89"/><circle cx="5.6" cy="13.3" r="0.83" fill="#2a2af0" opacity="0.58"/><circle cx="13.6" cy="14.4" r="0.80" fill="#1010b0" opacity="0.83"/><circle cx="14.7" cy="25.3" r="0.84" fill="#1010b0" opacity="0.60"/><circle cx="8.3" cy="5.0" r="1.02" fill="#3838ff" opacity="0.59"/><circle cx="21.4" cy="26.6" r="1.04" fill="#1010b0" opacity="0.79"/><circle cx="-0.1" cy="12.0" r="0.80" fill="#3838ff" opacity="0.77"/><circle cx="30.9" cy="12.0" r="0.80" fill="#3838ff" opacity="0.77"/><circle cx="6.7" cy="5.0" r="1.04" fill="#3838ff" opacity="0.55"/><circle cx="2.5" cy="7.8" r="0.74" fill="#2a2af0" opacity="0.67"/><circle cx="14.2" cy="10.3" r="0.61" fill="#3838ff" opacity="0.64"/><circle cx="5.5" cy="2.3" r="0.68" fill="#1010b0" opacity="0.85"/><circle cx="18.4" cy="1.5" r="0.80" fill="#3838ff" opacity="0.60"/><circle cx="12.9" cy="2.6" r="0.92" fill="#3838ff" opacity="0.73"/><circle cx="12.4" cy="9.1" r="0.87" fill="#1010b0" opacity="0.55"/><circle cx="16.9" cy="28.5" r="0.81" fill="#3838ff" opacity="0.61"/><circle cx="6.7" cy="25.7" r="0.75" fill="#3838ff" opacity="0.64"/><circle cx="5.2" cy="20.7" r="0.62" fill="#2a2af0" opacity="0.53"/><circle cx="17.3" cy="26.4" r="0.70" fill="#3838ff" opacity="0.50"/><circle cx="18.0" cy="1.1" r="0.65" fill="#1010b0" opacity="0.60"/><circle cx="5.9" cy="12.0" r="0.63" fill="#1010b0" opacity="0.89"/><circle cx="14.8" cy="22.4" r="0.64" fill="#3838ff" opacity="0.69"/><circle cx="11.6" cy="9.9" r="0.93" fill="#1010b0" opacity="0.82"/><circle cx="20.9" cy="10.4" r="0.63" fill="#1010b0" opacity="0.84"/><circle cx="5.7" cy="7.4" r="0.81" fill="#1010b0" opacity="0.83"/><circle cx="22.1" cy="-0.3" r="0.81" fill="#3838ff" opacity="0.67"/><circle cx="22.1" cy="34.7" r="0.81" fill="#3838ff" opacity="0.67"/><circle cx="6.8" cy="32.7" r="1.01" fill="#2a2af0" opacity="0.51"/><circle cx="2.7" cy="2.8" r="1.07" fill="#3838ff" opacity="0.67"/><circle cx="17.7" cy="32.6" r="0.89" fill="#1010b0" opacity="0.64"/><circle cx="17.0" cy="10.4" r="0.95" fill="#1010b0" opacity="0.57"/><circle cx="0.2" cy="30.8" r="0.72" fill="#1010b0" opacity="0.61"/><circle cx="31.2" cy="30.8" r="0.72" fill="#1010b0" opacity="0.61"/><circle cx="14.5" cy="1.5" r="0.82" fill="#3838ff" opacity="0.68"/><circle cx="4.5" cy="33.7" r="1.01" fill="#2a2af0" opacity="0.62"/><circle cx="7.5" cy="9.3" r="0.88" fill="#3838ff" opacity="0.81"/><circle cx="14.9" cy="19.2" r="0.61" fill="#2a2af0" opacity="0.76"/><circle cx="11.9" cy="15.6" r="1.05" fill="#2a2af0" opacity="0.88"/><circle cx="6.9" cy="7.2" r="0.99" fill="#1010b0" opacity="0.52"/><circle cx="21.5" cy="32.7" r="0.84" fill="#1010b0" opacity="0.78"/><circle cx="5.6" cy="3.1" r="0.66" fill="#1010b0" opacity="0.64"/><circle cx="9.4" cy="4.2" r="0.86" fill="#1010b0" opacity="0.51"/><circle cx="1.2" cy="-0.3" r="0.63" fill="#1010b0" opacity="0.73"/><circle cx="1.2" cy="34.7" r="0.63" fill="#1010b0" opacity="0.73"/><circle cx="29.1" cy="1.2" r="0.61" fill="#3838ff" opacity="0.66"/><circle cx="13.9" cy="19.9" r="0.95" fill="#2a2af0" opacity="0.88"/><circle cx="3.4" cy="6.4" r="0.62" fill="#1010b0" opacity="0.54"/><circle cx="27.3" cy="30.4" r="0.64" fill="#1010b0" opacity="0.65"/><circle cx="17.2" cy="30.1" r="0.98" fill="#3838ff" opacity="0.88"/><circle cx="6.7" cy="12.6" r="0.62" fill="#2a2af0" opacity="0.74"/><circle cx="2.1" cy="32.1" r="1.05" fill="#1010b0" opacity="0.72"/><circle cx="8.3" cy="16.7" r="0.87" fill="#3838ff" opacity="0.73"/><circle cx="14.1" cy="12.2" r="0.71" fill="#3838ff" opacity="0.83"/><circle cx="27.6" cy="29.9" r="0.68" fill="#3838ff" opacity="0.56"/><circle cx="5.8" cy="9.5" r="0.72" fill="#3838ff" opacity="0.71"/><circle cx="4.5" cy="30.1" r="0.61" fill="#1010b0" opacity="0.85"/><circle cx="26.3" cy="0.1" r="0.87" fill="#2a2af0" opacity="0.83"/><circle cx="26.3" cy="35.1" r="0.87" fill="#2a2af0" opacity="0.83"/><circle cx="30.0" cy="6.3" r="0.88" fill="#3838ff" opacity="0.62"/></pattern>
<pattern id="pGB" width="29" height="31" patternUnits="userSpaceOnUse"><circle cx="25.1" cy="20.8" r="0.91" fill="#20d020" opacity="0.56"/><circle cx="26.2" cy="14.4" r="0.66" fill="#20d020" opacity="0.81"/><circle cx="13.0" cy="19.1" r="0.75" fill="#20d020" opacity="0.55"/><circle cx="18.4" cy="2.0" r="0.70" fill="#20d020" opacity="0.87"/><circle cx="6.4" cy="27.7" r="0.64" fill="#40ff40" opacity="0.73"/><circle cx="-0.5" cy="24.3" r="0.65" fill="#10b010" opacity="0.66"/><circle cx="28.5" cy="24.3" r="0.65" fill="#10b010" opacity="0.66"/><circle cx="21.3" cy="7.6" r="0.65" fill="#10b010" opacity="0.82"/><circle cx="25.8" cy="26.3" r="0.96" fill="#10b010" opacity="0.60"/><circle cx="11.1" cy="28.8" r="0.77" fill="#20d020" opacity="0.60"/><circle cx="5.0" cy="10.8" r="0.79" fill="#10b010" opacity="0.61"/><circle cx="5.6" cy="18.5" r="0.94" fill="#10b010" opacity="0.60"/><circle cx="14.7" cy="25.3" r="0.68" fill="#40ff40" opacity="0.64"/><circle cx="23.4" cy="25.6" r="0.76" fill="#40ff40" opacity="0.66"/><circle cx="1.8" cy="22.3" r="0.81" fill="#20d020" opacity="0.76"/><circle cx="2.1" cy="27.3" r="0.62" fill="#20d020" opacity="0.54"/><circle cx="21.0" cy="18.5" r="0.64" fill="#40ff40" opacity="0.72"/><circle cx="6.6" cy="22.7" r="0.98" fill="#40ff40" opacity="0.57"/><circle cx="2.9" cy="13.0" r="0.86" fill="#20d020" opacity="0.51"/><circle cx="24.9" cy="22.7" r="0.63" fill="#10b010" opacity="0.62"/><circle cx="15.8" cy="9.9" r="0.63" fill="#20d020" opacity="0.87"/><circle cx="21.0" cy="17.8" r="0.98" fill="#10b010" opacity="0.56"/><circle cx="16.4" cy="23.7" r="0.75" fill="#40ff40" opacity="0.73"/><circle cx="14.1" cy="15.8" r="1.00" fill="#40ff40" opacity="0.84"/><circle cx="6.6" cy="10.1" r="0.75" fill="#20d020" opacity="0.63"/><circle cx="17.5" cy="26.9" r="0.99" fill="#10b010" opacity="0.67"/><circle cx="10.3" cy="30.0" r="0.97" fill="#10b010" opacity="0.83"/><circle cx="26.4" cy="30.2" r="0.78" fill="#40ff40" opacity="0.55"/><circle cx="23.1" cy="8.4" r="0.77" fill="#40ff40" opacity="0.51"/><circle cx="24.6" cy="2.5" r="0.78" fill="#40ff40" opacity="0.54"/><circle cx="16.5" cy="27.5" r="0.68" fill="#40ff40" opacity="0.67"/><circle cx="2.5" cy="15.9" r="0.62" fill="#20d020" opacity="0.59"/><circle cx="5.5" cy="8.9" r="0.88" fill="#20d020" opacity="0.54"/><circle cx="27.3" cy="29.5" r="0.98" fill="#40ff40" opacity="0.72"/><circle cx="11.4" cy="6.5" r="0.61" fill="#40ff40" opacity="0.84"/><circle cx="17.7" cy="7.8" r="0.69" fill="#10b010" opacity="0.66"/><circle cx="22.3" cy="9.0" r="0.63" fill="#40ff40" opacity="0.71"/><circle cx="8.0" cy="9.1" r="0.68" fill="#20d020" opacity="0.52"/><circle cx="25.2" cy="14.6" r="0.74" fill="#20d020" opacity="0.58"/><circle cx="10.0" cy="23.0" r="0.98" fill="#40ff40" opacity="0.76"/><circle cx="19.3" cy="16.1" r="0.76" fill="#20d020" opacity="0.57"/><circle cx="25.3" cy="18.4" r="0.73" fill="#20d020" opacity="0.83"/><circle cx="25.9" cy="24.9" r="0.70" fill="#20d020" opacity="0.54"/><circle cx="22.3" cy="1.1" r="0.77" fill="#20d020" opacity="0.58"/><circle cx="3.6" cy="18.2" r="0.76" fill="#10b010" opacity="0.70"/><circle cx="23.4" cy="24.6" r="0.68" fill="#10b010" opacity="0.67"/><circle cx="24.8" cy="19.8" r="0.66" fill="#20d020" opacity="0.76"/><circle cx="-0.1" cy="15.6" r="0.67" fill="#40ff40" opacity="0.66"/><circle cx="28.9" cy="15.6" r="0.67" fill="#40ff40" opacity="0.66"/><circle cx="11.6" cy="14.1" r="0.68" fill="#20d020" opacity="0.64"/><circle cx="25.3" cy="4.1" r="0.64" fill="#40ff40" opacity="0.66"/><circle cx="8.1" cy="23.1" r="0.97" fill="#20d020" opacity="0.88"/><circle cx="-0.5" cy="12.7" r="0.90" fill="#40ff40" opacity="0.55"/><circle cx="28.5" cy="12.7" r="0.90" fill="#40ff40" opacity="0.55"/><circle cx="26.7" cy="9.5" r="0.71" fill="#10b010" opacity="0.66"/><circle cx="2.5" cy="5.2" r="0.92" fill="#40ff40" opacity="0.56"/><circle cx="28.3" cy="2.0" r="0.61" fill="#40ff40" opacity="0.59"/><circle cx="18.8" cy="12.7" r="0.86" fill="#10b010" opacity="0.87"/><circle cx="13.8" cy="27.8" r="0.95" fill="#20d020" opacity="0.90"/><circle cx="5.1" cy="-0.6" r="0.79" fill="#20d020" opacity="0.87"/><circle cx="5.1" cy="30.4" r="0.79" fill="#20d020" opacity="0.87"/><circle cx="-0.0" cy="15.6" r="0.84" fill="#20d020" opacity="0.61"/><circle cx="29.0" cy="15.6" r="0.84" fill="#20d020" opacity="0.61"/><circle cx="8.9" cy="14.7" r="0.64" fill="#40ff40" opacity="0.56"/><circle cx="27.4" cy="9.2" r="0.84" fill="#20d020" opacity="0.61"/><circle cx="9.1" cy="22.6" r="0.86" fill="#10b010" opacity="0.54"/><circle cx="25.6" cy="18.9" r="0.84" fill="#10b010" opacity="0.54"/><circle cx="26.5" cy="23.9" r="0.93" fill="#40ff40" opacity="0.74"/><circle cx="22.2" cy="29.0" r="0.99" fill="#10b010" opacity="0.75"/><circle cx="11.0" cy="4.9" r="0.76" fill="#40ff40" opacity="0.63"/><circle cx="10.0" cy="23.7" r="0.99" fill="#10b010" opacity="0.75"/><circle cx="4.9" cy="2.6" r="0.92" fill="#10b010" opacity="0.62"/><circle cx="1.5" cy="12.5" r="0.84" fill="#40ff40" opacity="0.81"/><circle cx="20.7" cy="10.2" r="0.87" fill="#10b010" opacity="0.67"/><circle cx="14.2" cy="8.8" r="0.72" fill="#40ff40" opacity="0.80"/><circle cx="13.4" cy="6.7" r="0.74" fill="#20d020" opacity="0.62"/><circle cx="26.2" cy="12.1" r="0.83" fill="#10b010" opacity="0.55"/><circle cx="22.8" cy="20.2" r="0.84" fill="#20d020" opacity="0.50"/><circle cx="1.4" cy="21.1" r="0.62" fill="#40ff40" opacity="0.50"/><circle cx="16.5" cy="12.4" r="0.85" fill="#10b010" opacity="0.89"/><circle cx="11.0" cy="5.8" r="0.94" fill="#10b010" opacity="0.79"/><circle cx="12.9" cy="11.1" r="0.63" fill="#20d020" opacity="0.74"/><circle cx="13.0" cy="22.4" r="0.75" fill="#40ff40" opacity="0.69"/><circle cx="11.5" cy="3.9" r="0.83" fill="#10b010" opacity="0.86"/><circle cx="16.3" cy="1.1" r="0.80" fill="#10b010" opacity="0.56"/><circle cx="23.4" cy="-0.1" r="0.66" fill="#40ff40" opacity="0.52"/><circle cx="23.4" cy="30.9" r="0.66" fill="#40ff40" opacity="0.52"/><circle cx="25.3" cy="28.3" r="0.73" fill="#40ff40" opacity="0.56"/><circle cx="0.2" cy="22.6" r="0.86" fill="#20d020" opacity="0.59"/><circle cx="29.2" cy="22.6" r="0.86" fill="#20d020" opacity="0.59"/><circle cx="23.8" cy="26.4" r="0.97" fill="#40ff40" opacity="0.81"/><circle cx="18.4" cy="10.4" r="0.88" fill="#20d020" opacity="0.55"/><circle cx="11.5" cy="-0.6" r="0.93" fill="#20d020" opacity="0.84"/><circle cx="11.5" cy="30.4" r="0.93" fill="#20d020" opacity="0.84"/><circle cx="22.8" cy="5.4" r="0.73" fill="#10b010" opacity="0.79"/><circle cx="8.0" cy="1.7" r="0.87" fill="#10b010" opacity="0.75"/><circle cx="22.1" cy="10.8" r="0.70" fill="#20d020" opacity="0.83"/><circle cx="11.3" cy="15.0" r="0.84" fill="#40ff40" opacity="0.83"/><circle cx="9.4" cy="19.4" r="0.70" fill="#10b010" opacity="0.52"/><circle cx="27.7" cy="22.8" r="0.90" fill="#40ff40" opacity="0.89"/><circle cx="3.6" cy="27.0" r="0.75" fill="#20d020" opacity="0.79"/><circle cx="12.3" cy="22.7" r="0.67" fill="#40ff40" opacity="0.67"/><circle cx="22.1" cy="29.8" r="0.77" fill="#40ff40" opacity="0.85"/><circle cx="22.3" cy="21.4" r="0.68" fill="#10b010" opacity="0.87"/><circle cx="8.7" cy="29.4" r="0.65" fill="#40ff40" opacity="0.70"/><circle cx="-0.1" cy="20.0" r="0.67" fill="#40ff40" opacity="0.72"/><circle cx="28.9" cy="20.0" r="0.67" fill="#40ff40" opacity="0.72"/><circle cx="18.6" cy="25.0" r="0.86" fill="#40ff40" opacity="0.63"/><circle cx="2.4" cy="28.9" r="0.96" fill="#10b010" opacity="0.67"/><circle cx="10.5" cy="25.0" r="0.88" fill="#20d020" opacity="0.71"/><circle cx="8.3" cy="24.9" r="0.76" fill="#10b010" opacity="0.78"/><circle cx="12.1" cy="26.0" r="1.00" fill="#40ff40" opacity="0.76"/><circle cx="6.6" cy="7.3" r="0.68" fill="#10b010" opacity="0.83"/><circle cx="27.8" cy="-0.5" r="0.71" fill="#40ff40" opacity="0.90"/><circle cx="27.8" cy="30.5" r="0.71" fill="#40ff40" opacity="0.90"/><circle cx="5.2" cy="22.7" r="0.99" fill="#20d020" opacity="0.88"/><circle cx="12.1" cy="22.0" r="0.90" fill="#20d020" opacity="0.89"/><circle cx="17.8" cy="23.0" r="0.66" fill="#20d020" opacity="0.67"/><circle cx="16.2" cy="24.8" r="0.63" fill="#40ff40" opacity="0.61"/><circle cx="17.4" cy="24.3" r="0.86" fill="#10b010" opacity="0.81"/></pattern>
<pattern id="pYG" width="29" height="31" patternUnits="userSpaceOnUse"><circle cx="16.6" cy="14.3" r="0.91" fill="#e0ff20" opacity="0.68"/><circle cx="17.4" cy="29.8" r="0.93" fill="#e0ff20" opacity="0.61"/><circle cx="24.5" cy="19.4" r="0.97" fill="#e0ff20" opacity="0.54"/><circle cx="5.3" cy="22.9" r="0.87" fill="#90b000" opacity="0.59"/><circle cx="1.0" cy="25.2" r="0.77" fill="#e0ff20" opacity="0.54"/><circle cx="16.4" cy="1.7" r="0.89" fill="#c8e010" opacity="0.59"/><circle cx="28.2" cy="3.6" r="0.69" fill="#c8e010" opacity="0.68"/><circle cx="26.3" cy="20.7" r="0.74" fill="#90b000" opacity="0.59"/><circle cx="24.7" cy="23.8" r="0.73" fill="#90b000" opacity="0.51"/><circle cx="11.6" cy="26.2" r="0.86" fill="#c8e010" opacity="0.58"/><circle cx="4.8" cy="5.9" r="0.78" fill="#90b000" opacity="0.88"/><circle cx="18.6" cy="8.6" r="0.80" fill="#e0ff20" opacity="0.81"/><circle cx="3.4" cy="11.5" r="0.83" fill="#c8e010" opacity="0.66"/><circle cx="14.0" cy="16.4" r="0.69" fill="#c8e010" opacity="0.76"/><circle cx="23.1" cy="20.1" r="0.78" fill="#c8e010" opacity="0.63"/><circle cx="16.5" cy="28.6" r="0.96" fill="#e0ff20" opacity="0.71"/><circle cx="9.7" cy="15.4" r="0.61" fill="#c8e010" opacity="0.63"/><circle cx="1.8" cy="1.6" r="0.65" fill="#c8e010" opacity="0.90"/><circle cx="14.2" cy="15.9" r="0.66" fill="#c8e010" opacity="0.57"/><circle cx="20.9" cy="5.7" r="0.64" fill="#90b000" opacity="0.80"/><circle cx="26.6" cy="11.0" r="0.84" fill="#e0ff20" opacity="0.65"/><circle cx="20.9" cy="9.5" r="0.89" fill="#c8e010" opacity="0.51"/><circle cx="16.5" cy="4.7" r="0.74" fill="#c8e010" opacity="0.64"/><circle cx="16.2" cy="18.6" r="0.97" fill="#c8e010" opacity="0.83"/><circle cx="11.9" cy="22.9" r="0.99" fill="#c8e010" opacity="0.60"/><circle cx="23.1" cy="6.8" r="0.84" fill="#c8e010" opacity="0.77"/><circle cx="14.6" cy="19.1" r="0.85" fill="#c8e010" opacity="0.79"/><circle cx="7.6" cy="9.4" r="0.98" fill="#90b000" opacity="0.73"/><circle cx="26.8" cy="24.8" r="0.80" fill="#e0ff20" opacity="0.81"/><circle cx="17.1" cy="13.5" r="0.61" fill="#90b000" opacity="0.56"/><circle cx="22.5" cy="19.6" r="0.98" fill="#e0ff20" opacity="0.56"/><circle cx="20.1" cy="30.1" r="0.64" fill="#c8e010" opacity="0.54"/><circle cx="24.2" cy="8.5" r="0.85" fill="#c8e010" opacity="0.87"/><circle cx="11.5" cy="11.9" r="0.83" fill="#e0ff20" opacity="0.50"/><circle cx="4.1" cy="-0.7" r="0.90" fill="#90b000" opacity="0.68"/><circle cx="4.1" cy="30.3" r="0.90" fill="#90b000" opacity="0.68"/><circle cx="16.6" cy="22.2" r="0.83" fill="#c8e010" opacity="0.87"/><circle cx="10.1" cy="0.8" r="0.88" fill="#e0ff20" opacity="0.66"/><circle cx="10.1" cy="31.8" r="0.88" fill="#e0ff20" opacity="0.66"/><circle cx="2.9" cy="14.4" r="0.88" fill="#90b000" opacity="0.72"/><circle cx="4.0" cy="10.6" r="0.90" fill="#90b000" opacity="0.86"/><circle cx="23.8" cy="25.2" r="0.81" fill="#90b000" opacity="0.54"/><circle cx="14.3" cy="19.8" r="0.62" fill="#c8e010" opacity="0.53"/><circle cx="5.5" cy="25.5" r="0.82" fill="#e0ff20" opacity="0.56"/><circle cx="6.5" cy="25.3" r="0.61" fill="#90b000" opacity="0.73"/><circle cx="16.2" cy="15.3" r="0.63" fill="#e0ff20" opacity="0.86"/><circle cx="18.8" cy="27.2" r="0.73" fill="#90b000" opacity="0.74"/><circle cx="16.8" cy="11.0" r="0.85" fill="#e0ff20" opacity="0.59"/><circle cx="1.3" cy="8.7" r="0.94" fill="#e0ff20" opacity="0.71"/><circle cx="20.3" cy="25.6" r="0.76" fill="#e0ff20" opacity="0.73"/><circle cx="27.1" cy="-0.2" r="0.68" fill="#c8e010" opacity="0.72"/><circle cx="27.1" cy="30.8" r="0.68" fill="#c8e010" opacity="0.72"/><circle cx="23.7" cy="14.2" r="0.93" fill="#90b000" opacity="0.56"/><circle cx="6.7" cy="11.4" r="0.80" fill="#c8e010" opacity="0.70"/><circle cx="23.0" cy="6.9" r="0.83" fill="#e0ff20" opacity="0.70"/><circle cx="5.5" cy="6.9" r="0.98" fill="#c8e010" opacity="0.88"/><circle cx="4.4" cy="26.6" r="0.69" fill="#90b000" opacity="0.84"/><circle cx="7.1" cy="25.7" r="0.70" fill="#e0ff20" opacity="0.85"/><circle cx="19.5" cy="-0.3" r="0.99" fill="#e0ff20" opacity="0.54"/><circle cx="19.5" cy="30.7" r="0.99" fill="#e0ff20" opacity="0.54"/><circle cx="6.7" cy="13.1" r="0.61" fill="#e0ff20" opacity="0.62"/><circle cx="19.0" cy="15.6" r="0.93" fill="#90b000" opacity="0.75"/><circle cx="4.9" cy="5.4" r="0.87" fill="#e0ff20" opacity="0.52"/><circle cx="22.2" cy="25.7" r="0.83" fill="#90b000" opacity="0.81"/><circle cx="13.0" cy="13.4" r="0.97" fill="#e0ff20" opacity="0.51"/><circle cx="25.5" cy="10.2" r="0.89" fill="#90b000" opacity="0.60"/><circle cx="3.4" cy="24.9" r="0.76" fill="#c8e010" opacity="0.65"/><circle cx="6.2" cy="3.1" r="0.71" fill="#90b000" opacity="0.73"/><circle cx="26.0" cy="2.2" r="0.78" fill="#90b000" opacity="0.86"/><circle cx="12.4" cy="6.2" r="0.74" fill="#90b000" opacity="0.64"/><circle cx="26.4" cy="23.6" r="0.78" fill="#90b000" opacity="0.75"/><circle cx="0.6" cy="5.2" r="0.69" fill="#e0ff20" opacity="0.60"/><circle cx="29.6" cy="5.2" r="0.69" fill="#e0ff20" opacity="0.60"/><circle cx="6.5" cy="10.7" r="0.99" fill="#c8e010" opacity="0.69"/><circle cx="4.7" cy="12.4" r="0.97" fill="#c8e010" opacity="0.74"/><circle cx="10.2" cy="28.6" r="0.64" fill="#e0ff20" opacity="0.65"/><circle cx="0.6" cy="24.4" r="0.94" fill="#e0ff20" opacity="0.66"/><circle cx="29.6" cy="24.4" r="0.94" fill="#e0ff20" opacity="0.66"/><circle cx="28.1" cy="12.1" r="0.69" fill="#90b000" opacity="0.66"/><circle cx="25.5" cy="13.4" r="0.76" fill="#c8e010" opacity="0.72"/><circle cx="19.4" cy="2.1" r="0.69" fill="#90b000" opacity="0.75"/><circle cx="22.6" cy="26.8" r="0.94" fill="#90b000" opacity="0.54"/><circle cx="3.9" cy="11.9" r="0.98" fill="#c8e010" opacity="0.61"/><circle cx="-0.5" cy="21.6" r="0.91" fill="#90b000" opacity="0.82"/><circle cx="28.5" cy="21.6" r="0.91" fill="#90b000" opacity="0.82"/><circle cx="20.9" cy="17.1" r="0.93" fill="#90b000" opacity="0.74"/><circle cx="21.7" cy="23.4" r="0.87" fill="#c8e010" opacity="0.57"/><circle cx="16.7" cy="14.1" r="0.72" fill="#c8e010" opacity="0.72"/><circle cx="2.3" cy="18.5" r="0.98" fill="#90b000" opacity="0.78"/><circle cx="4.9" cy="11.9" r="0.63" fill="#90b000" opacity="0.87"/><circle cx="6.9" cy="2.3" r="0.84" fill="#e0ff20" opacity="0.77"/><circle cx="11.9" cy="19.4" r="0.60" fill="#c8e010" opacity="0.87"/><circle cx="12.7" cy="4.5" r="0.74" fill="#90b000" opacity="0.87"/><circle cx="20.3" cy="28.5" r="0.61" fill="#e0ff20" opacity="0.66"/><circle cx="17.5" cy="26.7" r="0.83" fill="#c8e010" opacity="0.69"/><circle cx="28.0" cy="8.2" r="0.68" fill="#c8e010" opacity="0.64"/><circle cx="24.3" cy="2.1" r="0.67" fill="#90b000" opacity="0.83"/></pattern>
<pattern id="pBr" width="31" height="29" patternUnits="userSpaceOnUse"><circle cx="1.3" cy="0.8" r="0.63" fill="#a05a20" opacity="0.49"/><circle cx="8.9" cy="10.7" r="0.73" fill="#a03018" opacity="0.70"/><circle cx="19.6" cy="13.8" r="0.65" fill="#508020" opacity="0.67"/><circle cx="0.8" cy="7.2" r="0.67" fill="#508020" opacity="0.63"/><circle cx="17.3" cy="4.3" r="0.72" fill="#503010" opacity="0.40"/><circle cx="4.1" cy="2.1" r="0.80" fill="#508020" opacity="0.55"/><circle cx="24.7" cy="3.8" r="0.74" fill="#a03018" opacity="0.42"/><circle cx="5.6" cy="8.0" r="0.68" fill="#a05a20" opacity="0.48"/><circle cx="-0.8" cy="0.8" r="0.84" fill="#a03018" opacity="0.52"/><circle cx="30.2" cy="0.8" r="0.84" fill="#a03018" opacity="0.52"/><circle cx="22.1" cy="27.0" r="0.76" fill="#503010" opacity="0.51"/><circle cx="4.1" cy="12.9" r="0.53" fill="#a05a20" opacity="0.51"/><circle cx="12.3" cy="3.2" r="0.74" fill="#503010" opacity="0.53"/><circle cx="1.1" cy="23.5" r="0.82" fill="#a05a20" opacity="0.51"/><circle cx="0.4" cy="5.8" r="0.78" fill="#a05a20" opacity="0.43"/><circle cx="31.4" cy="5.8" r="0.78" fill="#a05a20" opacity="0.43"/><circle cx="10.2" cy="24.1" r="0.80" fill="#508020" opacity="0.69"/><circle cx="15.7" cy="26.2" r="0.52" fill="#508020" opacity="0.57"/><circle cx="29.6" cy="6.9" r="0.58" fill="#503010" opacity="0.54"/><circle cx="24.1" cy="20.5" r="0.72" fill="#508020" opacity="0.67"/><circle cx="21.4" cy="18.4" r="0.64" fill="#a03018" opacity="0.54"/><circle cx="28.1" cy="14.4" r="0.76" fill="#a05a20" opacity="0.55"/><circle cx="10.2" cy="5.6" r="0.69" fill="#508020" opacity="0.44"/><circle cx="14.2" cy="10.3" r="0.73" fill="#a05a20" opacity="0.64"/><circle cx="24.2" cy="14.4" r="0.78" fill="#a05a20" opacity="0.66"/><circle cx="20.2" cy="6.7" r="0.62" fill="#a05a20" opacity="0.69"/><circle cx="10.6" cy="13.5" r="0.87" fill="#503010" opacity="0.42"/><circle cx="29.5" cy="11.4" r="0.57" fill="#508020" opacity="0.32"/><circle cx="20.4" cy="15.5" r="0.54" fill="#508020" opacity="0.63"/><circle cx="2.2" cy="12.9" r="0.83" fill="#a03018" opacity="0.57"/><circle cx="29.7" cy="14.8" r="0.59" fill="#a05a20" opacity="0.41"/><circle cx="1.3" cy="0.1" r="0.85" fill="#a05a20" opacity="0.63"/><circle cx="1.3" cy="29.1" r="0.85" fill="#a05a20" opacity="0.63"/><circle cx="4.1" cy="18.0" r="0.51" fill="#508020" opacity="0.37"/><circle cx="3.8" cy="1.6" r="0.71" fill="#503010" opacity="0.35"/><circle cx="9.3" cy="15.1" r="0.84" fill="#a03018" opacity="0.59"/><circle cx="23.8" cy="2.4" r="0.54" fill="#a05a20" opacity="0.56"/><circle cx="4.7" cy="16.2" r="0.77" fill="#a05a20" opacity="0.32"/><circle cx="4.3" cy="7.6" r="0.72" fill="#a03018" opacity="0.34"/><circle cx="2.1" cy="6.4" r="0.70" fill="#503010" opacity="0.59"/><circle cx="29.3" cy="8.0" r="0.51" fill="#508020" opacity="0.44"/><circle cx="26.6" cy="10.4" r="0.70" fill="#a03018" opacity="0.31"/><circle cx="12.5" cy="15.9" r="0.84" fill="#a03018" opacity="0.33"/><circle cx="7.2" cy="9.0" r="0.77" fill="#508020" opacity="0.65"/><circle cx="7.5" cy="5.4" r="0.88" fill="#508020" opacity="0.54"/><circle cx="8.5" cy="23.6" r="0.82" fill="#a05a20" opacity="0.37"/><circle cx="3.8" cy="18.7" r="0.61" fill="#a05a20" opacity="0.52"/><circle cx="24.4" cy="21.8" r="0.78" fill="#a03018" opacity="0.65"/><circle cx="7.4" cy="16.1" r="0.86" fill="#a03018" opacity="0.43"/><circle cx="15.7" cy="1.4" r="0.70" fill="#503010" opacity="0.52"/><circle cx="21.1" cy="20.6" r="0.55" fill="#a03018" opacity="0.69"/><circle cx="-0.1" cy="7.9" r="0.51" fill="#a05a20" opacity="0.46"/><circle cx="30.9" cy="7.9" r="0.51" fill="#a05a20" opacity="0.46"/><circle cx="16.6" cy="13.1" r="0.81" fill="#a05a20" opacity="0.55"/><circle cx="20.9" cy="1.0" r="0.87" fill="#a05a20" opacity="0.47"/><circle cx="28.6" cy="16.3" r="0.86" fill="#a03018" opacity="0.66"/><circle cx="16.3" cy="20.8" r="0.52" fill="#503010" opacity="0.42"/><circle cx="3.1" cy="-0.4" r="0.79" fill="#508020" opacity="0.40"/><circle cx="3.1" cy="28.6" r="0.79" fill="#508020" opacity="0.40"/><circle cx="0.8" cy="11.4" r="0.75" fill="#508020" opacity="0.39"/><circle cx="16.5" cy="3.7" r="0.54" fill="#a05a20" opacity="0.32"/><circle cx="29.3" cy="8.3" r="0.56" fill="#508020" opacity="0.32"/><circle cx="22.9" cy="19.6" r="0.83" fill="#a05a20" opacity="0.36"/><circle cx="2.8" cy="25.5" r="0.81" fill="#503010" opacity="0.66"/><circle cx="7.2" cy="26.2" r="0.63" fill="#a05a20" opacity="0.63"/><circle cx="17.6" cy="16.7" r="0.56" fill="#508020" opacity="0.34"/><circle cx="10.7" cy="12.7" r="0.80" fill="#a05a20" opacity="0.56"/><circle cx="1.3" cy="21.7" r="0.54" fill="#508020" opacity="0.69"/><circle cx="24.0" cy="2.8" r="0.54" fill="#a05a20" opacity="0.49"/><circle cx="9.6" cy="15.4" r="0.67" fill="#503010" opacity="0.53"/><circle cx="9.5" cy="8.4" r="0.59" fill="#503010" opacity="0.50"/><circle cx="11.3" cy="23.7" r="0.61" fill="#503010" opacity="0.60"/><circle cx="1.8" cy="21.8" r="0.55" fill="#a05a20" opacity="0.33"/><circle cx="14.6" cy="22.1" r="0.59" fill="#a03018" opacity="0.51"/><circle cx="4.6" cy="-0.4" r="0.58" fill="#a03018" opacity="0.37"/><circle cx="4.6" cy="28.6" r="0.58" fill="#a03018" opacity="0.37"/><circle cx="6.0" cy="2.0" r="0.51" fill="#503010" opacity="0.56"/><circle cx="29.2" cy="21.5" r="0.84" fill="#508020" opacity="0.60"/><circle cx="1.1" cy="22.8" r="0.67" fill="#a03018" opacity="0.54"/><circle cx="4.2" cy="22.1" r="0.51" fill="#508020" opacity="0.43"/><circle cx="4.6" cy="9.0" r="0.56" fill="#503010" opacity="0.32"/><circle cx="25.9" cy="25.5" r="0.64" fill="#508020" opacity="0.66"/><circle cx="8.3" cy="7.1" r="0.82" fill="#508020" opacity="0.36"/><circle cx="2.1" cy="16.3" r="0.76" fill="#a05a20" opacity="0.54"/><circle cx="25.9" cy="5.0" r="0.89" fill="#a03018" opacity="0.62"/><circle cx="12.8" cy="22.4" r="0.60" fill="#a03018" opacity="0.64"/><circle cx="28.2" cy="7.6" r="0.65" fill="#508020" opacity="0.42"/><circle cx="6.8" cy="11.8" r="0.69" fill="#503010" opacity="0.35"/><circle cx="16.0" cy="17.1" r="0.84" fill="#a03018" opacity="0.45"/><circle cx="17.5" cy="0.8" r="0.82" fill="#a03018" opacity="0.52"/><circle cx="26.5" cy="3.3" r="0.55" fill="#a05a20" opacity="0.49"/><circle cx="23.6" cy="28.0" r="0.62" fill="#508020" opacity="0.44"/><circle cx="23.4" cy="22.6" r="0.88" fill="#a03018" opacity="0.68"/><circle cx="18.7" cy="22.6" r="0.65" fill="#a03018" opacity="0.41"/><circle cx="2.9" cy="11.3" r="0.90" fill="#a03018" opacity="0.60"/><circle cx="14.9" cy="22.2" r="0.52" fill="#a03018" opacity="0.38"/><circle cx="27.8" cy="16.5" r="0.55" fill="#503010" opacity="0.67"/><circle cx="16.4" cy="9.7" r="0.75" fill="#508020" opacity="0.58"/><circle cx="22.5" cy="27.3" r="0.59" fill="#a05a20" opacity="0.43"/><circle cx="11.1" cy="26.9" r="0.59" fill="#a05a20" opacity="0.37"/><circle cx="26.5" cy="8.6" r="0.77" fill="#a03018" opacity="0.50"/><circle cx="20.8" cy="21.3" r="0.70" fill="#503010" opacity="0.55"/><circle cx="2.5" cy="23.9" r="0.74" fill="#a05a20" opacity="0.42"/><circle cx="24.8" cy="8.3" r="0.61" fill="#a03018" opacity="0.56"/><circle cx="7.5" cy="14.5" r="0.61" fill="#a03018" opacity="0.63"/><circle cx="6.9" cy="10.4" r="0.58" fill="#503010" opacity="0.32"/><circle cx="7.2" cy="11.1" r="0.61" fill="#503010" opacity="0.48"/><circle cx="27.8" cy="9.4" r="0.61" fill="#508020" opacity="0.31"/><circle cx="4.2" cy="3.0" r="0.85" fill="#a03018" opacity="0.39"/><circle cx="17.8" cy="8.3" r="0.63" fill="#503010" opacity="0.67"/><circle cx="30.0" cy="15.0" r="0.60" fill="#508020" opacity="0.69"/><circle cx="16.9" cy="8.9" r="0.65" fill="#508020" opacity="0.69"/><circle cx="28.4" cy="7.6" r="0.67" fill="#a05a20" opacity="0.38"/><circle cx="4.7" cy="8.6" r="0.51" fill="#503010" opacity="0.53"/><circle cx="9.2" cy="2.5" r="0.71" fill="#508020" opacity="0.69"/><circle cx="9.3" cy="19.6" r="0.55" fill="#a05a20" opacity="0.66"/><circle cx="26.6" cy="15.2" r="0.79" fill="#a05a20" opacity="0.64"/><circle cx="13.3" cy="12.0" r="0.88" fill="#a03018" opacity="0.59"/><circle cx="4.2" cy="3.7" r="0.55" fill="#a05a20" opacity="0.44"/><circle cx="12.6" cy="11.7" r="0.59" fill="#a03018" opacity="0.56"/><circle cx="22.9" cy="3.5" r="0.62" fill="#a05a20" opacity="0.53"/><circle cx="26.2" cy="10.4" r="0.88" fill="#503010" opacity="0.40"/><circle cx="23.7" cy="15.9" r="0.77" fill="#503010" opacity="0.41"/><circle cx="26.8" cy="22.1" r="0.59" fill="#503010" opacity="0.36"/><circle cx="20.5" cy="16.0" r="0.75" fill="#503010" opacity="0.57"/><circle cx="11.1" cy="4.5" r="0.77" fill="#a03018" opacity="0.68"/></pattern>
</defs>
<rect x="280" y="2" width="257" height="320" fill="#050101"/>
<rect x="280" y="2" width="90.5" height="160.5" fill="#2a1408"/>
<g filter="url(#sb)"><rect x="280" y="2" width="90.5" height="160.5" fill="url(#pR1)"/><rect x="280" y="2" width="90.5" height="160.5" fill="url(#pG1)"/></g>
<clipPath id="cTLw"><path d="M337 14 Q347 9 357 14 L360 60 L362.5 110 L364 162.5 L322 162.5 L323 130 L318 118 L314 108 L311 80 L311 70 Q322 62 330 55 L334 45 Z"/></clipPath>
<path d="M337 14 Q347 9 357 14 L360 60 L362.5 110 L364 162.5 L322 162.5 L323 130 L318 118 L314 108 L311 80 L311 70 Q322 62 330 55 L334 45 Z" fill="#060101"/>
<linearGradient id="gTLw" x1="0" x2="1"><stop offset="0" stop-color="#fff" stop-opacity="0.15"/><stop offset="0.5" stop-color="#fff" stop-opacity="0.35"/><stop offset="0.66" stop-color="#fff" stop-opacity="0.95"/><stop offset="0.9" stop-color="#fff" stop-opacity="1"/><stop offset="1" stop-color="#fff" stop-opacity="0.7"/></linearGradient><mask id="mTLw"><rect x="311" y="5" width="55" height="160" fill="url(#gTLw)"/></mask>
<g clip-path="url(#cTLw)"><g mask="url(#mTLw)" filter="url(#sb)"><rect x="311" y="5" width="55" height="160" fill="url(#pR2d)"/></g><rect x="311" y="5" width="55" height="80" fill="url(#gTLv)"/></g>
<linearGradient id="gTLv" x1="0" x2="0" y1="0" y2="1"><stop offset="0" stop-color="#060101" stop-opacity="0.75"/><stop offset="1" stop-color="#060101" stop-opacity="0"/></linearGradient>
<path d="M322 140 L323 130 L318 118 L314 108 M311 70 Q322 62 330 55 L334 45 L337 14 Q347 9 357 14 L360 60 L362.5 110 L364 162" fill="none" stroke="#58b028" stroke-width="1.1" stroke-dasharray="1.2 2.3" opacity="0.75" filter="url(#b06)"/>
<path d="M290 67.5 Q300 65.5 306 70 Q311 76 311 88 Q311 101 305 105.5 Q297 108 289 105 Q283 100 283 87 Q283 72 290 67.5 Z" fill="#22d622" filter="url(#b06)"/>
<path d="M290 67.5 Q300 65.5 306 70 Q311 76 311 88 Q311 101 305 105.5 Q297 108 289 105 Q283 100 283 87 Q283 72 290 67.5 Z" fill="url(#pGB)" opacity="0.8" filter="url(#sb)"/>
<clipPath id="cTL"><rect x="280" y="2" width="90.5" height="160.5"/></clipPath>
<g clip-path="url(#cTL)"><ellipse cx="327" cy="152" rx="6.5" ry="15" fill="#18a818" filter="url(#b06)"/></g>
<rect x="280.6" y="82" width="89.3" height="2.1" fill="#f2f200"/>
<rect x="324.7" y="119.5" width="38.8" height="2.1" fill="#f2f200"/>
<rect x="370.5" y="2" width="83" height="160.5" fill="#220404"/>
<g filter="url(#sb)"><rect x="370.5" y="2" width="83" height="160.5" fill="url(#pR2)"/></g>
<path d="M416 40 L434 40 L441 162.5 L417 162.5 Z" fill="url(#pR2d)" filter="url(#b06)"/>
<path d="M418 60 L433 60 L439 162.5 L419 162.5 Z" fill="#d01818" opacity="0.35" filter="url(#b3)"/>
<rect x="453.5" y="2" width="83.5" height="160.5" fill="#040101"/>
<g filter="url(#sb)"><rect x="453.5" y="2" width="83.5" height="160.5" fill="url(#pO1)"/></g>
<path d="M503 15 Q511 11 520.5 14 L522.5 60 L524.5 95 L525.5 103 L525.5 110 L525.5 162.5 L495.5 162.5 L495.5 102 Q486 99 481.5 95 L481 72 Q488 62 495 55 L502 48 Z" fill="#5a2008" filter="url(#b06)"/>
<path d="M503 15 Q511 11 520.5 14 L522.5 60 L524.5 95 L525.5 103 L525.5 110 L525.5 162.5 L495.5 162.5 L495.5 102 Q486 99 481.5 95 L481 72 Q488 62 495 55 L502 48 Z" fill="url(#pO2)" filter="url(#sb)"/>
<ellipse cx="503" cy="152" rx="8" ry="14" fill="#000" opacity="0.45" filter="url(#b3)"/>
<rect x="280" y="162.5" width="95.7" height="159.5" fill="#0c0202"/>
<g filter="url(#sb)"><rect x="280" y="162.5" width="95.7" height="159.5" fill="url(#pR3)"/><rect x="280" y="162.5" width="95.7" height="159.5" fill="url(#pG3)"/></g>
<linearGradient id="gBL" x1="0" x2="1"><stop offset="0" stop-color="#4a2aa8"/><stop offset="0.55" stop-color="#6a2a9a"/><stop offset="0.8" stop-color="#a01e78"/><stop offset="1" stop-color="#7a1a70"/></linearGradient>
<path d="M339 178 Q341 171 348 171 Q356 171 357.5 178 L360 220 L363 270 L363.5 322 L334 322 L334 264 Q320 263 312 258 L312 222 Q325 218 334 212 Z" fill="url(#gBL)" filter="url(#b06)"/>
<clipPath id="cBL"><path d="M339 178 Q341 171 348 171 Q356 171 357.5 178 L360 220 L363 270 L363.5 322 L334 322 L334 264 Q320 263 312 258 L312 222 Q325 218 334 212 Z"/></clipPath>
<g clip-path="url(#cBL)" filter="url(#sb)"><rect x="340" y="170" width="26" height="155" fill="url(#pM)"/><rect x="310" y="170" width="34" height="155" fill="url(#pB)" opacity="0.5"/></g>
<ellipse cx="300" cy="246" rx="13" ry="19.5" fill="#a8c410" filter="url(#b06)"/>
<ellipse cx="300" cy="246" rx="12.5" ry="19" fill="url(#pYG)" filter="url(#sb)"/>
<clipPath id="cBL2"><rect x="280" y="162.5" width="95.7" height="159.5"/></clipPath>
<g clip-path="url(#cBL2)"><ellipse cx="333.3" cy="320" rx="9.5" ry="25" fill="#8a8a28" filter="url(#b06)"/></g>
<rect x="375.7" y="162.5" width="80.3" height="159.5" fill="#01010e"/>
<path d="M426.3 176 Q428 172.5 434 173 Q441 172 443 176 L446 220 L447.5 270 L448 322 L418 322 L418 262 L406 258.5 Q403 257 403 253 L403 230 Q404 227 407 226.5 L417 221 L418 216 L423 208 L423.5 190 Z" fill="#1616c8" filter="url(#b06)"/>
<path d="M426.3 176 Q428 172.5 434 173 Q441 172 443 176 L446 220 L447.5 270 L448 322 L418 322 L418 262 L406 258.5 Q403 257 403 253 L403 230 Q404 227 407 226.5 L417 221 L418 216 L423 208 L423.5 190 Z" fill="url(#pB)" opacity="0.6" filter="url(#sb)"/>
<rect x="456" y="162.5" width="81" height="159.5" fill="#010301"/>
<g filter="url(#sb)"><rect x="456" y="162.5" width="81" height="159.5" fill="url(#pGs)"/></g>
<path d="M506 174 Q514 171 522 173 L525 220 L527 322 L497 322 L497 262 L482 258 L482 228 Q494 220 500 210 Z" fill="#0a260a" opacity="0.35" filter="url(#b1)"/>
<rect x="459" y="226.4" width="23.3" height="40" rx="9" ry="11" fill="#20d820" filter="url(#b06)"/>
<rect x="459.5" y="227" width="22.3" height="39" rx="8.5" ry="10.5" fill="url(#pGB)" opacity="0.7" filter="url(#sb)"/>
<clipPath id="cBR"><rect x="456" y="162.5" width="81" height="159.5"/></clipPath>
<g clip-path="url(#cBR)"><ellipse cx="501.3" cy="318" rx="10" ry="27" fill="#24b024" filter="url(#b06)"/></g>
<rect x="280.3" y="2.5" width="25.5" height="28" fill="#fa1a1a"/>
<text x="283.8" y="23.5" font-size="17.5" fill="#fff">Al</text>
<rect x="305.8" y="2.5" width="25.3" height="28" fill="#1ee85a"/>
<text x="309.3" y="23.5" font-size="17.5" fill="#000">Bi</text>
<rect x="370.6" y="3" width="25.4" height="28" fill="#f51a1a"/>
<text x="374.1" y="24" font-size="17.5" fill="#fff">Al</text>
<rect x="453.6" y="3" width="26.2" height="28" fill="#c8900c"/>
<text x="455.6" y="24" font-size="17.5" fill="#000">Ga</text>
<rect x="280.1" y="163.3" width="25.7" height="28.4" fill="#fa1a1a"/>
<text x="283.6" y="184.70000000000002" font-size="17.5" fill="#fff">Al</text>
<rect x="305.8" y="164.4" width="25.1" height="28.6" fill="#1ee85a"/>
<text x="309.3" y="186.0" font-size="17.5" fill="#000">Bi</text>
<rect x="278.8" y="192" width="28.3" height="28" fill="#3a2ae6"/>
<text x="282.3" y="213" font-size="17.5" fill="#fff">As</text>
<rect x="375.7" y="162.7" width="28.4" height="29" fill="#4a36ee"/>
<text x="379.2" y="184.7" font-size="17.5" fill="#fff">As</text>
<rect x="458.3" y="162.6" width="25.7" height="29" fill="#20e850"/>
<text x="461.8" y="184.6" font-size="17.5" fill="#000">Bi</text>
<text x="284.5" y="313.8" font-size="23" fill="#fff">(c)</text>
<rect x="280" y="162" width="257" height="0.8" fill="#5a4a4a" opacity="0.6"/>
<rect x="538.5" y="2" width="165" height="320" fill="#000"/>
<rect x="621.5" y="2" width="82" height="320" fill="#0a0a0a"/>
<clipPath id="cD"><path d="M563 32 Q572 28 580.5 32 L583 80 L585 150 L587 250 L588.5 322 L563.5 322 L562.5 250 L561.5 150 L561.5 80 Z"/></clipPath>
<linearGradient id="gDW" x1="0" x2="0" y1="30" y2="322" gradientUnits="userSpaceOnUse"><stop offset="0" stop-color="#4a2c10"/><stop offset="0.25" stop-color="#6a3c16"/><stop offset="1" stop-color="#784218"/></linearGradient>
<path d="M563 32 Q572 28 580.5 32 L583 80 L585 150 L587 250 L588.5 322 L563.5 322 L562.5 250 L561.5 150 L561.5 80 Z" fill="url(#gDW)" filter="url(#b1)"/>
<g clip-path="url(#cD)" filter="url(#sb)"><rect x="558" y="25" width="34" height="300" fill="url(#pBr)"/></g>
<ellipse cx="572.5" cy="23" rx="10" ry="10" fill="#3ccc1c" filter="url(#b1)"/>
<path d="M588 113 L597 112 L602.5 122 L603.5 134 L599 146 L590 149 L585 140 L584 124 Z" fill="#5ad018" filter="url(#b1)"/>
<path d="M585 114 L588 113 L586 125 L586 140 L588 148 L585 146 Z" fill="#c04010" opacity="0.6" filter="url(#b06)"/>
<radialGradient id="gYB" cx="0.5" cy="0.5" r="0.5"><stop offset="0" stop-color="#f4f020"/><stop offset="0.6" stop-color="#e0d818"/><stop offset="1" stop-color="#b0b010"/></radialGradient>
<ellipse cx="572.3" cy="197.5" rx="12.5" ry="13" fill="url(#gYB)" filter="url(#b1)"/>
<circle cx="567" cy="201" r="3" fill="#e07010" opacity="0.35" filter="url(#b1)"/><circle cx="563.5" cy="193" r="3.5" fill="#70b010" opacity="0.35" filter="url(#b1)"/>
<linearGradient id="wd" x1="0" x2="0" y1="0" y2="1"><stop offset="0" stop-color="#484848"/><stop offset="0.3" stop-color="#5e5e5e"/><stop offset="1" stop-color="#8c8c8c"/></linearGradient>
<g filter="url(#b1)">
<path d="M646.5 32 L664 32 L665 110 L666 200 L669.5 322 L646.7 322 L645 200 L644 110 Z" fill="url(#wd)"/>
<ellipse cx="655.7" cy="24" rx="10.6" ry="10.2" fill="#ececec"/>
<path d="M668.5 117 Q675 112.5 681 117 Q684 122 685.5 131 Q685 140 679 146 Q672 150.5 667.5 146 Q665.5 140 665.8 130 Q666 121 668.5 117 Z" fill="#e6e6e6"/>
<path d="M648 187.5 Q656 184.5 662 188 Q666 193 665.5 200 Q665 207 659 211 Q651 213.5 645.5 209.5 Q642 204 642.5 197 Q643.5 190 648 187.5 Z" fill="#f4f4f4"/>
</g>
<rect x="596" y="2" width="26.4" height="28.2" fill="#1ee85a"/>
<text x="600" y="23.2" font-size="17.5" fill="#000">Bi</text>
<rect x="596" y="30.2" width="26.4" height="29.3" fill="#c8900c"/>
<text x="598" y="52.5" font-size="17.5" fill="#000">Ga</text>
<rect x="596" y="59.5" width="26.4" height="29.3" fill="#ffff10"/>
<text x="598" y="81.8" font-size="17.5" fill="#000">Au</text>
<text x="539.5" y="313.8" font-size="23" fill="#fff">(d)</text>
<rect x="280.5" y="338.6" width="65.5" height="3.2" fill="#000"/>
<text x="359" y="343.8" font-size="17.6" letter-spacing="0.5" fill="#111">250 nm</text>
<rect x="545.7" y="331" width="38.6" height="2.8" fill="#000"/>
<text x="600" y="344" font-size="17.6" letter-spacing="0.5" fill="#111">100 nm</text>
<line x1="52.5" x2="363.3" y1="558.8" y2="558.8" stroke="#d4d4d4" stroke-width="1"/>
<line x1="52.5" x2="363.3" y1="510.6" y2="510.6" stroke="#d4d4d4" stroke-width="1"/>
<line x1="52.5" x2="363.3" y1="462.4" y2="462.4" stroke="#d4d4d4" stroke-width="1"/>
<line x1="52.5" x2="363.3" y1="414.2" y2="414.2" stroke="#d4d4d4" stroke-width="1"/>
<line x1="52.5" x2="363.3" y1="607.0" y2="607.0" stroke="#d4d4d4" stroke-width="1"/>
<g><rect x="51.2" y="550.5" width="3.6" height="3.6" fill="#e8a83a"/><rect x="53.1" y="564.9" width="3.6" height="3.6" fill="#e8a83a"/><rect x="55.1" y="575.3" width="3.6" height="3.6" fill="#e8a83a"/><rect x="57.0" y="584.9" width="3.6" height="3.6" fill="#e8a83a"/><rect x="59.0" y="588.1" width="3.6" height="3.6" fill="#e8a83a"/><rect x="60.9" y="590.3" width="3.6" height="3.6" fill="#e8a83a"/><rect x="62.8" y="597.7" width="3.6" height="3.6" fill="#e8a83a"/><rect x="64.8" y="596.8" width="3.6" height="3.6" fill="#e8a83a"/><rect x="66.7" y="596.4" width="3.6" height="3.6" fill="#e8a83a"/><rect x="68.7" y="596.6" width="3.6" height="3.6" fill="#e8a83a"/><rect x="70.6" y="596.3" width="3.6" height="3.6" fill="#e8a83a"/><rect x="72.5" y="594.9" width="3.6" height="3.6" fill="#e8a83a"/><rect x="74.5" y="596.8" width="3.6" height="3.6" fill="#e8a83a"/><rect x="76.4" y="595.6" width="3.6" height="3.6" fill="#e8a83a"/><rect x="78.4" y="592.7" width="3.6" height="3.6" fill="#e8a83a"/><rect x="80.3" y="598.9" width="3.6" height="3.6" fill="#e8a83a"/><rect x="82.2" y="593.6" width="3.6" height="3.6" fill="#e8a83a"/><rect x="84.2" y="604.3" width="3.6" height="3.6" fill="#e8a83a"/><rect x="86.1" y="595.3" width="3.6" height="3.6" fill="#e8a83a"/><rect x="88.1" y="600.6" width="3.6" height="3.6" fill="#e8a83a"/><rect x="90.0" y="598.2" width="3.6" height="3.6" fill="#e8a83a"/><rect x="91.9" y="599.6" width="3.6" height="3.6" fill="#e8a83a"/><rect x="93.9" y="595.6" width="3.6" height="3.6" fill="#e8a83a"/><rect x="95.8" y="597.2" width="3.6" height="3.6" fill="#e8a83a"/><rect x="97.8" y="600.7" width="3.6" height="3.6" fill="#e8a83a"/><rect x="99.7" y="601.6" width="3.6" height="3.6" fill="#e8a83a"/><rect x="101.6" y="593.1" width="3.6" height="3.6" fill="#e8a83a"/><rect x="103.6" y="597.7" width="3.6" height="3.6" fill="#e8a83a"/><rect x="105.5" y="599.8" width="3.6" height="3.6" fill="#e8a83a"/><rect x="107.5" y="599.7" width="3.6" height="3.6" fill="#e8a83a"/><rect x="109.4" y="595.3" width="3.6" height="3.6" fill="#e8a83a"/><rect x="111.3" y="591.9" width="3.6" height="3.6" fill="#e8a83a"/><rect x="113.3" y="595.1" width="3.6" height="3.6" fill="#e8a83a"/><rect x="115.2" y="595.7" width="3.6" height="3.6" fill="#e8a83a"/><rect x="117.2" y="595.4" width="3.6" height="3.6" fill="#e8a83a"/><rect x="119.1" y="597.2" width="3.6" height="3.6" fill="#e8a83a"/><rect x="121.0" y="601.3" width="3.6" height="3.6" fill="#e8a83a"/><rect x="123.0" y="595.4" width="3.6" height="3.6" fill="#e8a83a"/><rect x="124.9" y="590.9" width="3.6" height="3.6" fill="#e8a83a"/><rect x="126.9" y="592.5" width="3.6" height="3.6" fill="#e8a83a"/><rect x="128.8" y="598.8" width="3.6" height="3.6" fill="#e8a83a"/><rect x="130.7" y="592.8" width="3.6" height="3.6" fill="#e8a83a"/><rect x="132.7" y="600.4" width="3.6" height="3.6" fill="#e8a83a"/><rect x="134.6" y="595.4" width="3.6" height="3.6" fill="#e8a83a"/><rect x="136.6" y="597.8" width="3.6" height="3.6" fill="#e8a83a"/><rect x="138.5" y="596.9" width="3.6" height="3.6" fill="#e8a83a"/><rect x="140.4" y="591.3" width="3.6" height="3.6" fill="#e8a83a"/><rect x="142.4" y="590.4" width="3.6" height="3.6" fill="#e8a83a"/><rect x="144.3" y="592.9" width="3.6" height="3.6" fill="#e8a83a"/><rect x="146.3" y="593.6" width="3.6" height="3.6" fill="#e8a83a"/><rect x="148.2" y="590.2" width="3.6" height="3.6" fill="#e8a83a"/><rect x="150.1" y="588.0" width="3.6" height="3.6" fill="#e8a83a"/><rect x="152.1" y="579.9" width="3.6" height="3.6" fill="#e8a83a"/><rect x="154.0" y="565.0" width="3.6" height="3.6" fill="#e8a83a"/><rect x="156.0" y="540.2" width="3.6" height="3.6" fill="#e8a83a"/><rect x="157.9" y="514.2" width="3.6" height="3.6" fill="#e8a83a"/><rect x="159.8" y="497.0" width="3.6" height="3.6" fill="#e8a83a"/><rect x="161.8" y="495.4" width="3.6" height="3.6" fill="#e8a83a"/><rect x="163.7" y="493.7" width="3.6" height="3.6" fill="#e8a83a"/><rect x="165.7" y="497.0" width="3.6" height="3.6" fill="#e8a83a"/><rect x="167.6" y="498.8" width="3.6" height="3.6" fill="#e8a83a"/><rect x="169.5" y="492.5" width="3.6" height="3.6" fill="#e8a83a"/><rect x="171.5" y="493.7" width="3.6" height="3.6" fill="#e8a83a"/><rect x="173.4" y="490.6" width="3.6" height="3.6" fill="#e8a83a"/><rect x="175.4" y="491.3" width="3.6" height="3.6" fill="#e8a83a"/><rect x="177.3" y="502.1" width="3.6" height="3.6" fill="#e8a83a"/><rect x="179.2" y="486.1" width="3.6" height="3.6" fill="#e8a83a"/><rect x="181.2" y="482.6" width="3.6" height="3.6" fill="#e8a83a"/><rect x="183.1" y="487.5" width="3.6" height="3.6" fill="#e8a83a"/><rect x="185.1" y="486.7" width="3.6" height="3.6" fill="#e8a83a"/><rect x="187.0" y="491.6" width="3.6" height="3.6" fill="#e8a83a"/><rect x="188.9" y="495.8" width="3.6" height="3.6" fill="#e8a83a"/><rect x="190.9" y="490.7" width="3.6" height="3.6" fill="#e8a83a"/><rect x="192.8" y="498.6" width="3.6" height="3.6" fill="#e8a83a"/><rect x="194.8" y="486.8" width="3.6" height="3.6" fill="#e8a83a"/><rect x="196.7" y="491.8" width="3.6" height="3.6" fill="#e8a83a"/><rect x="198.6" y="492.6" width="3.6" height="3.6" fill="#e8a83a"/><rect x="200.6" y="485.8" width="3.6" height="3.6" fill="#e8a83a"/><rect x="202.5" y="488.3" width="3.6" height="3.6" fill="#e8a83a"/><rect x="204.5" y="486.2" width="3.6" height="3.6" fill="#e8a83a"/><rect x="206.4" y="494.8" width="3.6" height="3.6" fill="#e8a83a"/><rect x="208.3" y="483.3" width="3.6" height="3.6" fill="#e8a83a"/><rect x="210.3" y="493.0" width="3.6" height="3.6" fill="#e8a83a"/><rect x="212.2" y="493.0" width="3.6" height="3.6" fill="#e8a83a"/><rect x="214.2" y="489.6" width="3.6" height="3.6" fill="#e8a83a"/><rect x="216.1" y="486.1" width="3.6" height="3.6" fill="#e8a83a"/><rect x="218.0" y="475.9" width="3.6" height="3.6" fill="#e8a83a"/><rect x="220.0" y="484.3" width="3.6" height="3.6" fill="#e8a83a"/><rect x="221.9" y="488.9" width="3.6" height="3.6" fill="#e8a83a"/><rect x="223.9" y="483.5" width="3.6" height="3.6" fill="#e8a83a"/><rect x="225.8" y="492.1" width="3.6" height="3.6" fill="#e8a83a"/><rect x="227.7" y="488.1" width="3.6" height="3.6" fill="#e8a83a"/><rect x="229.7" y="482.3" width="3.6" height="3.6" fill="#e8a83a"/><rect x="231.6" y="489.6" width="3.6" height="3.6" fill="#e8a83a"/><rect x="233.6" y="486.7" width="3.6" height="3.6" fill="#e8a83a"/><rect x="235.5" y="492.7" width="3.6" height="3.6" fill="#e8a83a"/><rect x="237.4" y="484.3" width="3.6" height="3.6" fill="#e8a83a"/><rect x="239.4" y="497.8" width="3.6" height="3.6" fill="#e8a83a"/><rect x="241.3" y="489.5" width="3.6" height="3.6" fill="#e8a83a"/><rect x="243.3" y="491.0" width="3.6" height="3.6" fill="#e8a83a"/><rect x="245.2" y="493.7" width="3.6" height="3.6" fill="#e8a83a"/><rect x="247.1" y="488.0" width="3.6" height="3.6" fill="#e8a83a"/><rect x="249.1" y="493.9" width="3.6" height="3.6" fill="#e8a83a"/><rect x="251.0" y="485.1" width="3.6" height="3.6" fill="#e8a83a"/><rect x="253.0" y="495.1" width="3.6" height="3.6" fill="#e8a83a"/><rect x="254.9" y="493.9" width="3.6" height="3.6" fill="#e8a83a"/><rect x="256.8" y="497.8" width="3.6" height="3.6" fill="#e8a83a"/><rect x="258.8" y="495.7" width="3.6" height="3.6" fill="#e8a83a"/><rect x="260.7" y="500.2" width="3.6" height="3.6" fill="#e8a83a"/><rect x="262.7" y="497.6" width="3.6" height="3.6" fill="#e8a83a"/><rect x="264.6" y="502.7" width="3.6" height="3.6" fill="#e8a83a"/><rect x="266.5" y="505.2" width="3.6" height="3.6" fill="#e8a83a"/><rect x="268.5" y="506.9" width="3.6" height="3.6" fill="#e8a83a"/><rect x="270.4" y="514.3" width="3.6" height="3.6" fill="#e8a83a"/><rect x="272.4" y="510.6" width="3.6" height="3.6" fill="#e8a83a"/><rect x="274.3" y="509.7" width="3.6" height="3.6" fill="#e8a83a"/><rect x="276.2" y="520.6" width="3.6" height="3.6" fill="#e8a83a"/><rect x="278.2" y="505.5" width="3.6" height="3.6" fill="#e8a83a"/><rect x="280.1" y="506.2" width="3.6" height="3.6" fill="#e8a83a"/><rect x="282.1" y="505.6" width="3.6" height="3.6" fill="#e8a83a"/><rect x="284.0" y="508.5" width="3.6" height="3.6" fill="#e8a83a"/><rect x="285.9" y="497.7" width="3.6" height="3.6" fill="#e8a83a"/><rect x="287.9" y="503.9" width="3.6" height="3.6" fill="#e8a83a"/><rect x="289.8" y="501.0" width="3.6" height="3.6" fill="#e8a83a"/><rect x="291.8" y="505.3" width="3.6" height="3.6" fill="#e8a83a"/><rect x="293.7" y="501.3" width="3.6" height="3.6" fill="#e8a83a"/><rect x="295.6" y="510.2" width="3.6" height="3.6" fill="#e8a83a"/><rect x="297.6" y="505.5" width="3.6" height="3.6" fill="#e8a83a"/><rect x="299.5" y="498.6" width="3.6" height="3.6" fill="#e8a83a"/><rect x="301.5" y="498.6" width="3.6" height="3.6" fill="#e8a83a"/><rect x="303.4" y="499.3" width="3.6" height="3.6" fill="#e8a83a"/><rect x="305.3" y="502.1" width="3.6" height="3.6" fill="#e8a83a"/><rect x="307.3" y="502.4" width="3.6" height="3.6" fill="#e8a83a"/><rect x="309.2" y="501.3" width="3.6" height="3.6" fill="#e8a83a"/><rect x="311.2" y="507.2" width="3.6" height="3.6" fill="#e8a83a"/><rect x="313.1" y="512.5" width="3.6" height="3.6" fill="#e8a83a"/><rect x="315.0" y="502.8" width="3.6" height="3.6" fill="#e8a83a"/><rect x="317.0" y="503.5" width="3.6" height="3.6" fill="#e8a83a"/><rect x="318.9" y="499.4" width="3.6" height="3.6" fill="#e8a83a"/><rect x="320.9" y="501.5" width="3.6" height="3.6" fill="#e8a83a"/><rect x="322.8" y="501.3" width="3.6" height="3.6" fill="#e8a83a"/><rect x="324.7" y="495.8" width="3.6" height="3.6" fill="#e8a83a"/><rect x="326.7" y="499.2" width="3.6" height="3.6" fill="#e8a83a"/><rect x="328.6" y="490.5" width="3.6" height="3.6" fill="#e8a83a"/><rect x="330.6" y="496.1" width="3.6" height="3.6" fill="#e8a83a"/><rect x="332.5" y="490.8" width="3.6" height="3.6" fill="#e8a83a"/><rect x="334.4" y="492.2" width="3.6" height="3.6" fill="#e8a83a"/><rect x="336.4" y="490.1" width="3.6" height="3.6" fill="#e8a83a"/><rect x="338.3" y="477.4" width="3.6" height="3.6" fill="#e8a83a"/><rect x="340.3" y="479.8" width="3.6" height="3.6" fill="#e8a83a"/><rect x="342.2" y="479.5" width="3.6" height="3.6" fill="#e8a83a"/><rect x="344.1" y="480.8" width="3.6" height="3.6" fill="#e8a83a"/><rect x="346.1" y="489.9" width="3.6" height="3.6" fill="#e8a83a"/><rect x="348.0" y="487.0" width="3.6" height="3.6" fill="#e8a83a"/><rect x="350.0" y="481.1" width="3.6" height="3.6" fill="#e8a83a"/><rect x="351.9" y="498.5" width="3.6" height="3.6" fill="#e8a83a"/><rect x="353.8" y="494.4" width="3.6" height="3.6" fill="#e8a83a"/><rect x="355.8" y="488.7" width="3.6" height="3.6" fill="#e8a83a"/><rect x="357.7" y="492.7" width="3.6" height="3.6" fill="#e8a83a"/><path d="M53.0 578.8L55.3 583.0L50.7 583.0Z" fill="#ee1515"/><path d="M54.9 579.8L57.2 583.9L52.6 583.9Z" fill="#ee1515"/><path d="M56.9 589.4L59.2 593.5L54.6 593.5Z" fill="#ee1515"/><path d="M58.8 592.8L61.1 596.9L56.5 596.9Z" fill="#ee1515"/><path d="M60.8 596.6L63.1 600.8L58.5 600.8Z" fill="#ee1515"/><path d="M62.7 601.7L65.0 605.8L60.4 605.8Z" fill="#ee1515"/><path d="M64.6 600.9L66.9 605.0L62.3 605.0Z" fill="#ee1515"/><path d="M66.6 601.3L68.9 605.4L64.3 605.4Z" fill="#ee1515"/><path d="M68.5 599.4L70.8 603.5L66.2 603.5Z" fill="#ee1515"/><path d="M70.5 601.2L72.8 605.3L68.2 605.3Z" fill="#ee1515"/><path d="M72.4 600.5L74.7 604.7L70.1 604.7Z" fill="#ee1515"/><path d="M74.3 601.5L76.6 605.7L72.0 605.7Z" fill="#ee1515"/><path d="M76.3 600.7L78.6 604.9L74.0 604.9Z" fill="#ee1515"/><path d="M78.2 598.1L80.5 602.2L75.9 602.2Z" fill="#ee1515"/><path d="M80.2 601.2L82.5 605.4L77.9 605.4Z" fill="#ee1515"/><path d="M82.1 600.8L84.4 604.9L79.8 604.9Z" fill="#ee1515"/><path d="M84.0 600.4L86.3 604.6L81.7 604.6Z" fill="#ee1515"/><path d="M86.0 600.5L88.3 604.7L83.7 604.7Z" fill="#ee1515"/><path d="M87.9 603.1L90.2 607.3L85.6 607.3Z" fill="#ee1515"/><path d="M89.9 601.1L92.2 605.3L87.6 605.3Z" fill="#ee1515"/><path d="M91.8 602.9L94.1 607.0L89.5 607.0Z" fill="#ee1515"/><path d="M93.7 601.3L96.0 605.4L91.4 605.4Z" fill="#ee1515"/><path d="M95.7 600.1L98.0 604.2L93.4 604.2Z" fill="#ee1515"/><path d="M97.6 600.1L99.9 604.2L95.3 604.2Z" fill="#ee1515"/><path d="M99.6 600.7L101.9 604.9L97.3 604.9Z" fill="#ee1515"/><path d="M101.5 596.3L103.8 600.4L99.2 600.4Z" fill="#ee1515"/><path d="M103.4 601.5L105.7 605.7L101.1 605.7Z" fill="#ee1515"/><path d="M105.4 601.6L107.7 605.8L103.1 605.8Z" fill="#ee1515"/><path d="M107.3 598.2L109.6 602.4L105.0 602.4Z" fill="#ee1515"/><path d="M109.3 599.6L111.6 603.7L107.0 603.7Z" fill="#ee1515"/><path d="M111.2 601.9L113.5 606.0L108.9 606.0Z" fill="#ee1515"/><path d="M113.1 599.0L115.4 603.2L110.8 603.2Z" fill="#ee1515"/><path d="M115.1 602.0L117.4 606.1L112.8 606.1Z" fill="#ee1515"/><path d="M117.0 602.2L119.3 606.3L114.7 606.3Z" fill="#ee1515"/><path d="M119.0 601.4L121.3 605.5L116.7 605.5Z" fill="#ee1515"/><path d="M120.9 600.5L123.2 604.7L118.6 604.7Z" fill="#ee1515"/><path d="M122.8 599.1L125.1 603.2L120.5 603.2Z" fill="#ee1515"/><path d="M124.8 600.6L127.1 604.7L122.5 604.7Z" fill="#ee1515"/><path d="M126.7 602.9L129.0 607.0L124.4 607.0Z" fill="#ee1515"/><path d="M128.7 601.0L131.0 605.2L126.4 605.2Z" fill="#ee1515"/><path d="M130.6 601.3L132.9 605.5L128.3 605.5Z" fill="#ee1515"/><path d="M132.5 599.3L134.8 603.4L130.2 603.4Z" fill="#ee1515"/><path d="M134.5 601.7L136.8 605.9L132.2 605.9Z" fill="#ee1515"/><path d="M136.4 600.1L138.7 604.3L134.1 604.3Z" fill="#ee1515"/><path d="M138.4 601.9L140.7 606.1L136.1 606.1Z" fill="#ee1515"/><path d="M140.3 600.7L142.6 604.9L138.0 604.9Z" fill="#ee1515"/><path d="M142.2 600.3L144.5 604.5L139.9 604.5Z" fill="#ee1515"/><path d="M144.2 600.5L146.5 604.6L141.9 604.6Z" fill="#ee1515"/><path d="M146.1 601.4L148.4 605.6L143.8 605.6Z" fill="#ee1515"/><path d="M148.1 603.9L150.4 608.1L145.8 608.1Z" fill="#ee1515"/><path d="M150.0 601.0L152.3 605.2L147.7 605.2Z" fill="#ee1515"/><path d="M151.9 598.5L154.2 602.6L149.6 602.6Z" fill="#ee1515"/><path d="M153.9 587.5L156.2 591.6L151.6 591.6Z" fill="#ee1515"/><path d="M155.8 603.1L158.1 607.2L153.5 607.2Z" fill="#ee1515"/><path d="M157.8 601.8L160.1 606.0L155.5 606.0Z" fill="#ee1515"/><path d="M159.7 603.2L162.0 607.3L157.4 607.3Z" fill="#ee1515"/><path d="M161.6 599.3L163.9 603.4L159.3 603.4Z" fill="#ee1515"/><path d="M163.6 603.3L165.9 607.5L161.3 607.5Z" fill="#ee1515"/><path d="M165.5 594.5L167.8 598.7L163.2 598.7Z" fill="#ee1515"/><path d="M167.5 602.1L169.8 606.2L165.2 606.2Z" fill="#ee1515"/><path d="M169.4 603.2L171.7 607.3L167.1 607.3Z" fill="#ee1515"/><path d="M171.3 600.5L173.6 604.6L169.0 604.6Z" fill="#ee1515"/><path d="M173.3 601.3L175.6 605.4L171.0 605.4Z" fill="#ee1515"/><path d="M175.2 587.3L177.5 591.4L172.9 591.4Z" fill="#ee1515"/><path d="M177.2 604.9L179.5 609.1L174.9 609.1Z" fill="#ee1515"/><path d="M179.1 588.1L181.4 592.2L176.8 592.2Z" fill="#ee1515"/><path d="M181.0 599.4L183.3 603.5L178.7 603.5Z" fill="#ee1515"/><path d="M183.0 602.3L185.3 606.5L180.7 606.5Z" fill="#ee1515"/><path d="M184.9 601.4L187.2 605.5L182.6 605.5Z" fill="#ee1515"/><path d="M186.9 601.1L189.2 605.2L184.6 605.2Z" fill="#ee1515"/><path d="M188.8 599.4L191.1 603.5L186.5 603.5Z" fill="#ee1515"/><path d="M190.7 601.0L193.0 605.1L188.4 605.1Z" fill="#ee1515"/><path d="M192.7 602.1L195.0 606.2L190.4 606.2Z" fill="#ee1515"/><path d="M194.6 600.7L196.9 604.9L192.3 604.9Z" fill="#ee1515"/><path d="M196.6 601.3L198.9 605.4L194.3 605.4Z" fill="#ee1515"/><path d="M198.5 603.8L200.8 607.9L196.2 607.9Z" fill="#ee1515"/><path d="M200.4 601.9L202.7 606.1L198.1 606.1Z" fill="#ee1515"/><path d="M202.4 602.3L204.7 606.4L200.1 606.4Z" fill="#ee1515"/><path d="M204.3 601.4L206.6 605.5L202.0 605.5Z" fill="#ee1515"/><path d="M206.3 602.8L208.6 606.9L204.0 606.9Z" fill="#ee1515"/><path d="M208.2 601.6L210.5 605.8L205.9 605.8Z" fill="#ee1515"/><path d="M210.1 600.1L212.4 604.2L207.8 604.2Z" fill="#ee1515"/><path d="M212.1 602.6L214.4 606.7L209.8 606.7Z" fill="#ee1515"/><path d="M214.0 603.2L216.3 607.4L211.7 607.4Z" fill="#ee1515"/><path d="M216.0 602.6L218.3 606.8L213.7 606.8Z" fill="#ee1515"/><path d="M217.9 603.9L220.2 608.1L215.6 608.1Z" fill="#ee1515"/><path d="M219.8 601.2L222.1 605.3L217.5 605.3Z" fill="#ee1515"/><path d="M221.8 598.5L224.1 602.6L219.5 602.6Z" fill="#ee1515"/><path d="M223.7 600.2L226.0 604.3L221.4 604.3Z" fill="#ee1515"/><path d="M225.7 599.7L228.0 603.9L223.4 603.9Z" fill="#ee1515"/><path d="M227.6 602.5L229.9 606.6L225.3 606.6Z" fill="#ee1515"/><path d="M229.5 602.9L231.8 607.1L227.2 607.1Z" fill="#ee1515"/><path d="M231.5 602.3L233.8 606.4L229.2 606.4Z" fill="#ee1515"/><path d="M233.4 592.7L235.7 596.9L231.1 596.9Z" fill="#ee1515"/><path d="M235.4 601.6L237.7 605.7L233.1 605.7Z" fill="#ee1515"/><path d="M237.3 602.6L239.6 606.8L235.0 606.8Z" fill="#ee1515"/><path d="M239.2 602.7L241.5 606.9L236.9 606.9Z" fill="#ee1515"/><path d="M241.2 602.5L243.5 606.6L238.9 606.6Z" fill="#ee1515"/><path d="M243.1 604.2L245.4 608.3L240.8 608.3Z" fill="#ee1515"/><path d="M245.1 601.2L247.4 605.3L242.8 605.3Z" fill="#ee1515"/><path d="M247.0 601.7L249.3 605.8L244.7 605.8Z" fill="#ee1515"/><path d="M248.9 603.1L251.2 607.2L246.6 607.2Z" fill="#ee1515"/><path d="M250.9 604.1L253.2 608.2L248.6 608.2Z" fill="#ee1515"/><path d="M252.8 603.0L255.1 607.1L250.5 607.1Z" fill="#ee1515"/><path d="M254.8 601.9L257.1 606.0L252.5 606.0Z" fill="#ee1515"/><path d="M256.7 589.6L259.0 593.8L254.4 593.8Z" fill="#ee1515"/><path d="M258.6 578.5L260.9 582.7L256.3 582.7Z" fill="#ee1515"/><path d="M260.6 595.8L262.9 599.9L258.3 599.9Z" fill="#ee1515"/><path d="M262.5 592.0L264.8 596.2L260.2 596.2Z" fill="#ee1515"/><path d="M264.5 591.5L266.8 595.7L262.2 595.7Z" fill="#ee1515"/><path d="M266.4 586.8L268.7 591.0L264.1 591.0Z" fill="#ee1515"/><path d="M268.3 585.6L270.6 589.7L266.0 589.7Z" fill="#ee1515"/><path d="M270.3 586.8L272.6 590.9L268.0 590.9Z" fill="#ee1515"/><path d="M272.2 578.8L274.5 583.0L269.9 583.0Z" fill="#ee1515"/><path d="M274.2 578.4L276.5 582.5L271.9 582.5Z" fill="#ee1515"/><path d="M276.1 578.7L278.4 582.8L273.8 582.8Z" fill="#ee1515"/><path d="M278.0 565.1L280.3 569.2L275.7 569.2Z" fill="#ee1515"/><path d="M280.0 571.6L282.3 575.7L277.7 575.7Z" fill="#ee1515"/><path d="M281.9 569.5L284.2 573.6L279.6 573.6Z" fill="#ee1515"/><path d="M283.9 578.4L286.2 582.5L281.6 582.5Z" fill="#ee1515"/><path d="M285.8 579.0L288.1 583.1L283.5 583.1Z" fill="#ee1515"/><path d="M287.7 580.5L290.0 584.6L285.4 584.6Z" fill="#ee1515"/><path d="M289.7 578.9L292.0 583.0L287.4 583.0Z" fill="#ee1515"/><path d="M291.6 581.4L293.9 585.6L289.3 585.6Z" fill="#ee1515"/><path d="M293.6 582.6L295.9 586.8L291.3 586.8Z" fill="#ee1515"/><path d="M295.5 581.5L297.8 585.6L293.2 585.6Z" fill="#ee1515"/><path d="M297.4 580.8L299.7 584.9L295.1 584.9Z" fill="#ee1515"/><path d="M299.4 584.3L301.7 588.5L297.1 588.5Z" fill="#ee1515"/><path d="M301.3 583.1L303.6 587.3L299.0 587.3Z" fill="#ee1515"/><path d="M303.3 585.6L305.6 589.7L301.0 589.7Z" fill="#ee1515"/><path d="M305.2 580.4L307.5 584.5L302.9 584.5Z" fill="#ee1515"/><path d="M307.1 581.1L309.4 585.3L304.8 585.3Z" fill="#ee1515"/><path d="M309.1 576.2L311.4 580.3L306.8 580.3Z" fill="#ee1515"/><path d="M311.0 583.1L313.3 587.2L308.7 587.2Z" fill="#ee1515"/><path d="M313.0 579.8L315.3 584.0L310.7 584.0Z" fill="#ee1515"/><path d="M314.9 579.8L317.2 584.0L312.6 584.0Z" fill="#ee1515"/><path d="M316.8 575.9L319.1 580.1L314.5 580.1Z" fill="#ee1515"/><path d="M318.8 581.3L321.1 585.4L316.5 585.4Z" fill="#ee1515"/><path d="M320.7 579.4L323.0 583.6L318.4 583.6Z" fill="#ee1515"/><path d="M322.7 579.5L325.0 583.6L320.4 583.6Z" fill="#ee1515"/><path d="M324.6 578.3L326.9 582.4L322.3 582.4Z" fill="#ee1515"/><path d="M326.5 590.9L328.8 595.0L324.2 595.0Z" fill="#ee1515"/><path d="M328.5 595.4L330.8 599.5L326.2 599.5Z" fill="#ee1515"/><path d="M330.4 592.5L332.7 596.6L328.1 596.6Z" fill="#ee1515"/><path d="M332.4 601.9L334.7 606.1L330.1 606.1Z" fill="#ee1515"/><path d="M334.3 600.9L336.6 605.0L332.0 605.0Z" fill="#ee1515"/><path d="M336.2 604.9L338.5 609.1L333.9 609.1Z" fill="#ee1515"/><path d="M338.2 602.7L340.5 606.9L335.9 606.9Z" fill="#ee1515"/><path d="M340.1 602.6L342.4 606.8L337.8 606.8Z" fill="#ee1515"/><path d="M342.1 599.6L344.4 603.8L339.8 603.8Z" fill="#ee1515"/><path d="M344.0 580.1L346.3 584.3L341.7 584.3Z" fill="#ee1515"/><path d="M345.9 602.9L348.2 607.0L343.6 607.0Z" fill="#ee1515"/><path d="M347.9 602.7L350.2 606.8L345.6 606.8Z" fill="#ee1515"/><path d="M349.8 603.2L352.1 607.3L347.5 607.3Z" fill="#ee1515"/><path d="M351.8 601.4L354.1 605.6L349.5 605.6Z" fill="#ee1515"/><path d="M353.7 603.8L356.0 607.9L351.4 607.9Z" fill="#ee1515"/><path d="M355.6 602.8L357.9 606.9L353.3 606.9Z" fill="#ee1515"/><path d="M357.6 603.1L359.9 607.3L355.3 607.3Z" fill="#ee1515"/><path d="M359.5 603.2L361.8 607.4L357.2 607.4Z" fill="#ee1515"/><circle cx="53.0" cy="563.1" r="2.1" fill="#1515e6"/><circle cx="54.9" cy="568.0" r="2.1" fill="#1515e6"/><circle cx="56.9" cy="576.9" r="2.1" fill="#1515e6"/><circle cx="58.8" cy="578.4" r="2.1" fill="#1515e6"/><circle cx="60.8" cy="575.7" r="2.1" fill="#1515e6"/><circle cx="62.7" cy="580.4" r="2.1" fill="#1515e6"/><circle cx="64.6" cy="584.0" r="2.1" fill="#1515e6"/><circle cx="66.6" cy="585.6" r="2.1" fill="#1515e6"/><circle cx="68.5" cy="590.1" r="2.1" fill="#1515e6"/><circle cx="70.5" cy="591.7" r="2.1" fill="#1515e6"/><circle cx="72.4" cy="598.3" r="2.1" fill="#1515e6"/><circle cx="74.3" cy="599.1" r="2.1" fill="#1515e6"/><circle cx="76.3" cy="593.8" r="2.1" fill="#1515e6"/><circle cx="78.2" cy="596.3" r="2.1" fill="#1515e6"/><circle cx="80.2" cy="586.8" r="2.1" fill="#1515e6"/><circle cx="82.1" cy="591.3" r="2.1" fill="#1515e6"/><circle cx="84.0" cy="592.9" r="2.1" fill="#1515e6"/><circle cx="86.0" cy="601.0" r="2.1" fill="#1515e6"/><circle cx="87.9" cy="591.8" r="2.1" fill="#1515e6"/><circle cx="89.9" cy="601.0" r="2.1" fill="#1515e6"/><circle cx="91.8" cy="598.9" r="2.1" fill="#1515e6"/><circle cx="93.7" cy="597.6" r="2.1" fill="#1515e6"/><circle cx="95.7" cy="597.2" r="2.1" fill="#1515e6"/><circle cx="97.6" cy="599.0" r="2.1" fill="#1515e6"/><circle cx="99.6" cy="599.4" r="2.1" fill="#1515e6"/><circle cx="101.5" cy="600.4" r="2.1" fill="#1515e6"/><circle cx="103.4" cy="600.4" r="2.1" fill="#1515e6"/><circle cx="105.4" cy="601.0" r="2.1" fill="#1515e6"/><circle cx="107.3" cy="598.1" r="2.1" fill="#1515e6"/><circle cx="109.3" cy="602.2" r="2.1" fill="#1515e6"/><circle cx="111.2" cy="597.2" r="2.1" fill="#1515e6"/><circle cx="113.1" cy="596.1" r="2.1" fill="#1515e6"/><circle cx="115.1" cy="596.8" r="2.1" fill="#1515e6"/><circle cx="117.0" cy="584.7" r="2.1" fill="#1515e6"/><circle cx="119.0" cy="599.2" r="2.1" fill="#1515e6"/><circle cx="120.9" cy="596.8" r="2.1" fill="#1515e6"/><circle cx="122.8" cy="595.9" r="2.1" fill="#1515e6"/><circle cx="124.8" cy="598.3" r="2.1" fill="#1515e6"/><circle cx="126.7" cy="597.3" r="2.1" fill="#1515e6"/><circle cx="128.7" cy="599.6" r="2.1" fill="#1515e6"/><circle cx="130.6" cy="600.6" r="2.1" fill="#1515e6"/><circle cx="132.5" cy="596.0" r="2.1" fill="#1515e6"/><circle cx="134.5" cy="590.4" r="2.1" fill="#1515e6"/><circle cx="136.4" cy="601.7" r="2.1" fill="#1515e6"/><circle cx="138.4" cy="603.2" r="2.1" fill="#1515e6"/><circle cx="140.3" cy="599.7" r="2.1" fill="#1515e6"/><circle cx="142.2" cy="600.1" r="2.1" fill="#1515e6"/><circle cx="144.2" cy="597.4" r="2.1" fill="#1515e6"/><circle cx="146.1" cy="602.9" r="2.1" fill="#1515e6"/><circle cx="148.1" cy="601.4" r="2.1" fill="#1515e6"/><circle cx="150.0" cy="600.2" r="2.1" fill="#1515e6"/><circle cx="151.9" cy="590.7" r="2.1" fill="#1515e6"/><circle cx="153.9" cy="587.7" r="2.1" fill="#1515e6"/><circle cx="155.8" cy="577.3" r="2.1" fill="#1515e6"/><circle cx="157.8" cy="557.9" r="2.1" fill="#1515e6"/><circle cx="159.7" cy="525.1" r="2.1" fill="#1515e6"/><circle cx="161.6" cy="497.0" r="2.1" fill="#1515e6"/><circle cx="163.6" cy="481.7" r="2.1" fill="#1515e6"/><circle cx="165.5" cy="481.7" r="2.1" fill="#1515e6"/><circle cx="167.5" cy="474.7" r="2.1" fill="#1515e6"/><circle cx="169.4" cy="485.6" r="2.1" fill="#1515e6"/><circle cx="171.3" cy="493.2" r="2.1" fill="#1515e6"/><circle cx="173.3" cy="474.3" r="2.1" fill="#1515e6"/><circle cx="175.2" cy="486.0" r="2.1" fill="#1515e6"/><circle cx="177.2" cy="485.4" r="2.1" fill="#1515e6"/><circle cx="179.1" cy="489.1" r="2.1" fill="#1515e6"/><circle cx="181.0" cy="484.7" r="2.1" fill="#1515e6"/><circle cx="183.0" cy="495.5" r="2.1" fill="#1515e6"/><circle cx="184.9" cy="492.7" r="2.1" fill="#1515e6"/><circle cx="186.9" cy="479.6" r="2.1" fill="#1515e6"/><circle cx="188.8" cy="478.0" r="2.1" fill="#1515e6"/><circle cx="190.7" cy="467.3" r="2.1" fill="#1515e6"/><circle cx="192.7" cy="486.1" r="2.1" fill="#1515e6"/><circle cx="194.6" cy="487.8" r="2.1" fill="#1515e6"/><circle cx="196.6" cy="484.1" r="2.1" fill="#1515e6"/><circle cx="198.5" cy="492.2" r="2.1" fill="#1515e6"/><circle cx="200.4" cy="486.3" r="2.1" fill="#1515e6"/><circle cx="202.4" cy="485.7" r="2.1" fill="#1515e6"/><circle cx="204.3" cy="483.9" r="2.1" fill="#1515e6"/><circle cx="206.3" cy="480.1" r="2.1" fill="#1515e6"/><circle cx="208.2" cy="479.7" r="2.1" fill="#1515e6"/><circle cx="210.1" cy="488.9" r="2.1" fill="#1515e6"/><circle cx="212.1" cy="489.4" r="2.1" fill="#1515e6"/><circle cx="214.0" cy="489.1" r="2.1" fill="#1515e6"/><circle cx="216.0" cy="482.3" r="2.1" fill="#1515e6"/><circle cx="217.9" cy="486.2" r="2.1" fill="#1515e6"/><circle cx="219.8" cy="487.1" r="2.1" fill="#1515e6"/><circle cx="221.8" cy="488.2" r="2.1" fill="#1515e6"/><circle cx="223.7" cy="478.3" r="2.1" fill="#1515e6"/><circle cx="225.7" cy="478.8" r="2.1" fill="#1515e6"/><circle cx="227.6" cy="474.4" r="2.1" fill="#1515e6"/><circle cx="229.5" cy="479.2" r="2.1" fill="#1515e6"/><circle cx="231.5" cy="487.9" r="2.1" fill="#1515e6"/><circle cx="233.4" cy="485.9" r="2.1" fill="#1515e6"/><circle cx="235.4" cy="487.9" r="2.1" fill="#1515e6"/><circle cx="237.3" cy="495.6" r="2.1" fill="#1515e6"/><circle cx="239.2" cy="487.4" r="2.1" fill="#1515e6"/><circle cx="241.2" cy="480.1" r="2.1" fill="#1515e6"/><circle cx="243.1" cy="483.1" r="2.1" fill="#1515e6"/><circle cx="245.1" cy="482.4" r="2.1" fill="#1515e6"/><circle cx="247.0" cy="490.2" r="2.1" fill="#1515e6"/><circle cx="248.9" cy="487.9" r="2.1" fill="#1515e6"/><circle cx="250.9" cy="497.7" r="2.1" fill="#1515e6"/><circle cx="252.8" cy="492.7" r="2.1" fill="#1515e6"/><circle cx="254.8" cy="497.6" r="2.1" fill="#1515e6"/><circle cx="256.7" cy="488.4" r="2.1" fill="#1515e6"/><circle cx="258.6" cy="485.1" r="2.1" fill="#1515e6"/><circle cx="260.6" cy="486.2" r="2.1" fill="#1515e6"/><circle cx="262.5" cy="485.2" r="2.1" fill="#1515e6"/><circle cx="264.5" cy="489.7" r="2.1" fill="#1515e6"/><circle cx="266.4" cy="486.0" r="2.1" fill="#1515e6"/><circle cx="268.3" cy="484.2" r="2.1" fill="#1515e6"/><circle cx="270.3" cy="484.9" r="2.1" fill="#1515e6"/><circle cx="272.2" cy="480.7" r="2.1" fill="#1515e6"/><circle cx="274.2" cy="489.8" r="2.1" fill="#1515e6"/><circle cx="276.1" cy="475.4" r="2.1" fill="#1515e6"/><circle cx="278.0" cy="487.0" r="2.1" fill="#1515e6"/><circle cx="280.0" cy="494.3" r="2.1" fill="#1515e6"/><circle cx="281.9" cy="491.3" r="2.1" fill="#1515e6"/><circle cx="283.9" cy="491.0" r="2.1" fill="#1515e6"/><circle cx="285.8" cy="486.7" r="2.1" fill="#1515e6"/><circle cx="287.7" cy="487.7" r="2.1" fill="#1515e6"/><circle cx="289.7" cy="480.9" r="2.1" fill="#1515e6"/><circle cx="291.6" cy="486.6" r="2.1" fill="#1515e6"/><circle cx="293.6" cy="482.1" r="2.1" fill="#1515e6"/><circle cx="295.5" cy="481.0" r="2.1" fill="#1515e6"/><circle cx="297.4" cy="497.0" r="2.1" fill="#1515e6"/><circle cx="299.4" cy="484.6" r="2.1" fill="#1515e6"/><circle cx="301.3" cy="481.2" r="2.1" fill="#1515e6"/><circle cx="303.3" cy="494.9" r="2.1" fill="#1515e6"/><circle cx="305.2" cy="492.8" r="2.1" fill="#1515e6"/><circle cx="307.1" cy="485.5" r="2.1" fill="#1515e6"/><circle cx="309.1" cy="485.6" r="2.1" fill="#1515e6"/><circle cx="311.0" cy="488.3" r="2.1" fill="#1515e6"/><circle cx="313.0" cy="477.0" r="2.1" fill="#1515e6"/><circle cx="314.9" cy="484.4" r="2.1" fill="#1515e6"/><circle cx="316.8" cy="490.6" r="2.1" fill="#1515e6"/><circle cx="318.8" cy="487.1" r="2.1" fill="#1515e6"/><circle cx="320.7" cy="484.0" r="2.1" fill="#1515e6"/><circle cx="322.7" cy="478.4" r="2.1" fill="#1515e6"/><circle cx="324.6" cy="484.9" r="2.1" fill="#1515e6"/><circle cx="326.5" cy="491.0" r="2.1" fill="#1515e6"/><circle cx="328.5" cy="476.3" r="2.1" fill="#1515e6"/><circle cx="330.4" cy="489.0" r="2.1" fill="#1515e6"/><circle cx="332.4" cy="483.4" r="2.1" fill="#1515e6"/><circle cx="334.3" cy="480.0" r="2.1" fill="#1515e6"/><circle cx="336.2" cy="485.9" r="2.1" fill="#1515e6"/><circle cx="338.2" cy="487.4" r="2.1" fill="#1515e6"/><circle cx="340.1" cy="471.1" r="2.1" fill="#1515e6"/><circle cx="342.1" cy="488.1" r="2.1" fill="#1515e6"/><circle cx="344.0" cy="483.7" r="2.1" fill="#1515e6"/><circle cx="345.9" cy="484.3" r="2.1" fill="#1515e6"/><circle cx="347.9" cy="484.1" r="2.1" fill="#1515e6"/><circle cx="349.8" cy="487.9" r="2.1" fill="#1515e6"/><circle cx="351.8" cy="482.4" r="2.1" fill="#1515e6"/><circle cx="353.7" cy="489.1" r="2.1" fill="#1515e6"/><circle cx="355.6" cy="480.1" r="2.1" fill="#1515e6"/><circle cx="357.6" cy="490.4" r="2.1" fill="#1515e6"/><circle cx="359.5" cy="488.8" r="2.1" fill="#1515e6"/><path d="M53.0 494.9L55.3 490.7L50.7 490.7Z" fill="#1ecb8e"/><path d="M54.9 470.6L57.2 466.5L52.6 466.5Z" fill="#1ecb8e"/><path d="M56.9 442.7L59.2 438.6L54.6 438.6Z" fill="#1ecb8e"/><path d="M58.8 450.1L61.1 446.0L56.5 446.0Z" fill="#1ecb8e"/><path d="M60.8 424.5L63.1 420.4L58.5 420.4Z" fill="#1ecb8e"/><path d="M62.7 423.8L65.0 419.6L60.4 419.6Z" fill="#1ecb8e"/><path d="M64.6 399.0L66.9 394.8L62.3 394.8Z" fill="#1ecb8e"/><path d="M66.6 402.8L68.9 398.6L64.3 398.6Z" fill="#1ecb8e"/><path d="M68.5 394.9L70.8 390.7L66.2 390.7Z" fill="#1ecb8e"/><path d="M70.5 388.4L72.8 384.2L68.2 384.2Z" fill="#1ecb8e"/><path d="M72.4 394.7L74.7 390.6L70.1 390.6Z" fill="#1ecb8e"/><path d="M74.3 390.4L76.6 386.3L72.0 386.3Z" fill="#1ecb8e"/><path d="M76.3 393.9L78.6 389.7L74.0 389.7Z" fill="#1ecb8e"/><path d="M78.2 386.8L80.5 382.7L75.9 382.7Z" fill="#1ecb8e"/><path d="M80.2 397.9L82.5 393.8L77.9 393.8Z" fill="#1ecb8e"/><path d="M82.1 406.8L84.4 402.7L79.8 402.7Z" fill="#1ecb8e"/><path d="M84.0 384.0L86.3 379.9L81.7 379.9Z" fill="#1ecb8e"/><path d="M86.0 381.7L88.3 377.6L83.7 377.6Z" fill="#1ecb8e"/><path d="M87.9 385.5L90.2 381.3L85.6 381.3Z" fill="#1ecb8e"/><path d="M89.9 376.4L92.2 372.2L87.6 372.2Z" fill="#1ecb8e"/><path d="M91.8 380.9L94.1 376.8L89.5 376.8Z" fill="#1ecb8e"/><path d="M93.7 402.2L96.0 398.0L91.4 398.0Z" fill="#1ecb8e"/><path d="M95.7 379.0L98.0 374.8L93.4 374.8Z" fill="#1ecb8e"/><path d="M97.6 393.1L99.9 389.0L95.3 389.0Z" fill="#1ecb8e"/><path d="M99.6 392.7L101.9 388.6L97.3 388.6Z" fill="#1ecb8e"/><path d="M101.5 391.8L103.8 387.7L99.2 387.7Z" fill="#1ecb8e"/><path d="M103.4 386.8L105.7 382.6L101.1 382.6Z" fill="#1ecb8e"/><path d="M105.4 377.2L107.7 373.1L103.1 373.1Z" fill="#1ecb8e"/><path d="M107.3 393.9L109.6 389.8L105.0 389.8Z" fill="#1ecb8e"/><path d="M109.3 385.1L111.6 381.0L107.0 381.0Z" fill="#1ecb8e"/><path d="M111.2 390.2L113.5 386.0L108.9 386.0Z" fill="#1ecb8e"/><path d="M113.1 386.3L115.4 382.2L110.8 382.2Z" fill="#1ecb8e"/><path d="M115.1 390.1L117.4 386.0L112.8 386.0Z" fill="#1ecb8e"/><path d="M117.0 383.4L119.3 379.3L114.7 379.3Z" fill="#1ecb8e"/><path d="M119.0 383.9L121.3 379.7L116.7 379.7Z" fill="#1ecb8e"/><path d="M120.9 399.1L123.2 395.0L118.6 395.0Z" fill="#1ecb8e"/><path d="M122.8 385.8L125.1 381.7L120.5 381.7Z" fill="#1ecb8e"/><path d="M124.8 397.9L127.1 393.8L122.5 393.8Z" fill="#1ecb8e"/><path d="M126.7 382.4L129.0 378.3L124.4 378.3Z" fill="#1ecb8e"/><path d="M128.7 381.7L131.0 377.6L126.4 377.6Z" fill="#1ecb8e"/><path d="M130.6 393.8L132.9 389.6L128.3 389.6Z" fill="#1ecb8e"/><path d="M132.5 373.3L134.8 369.2L130.2 369.2Z" fill="#1ecb8e"/><path d="M134.5 386.2L136.8 382.1L132.2 382.1Z" fill="#1ecb8e"/><path d="M136.4 394.2L138.7 390.1L134.1 390.1Z" fill="#1ecb8e"/><path d="M138.4 382.1L140.7 378.0L136.1 378.0Z" fill="#1ecb8e"/><path d="M140.3 391.5L142.6 387.3L138.0 387.3Z" fill="#1ecb8e"/><path d="M142.2 383.4L144.5 379.2L139.9 379.2Z" fill="#1ecb8e"/><path d="M144.2 390.5L146.5 386.4L141.9 386.4Z" fill="#1ecb8e"/><path d="M146.1 391.1L148.4 386.9L143.8 386.9Z" fill="#1ecb8e"/><path d="M148.1 415.5L150.4 411.4L145.8 411.4Z" fill="#1ecb8e"/><path d="M150.0 403.4L152.3 399.3L147.7 399.3Z" fill="#1ecb8e"/><path d="M151.9 397.6L154.2 393.5L149.6 393.5Z" fill="#1ecb8e"/><path d="M153.9 407.3L156.2 403.2L151.6 403.2Z" fill="#1ecb8e"/><path d="M155.8 436.5L158.1 432.4L153.5 432.4Z" fill="#1ecb8e"/><path d="M157.8 496.1L160.1 492.0L155.5 492.0Z" fill="#1ecb8e"/><path d="M159.7 567.2L162.0 563.1L157.4 563.1Z" fill="#1ecb8e"/><path d="M161.6 599.7L163.9 595.6L159.3 595.6Z" fill="#1ecb8e"/><path d="M163.6 606.9L165.9 602.8L161.3 602.8Z" fill="#1ecb8e"/><path d="M165.5 607.5L167.8 603.4L163.2 603.4Z" fill="#1ecb8e"/><path d="M167.5 607.6L169.8 603.5L165.2 603.5Z" fill="#1ecb8e"/><path d="M169.4 608.5L171.7 604.3L167.1 604.3Z" fill="#1ecb8e"/><path d="M171.3 607.9L173.6 603.7L169.0 603.7Z" fill="#1ecb8e"/><path d="M173.3 607.6L175.6 603.5L171.0 603.5Z" fill="#1ecb8e"/><path d="M175.2 608.3L177.5 604.2L172.9 604.2Z" fill="#1ecb8e"/><path d="M177.2 609.1L179.5 604.9L174.9 604.9Z" fill="#1ecb8e"/><path d="M179.1 608.4L181.4 604.2L176.8 604.2Z" fill="#1ecb8e"/><path d="M181.0 608.0L183.3 603.9L178.7 603.9Z" fill="#1ecb8e"/><path d="M183.0 609.1L185.3 604.9L180.7 604.9Z" fill="#1ecb8e"/><path d="M184.9 609.1L187.2 604.9L182.6 604.9Z" fill="#1ecb8e"/><path d="M186.9 608.9L189.2 604.8L184.6 604.8Z" fill="#1ecb8e"/><path d="M188.8 607.2L191.1 603.0L186.5 603.0Z" fill="#1ecb8e"/><path d="M190.7 607.7L193.0 603.6L188.4 603.6Z" fill="#1ecb8e"/><path d="M192.7 608.4L195.0 604.3L190.4 604.3Z" fill="#1ecb8e"/><path d="M194.6 607.6L196.9 603.5L192.3 603.5Z" fill="#1ecb8e"/><path d="M196.6 608.0L198.9 603.8L194.3 603.8Z" fill="#1ecb8e"/><path d="M198.5 609.1L200.8 604.9L196.2 604.9Z" fill="#1ecb8e"/><path d="M200.4 608.4L202.7 604.3L198.1 604.3Z" fill="#1ecb8e"/><path d="M202.4 607.6L204.7 603.5L200.1 603.5Z" fill="#1ecb8e"/><path d="M204.3 608.4L206.6 604.2L202.0 604.2Z" fill="#1ecb8e"/><path d="M206.3 606.6L208.6 602.5L204.0 602.5Z" fill="#1ecb8e"/><path d="M208.2 608.5L210.5 604.3L205.9 604.3Z" fill="#1ecb8e"/><path d="M210.1 608.4L212.4 604.3L207.8 604.3Z" fill="#1ecb8e"/><path d="M212.1 608.3L214.4 604.2L209.8 604.2Z" fill="#1ecb8e"/><path d="M214.0 608.2L216.3 604.0L211.7 604.0Z" fill="#1ecb8e"/><path d="M216.0 608.2L218.3 604.1L213.7 604.1Z" fill="#1ecb8e"/><path d="M217.9 607.4L220.2 603.2L215.6 603.2Z" fill="#1ecb8e"/><path d="M219.8 606.9L222.1 602.7L217.5 602.7Z" fill="#1ecb8e"/><path d="M221.8 608.3L224.1 604.2L219.5 604.2Z" fill="#1ecb8e"/><path d="M223.7 609.1L226.0 604.9L221.4 604.9Z" fill="#1ecb8e"/><path d="M225.7 608.4L228.0 604.3L223.4 604.3Z" fill="#1ecb8e"/><path d="M227.6 608.1L229.9 604.0L225.3 604.0Z" fill="#1ecb8e"/><path d="M229.5 607.1L231.8 603.0L227.2 603.0Z" fill="#1ecb8e"/><path d="M231.5 607.7L233.8 603.6L229.2 603.6Z" fill="#1ecb8e"/><path d="M233.4 608.1L235.7 604.0L231.1 604.0Z" fill="#1ecb8e"/><path d="M235.4 606.4L237.7 602.3L233.1 602.3Z" fill="#1ecb8e"/><path d="M237.3 608.9L239.6 604.7L235.0 604.7Z" fill="#1ecb8e"/><path d="M239.2 608.9L241.5 604.8L236.9 604.8Z" fill="#1ecb8e"/><path d="M241.2 607.2L243.5 603.1L238.9 603.1Z" fill="#1ecb8e"/><path d="M243.1 607.7L245.4 603.6L240.8 603.6Z" fill="#1ecb8e"/><path d="M245.1 608.1L247.4 604.0L242.8 604.0Z" fill="#1ecb8e"/><path d="M247.0 608.9L249.3 604.8L244.7 604.8Z" fill="#1ecb8e"/><path d="M248.9 607.9L251.2 603.8L246.6 603.8Z" fill="#1ecb8e"/><path d="M250.9 608.0L253.2 603.8L248.6 603.8Z" fill="#1ecb8e"/><path d="M252.8 608.6L255.1 604.4L250.5 604.4Z" fill="#1ecb8e"/><path d="M254.8 608.1L257.1 604.0L252.5 604.0Z" fill="#1ecb8e"/><path d="M256.7 609.1L259.0 604.9L254.4 604.9Z" fill="#1ecb8e"/><path d="M258.6 607.5L260.9 603.3L256.3 603.3Z" fill="#1ecb8e"/><path d="M260.6 608.9L262.9 604.8L258.3 604.8Z" fill="#1ecb8e"/><path d="M262.5 607.5L264.8 603.4L260.2 603.4Z" fill="#1ecb8e"/><path d="M264.5 608.8L266.8 604.6L262.2 604.6Z" fill="#1ecb8e"/><path d="M266.4 608.8L268.7 604.6L264.1 604.6Z" fill="#1ecb8e"/><path d="M268.3 608.3L270.6 604.2L266.0 604.2Z" fill="#1ecb8e"/><path d="M270.3 608.7L272.6 604.6L268.0 604.6Z" fill="#1ecb8e"/><path d="M272.2 607.7L274.5 603.6L269.9 603.6Z" fill="#1ecb8e"/><path d="M274.2 608.7L276.5 604.6L271.9 604.6Z" fill="#1ecb8e"/><path d="M276.1 608.1L278.4 603.9L273.8 603.9Z" fill="#1ecb8e"/><path d="M278.0 607.7L280.3 603.6L275.7 603.6Z" fill="#1ecb8e"/><path d="M280.0 607.6L282.3 603.5L277.7 603.5Z" fill="#1ecb8e"/><path d="M281.9 607.6L284.2 603.5L279.6 603.5Z" fill="#1ecb8e"/><path d="M283.9 608.3L286.2 604.2L281.6 604.2Z" fill="#1ecb8e"/><path d="M285.8 606.9L288.1 602.8L283.5 602.8Z" fill="#1ecb8e"/><path d="M287.7 608.2L290.0 604.1L285.4 604.1Z" fill="#1ecb8e"/><path d="M289.7 608.5L292.0 604.4L287.4 604.4Z" fill="#1ecb8e"/><path d="M291.6 608.0L293.9 603.8L289.3 603.8Z" fill="#1ecb8e"/><path d="M293.6 607.0L295.9 602.8L291.3 602.8Z" fill="#1ecb8e"/><path d="M295.5 609.1L297.8 604.9L293.2 604.9Z" fill="#1ecb8e"/><path d="M297.4 608.5L299.7 604.3L295.1 604.3Z" fill="#1ecb8e"/><path d="M299.4 607.2L301.7 603.1L297.1 603.1Z" fill="#1ecb8e"/><path d="M301.3 608.1L303.6 603.9L299.0 603.9Z" fill="#1ecb8e"/><path d="M303.3 609.0L305.6 604.9L301.0 604.9Z" fill="#1ecb8e"/><path d="M305.2 607.8L307.5 603.6L302.9 603.6Z" fill="#1ecb8e"/><path d="M307.1 607.8L309.4 603.6L304.8 603.6Z" fill="#1ecb8e"/><path d="M309.1 608.3L311.4 604.1L306.8 604.1Z" fill="#1ecb8e"/><path d="M311.0 609.0L313.3 604.9L308.7 604.9Z" fill="#1ecb8e"/><path d="M313.0 608.4L315.3 604.2L310.7 604.2Z" fill="#1ecb8e"/><path d="M314.9 608.6L317.2 604.4L312.6 604.4Z" fill="#1ecb8e"/><path d="M316.8 607.3L319.1 603.2L314.5 603.2Z" fill="#1ecb8e"/><path d="M318.8 608.9L321.1 604.7L316.5 604.7Z" fill="#1ecb8e"/><path d="M320.7 609.1L323.0 604.9L318.4 604.9Z" fill="#1ecb8e"/><path d="M322.7 608.0L325.0 603.8L320.4 603.8Z" fill="#1ecb8e"/><path d="M324.6 608.4L326.9 604.2L322.3 604.2Z" fill="#1ecb8e"/><path d="M326.5 607.4L328.8 603.2L324.2 603.2Z" fill="#1ecb8e"/><path d="M328.5 609.1L330.8 604.9L326.2 604.9Z" fill="#1ecb8e"/><path d="M330.4 608.3L332.7 604.2L328.1 604.2Z" fill="#1ecb8e"/><path d="M332.4 607.6L334.7 603.4L330.1 603.4Z" fill="#1ecb8e"/><path d="M334.3 608.3L336.6 604.2L332.0 604.2Z" fill="#1ecb8e"/><path d="M336.2 608.0L338.5 603.9L333.9 603.9Z" fill="#1ecb8e"/><path d="M338.2 608.6L340.5 604.5L335.9 604.5Z" fill="#1ecb8e"/><path d="M340.1 607.1L342.4 603.0L337.8 603.0Z" fill="#1ecb8e"/><path d="M342.1 609.0L344.4 604.9L339.8 604.9Z" fill="#1ecb8e"/><path d="M344.0 608.2L346.3 604.0L341.7 604.0Z" fill="#1ecb8e"/><path d="M345.9 608.1L348.2 604.0L343.6 604.0Z" fill="#1ecb8e"/><path d="M347.9 607.9L350.2 603.8L345.6 603.8Z" fill="#1ecb8e"/><path d="M349.8 607.2L352.1 603.1L347.5 603.1Z" fill="#1ecb8e"/><path d="M351.8 606.7L354.1 602.6L349.5 602.6Z" fill="#1ecb8e"/><path d="M353.7 605.5L356.0 601.3L351.4 601.3Z" fill="#1ecb8e"/><path d="M355.6 601.1L357.9 596.9L353.3 596.9Z" fill="#1ecb8e"/><path d="M357.6 597.6L359.9 593.5L355.3 593.5Z" fill="#1ecb8e"/><path d="M359.5 593.6L361.8 589.5L357.2 589.5Z" fill="#1ecb8e"/></g>
<g><path d="M53.0 555.5 L54.9 565.9 L56.9 577.1 L58.8 585.6 L60.8 590.2 L62.7 593.8 L64.6 597.3 L66.6 598.6 L68.5 598.4 L70.5 598.4 L72.4 598.0 L74.3 597.8 L76.3 598.0 L78.2 597.4 L80.2 597.2 L82.1 598.1 L84.0 599.4 L86.0 600.8 L87.9 600.4 L89.9 600.3 L91.8 600.7 L93.7 600.0 L95.7 599.0 L97.6 599.5 L99.6 601.4 L101.5 600.7 L103.4 598.4 L105.4 599.0 L107.3 600.7 L109.3 600.2 L111.2 597.7 L113.1 596.1 L115.1 596.8 L117.0 597.6 L119.0 598.0 L120.9 599.4 L122.8 600.2 L124.8 597.8 L126.7 595.1 L128.7 596.1 L130.6 597.8 L132.5 598.0 L134.5 598.8 L136.4 598.7 L138.4 598.4 L140.3 597.3 L142.2 594.6 L144.2 593.5 L146.1 594.4 L148.1 594.2 L150.0 592.2 L151.9 588.7 L153.9 580.4 L155.8 565.0 L157.8 542.7 L159.7 518.2 L161.6 502.3 L163.6 496.5 L165.5 496.1 L167.5 497.4 L169.4 497.5 L171.3 495.6 L173.3 494.1 L175.2 493.2 L177.2 495.0 L179.1 496.3 L181.0 491.3 L183.0 487.7 L184.9 488.8 L186.9 490.4 L188.8 493.0 L190.7 494.6 L192.7 494.9 L194.6 494.7 L196.6 492.5 L198.5 492.3 L200.4 492.3 L202.4 490.2 L204.3 489.4 L206.3 490.8 L208.2 491.5 L210.1 490.5 L212.1 492.1 L214.0 493.3 L216.0 491.3 L217.9 490.1 L219.8 489.9 L221.8 489.2 L223.7 488.7 L225.7 489.2 L227.6 490.7 L229.5 489.6 L231.5 488.0 L233.4 489.1 L235.4 490.6 L237.3 490.8 L239.2 491.3 L241.2 493.4 L243.1 493.1 L245.1 492.5 L247.0 492.8 L248.9 492.4 L250.9 492.1 L252.8 492.0 L254.8 494.3 L256.7 496.8 L258.6 498.1 L260.6 499.3 L262.5 500.6 L264.5 501.8 L266.4 504.2 L268.3 506.9 L270.3 510.0 L272.2 512.9 L274.2 513.1 L276.1 514.5 L278.0 516.0 L280.0 511.9 L281.9 508.6 L283.9 508.7 L285.8 507.1 L287.7 504.1 L289.7 503.4 L291.6 504.1 L293.6 504.4 L295.5 505.5 L297.4 507.3 L299.4 505.8 L301.3 502.3 L303.3 501.3 L305.2 502.4 L307.1 504.0 L309.1 504.6 L311.0 505.4 L313.0 508.7 L314.9 510.1 L316.8 507.1 L318.8 504.4 L320.7 503.1 L322.7 502.9 L324.6 501.6 L326.5 499.6 L328.5 497.6 L330.4 495.5 L332.4 494.6 L334.3 493.6 L336.2 492.3 L338.2 489.1 L340.1 483.9 L342.1 482.2 L344.0 482.7 L345.9 485.1 L347.9 488.5 L349.8 488.1 L351.8 488.8 L353.7 494.2 L355.6 495.4 L357.6 493.5 L359.5 494.2" fill="none" stroke="#e8a83a" stroke-width="1.9" stroke-linejoin="round"/><path d="M53.0 581.5 L54.9 583.8 L56.9 589.3 L58.8 595.0 L60.8 599.2 L62.7 602.3 L64.6 603.2 L66.6 602.9 L68.5 602.6 L70.5 602.8 L72.4 603.1 L74.3 603.2 L76.3 603.2 L78.2 603.3 L80.2 603.3 L82.1 603.0 L84.0 602.8 L86.0 603.3 L87.9 603.9 L89.9 604.0 L91.8 604.0 L93.7 603.4 L95.7 602.6 L97.6 602.5 L99.6 602.9 L101.5 603.4 L103.4 603.6 L105.4 603.5 L107.3 603.1 L109.3 602.8 L111.2 602.8 L113.1 602.7 L115.1 603.4 L117.0 603.9 L119.0 603.4 L120.9 602.6 L122.8 602.2 L124.8 603.0 L126.7 603.8 L128.7 603.6 L130.6 602.9 L132.5 602.6 L134.5 602.9 L136.4 603.1 L138.4 603.3 L140.3 603.1 L142.2 602.7 L144.2 602.9 L146.1 603.8 L148.1 604.4 L150.0 603.2 L151.9 602.2 L153.9 603.1 L155.8 604.2 L157.8 604.5 L159.7 604.0 L161.6 603.5 L163.6 604.7 L165.5 605.6 L167.5 605.0 L169.4 604.4 L171.3 603.7 L173.3 603.4 L175.2 604.3 L177.2 605.6 L179.1 605.1 L181.0 603.6 L183.0 603.6 L184.9 603.8 L186.9 603.1 L188.8 602.7 L190.7 603.2 L192.7 603.7 L194.6 603.5 L196.6 603.9 L198.5 604.7 L200.4 604.5 L202.4 604.1 L204.3 604.1 L206.3 604.2 L208.2 603.7 L210.1 603.4 L212.1 604.2 L214.0 604.8 L216.0 605.0 L217.9 604.8 L219.8 603.2 L221.8 601.7 L223.7 601.7 L225.7 602.7 L227.6 604.1 L229.5 604.7 L231.5 604.8 L233.4 604.8 L235.4 604.5 L237.3 604.5 L239.2 604.7 L241.2 605.0 L243.1 605.0 L245.1 604.2 L247.0 604.1 L248.9 604.9 L250.9 605.4 L252.8 604.8 L254.8 603.5 L256.7 601.6 L258.6 599.1 L260.6 596.7 L262.5 594.4 L264.5 592.1 L266.4 589.5 L268.3 587.9 L270.3 586.2 L272.2 582.9 L274.2 580.9 L276.1 581.2 L278.0 580.2 L280.0 576.6 L281.9 575.8 L283.9 579.3 L285.8 581.7 L287.7 582.3 L289.7 582.6 L291.6 583.5 L293.6 584.1 L295.5 583.6 L297.4 584.0 L299.4 585.3 L301.3 586.2 L303.3 585.7 L305.2 584.1 L307.1 582.2 L309.1 581.7 L311.0 582.7 L313.0 582.7 L314.9 581.2 L316.8 580.7 L318.8 582.7 L320.7 584.4 L322.7 584.9 L324.6 588.2 L326.5 592.6 L328.5 595.0 L330.4 597.4 L332.4 601.3 L334.3 604.0 L336.2 605.5 L338.2 605.4 L340.1 605.1 L342.1 605.5 L344.0 605.5 L345.9 605.2 L347.9 605.1 L349.8 605.3 L351.8 605.5 L353.7 605.5 L355.6 605.3 L357.6 605.2 L359.5 605.3" fill="none" stroke="#ee1515" stroke-width="1.9" stroke-linejoin="round"/><path d="M53.0 563.2 L54.9 568.4 L56.9 574.7 L58.8 576.5 L60.8 576.7 L62.7 579.5 L64.6 583.0 L66.6 586.1 L68.5 589.4 L70.5 593.1 L72.4 596.5 L74.3 597.4 L76.3 595.9 L78.2 593.6 L80.2 590.9 L82.1 591.2 L84.0 594.9 L86.0 598.6 L87.9 600.1 L89.9 599.9 L91.8 599.0 L93.7 597.9 L95.7 597.7 L97.6 598.5 L99.6 599.4 L101.5 600.1 L103.4 600.6 L105.4 600.5 L107.3 600.1 L109.3 600.0 L111.2 598.4 L113.1 596.9 L115.1 596.2 L117.0 596.1 L119.0 597.1 L120.9 596.9 L122.8 596.4 L124.8 597.3 L126.7 598.2 L128.7 599.4 L130.6 599.0 L132.5 595.9 L134.5 594.7 L136.4 598.9 L138.4 601.5 L140.3 601.0 L142.2 599.7 L144.2 599.7 L146.1 601.0 L148.1 600.9 L150.0 597.7 L151.9 592.4 L153.9 586.2 L155.8 574.7 L157.8 554.4 L159.7 525.1 L161.6 499.4 L163.6 486.1 L165.5 481.3 L167.5 480.7 L169.4 485.1 L171.3 486.5 L173.3 482.8 L175.2 483.6 L177.2 486.5 L179.1 487.0 L181.0 488.1 L183.0 491.0 L184.9 489.4 L186.9 483.3 L188.8 482.1 L190.7 485.4 L192.7 486.9 L194.6 486.4 L196.6 486.9 L198.5 488.3 L200.4 487.4 L202.4 485.6 L204.3 484.0 L206.3 482.1 L208.2 483.0 L210.1 486.7 L212.1 488.7 L214.0 487.3 L216.0 485.3 L217.9 485.6 L219.8 487.0 L221.8 485.7 L223.7 482.0 L225.7 479.4 L227.6 478.7 L229.5 481.4 L231.5 485.5 L233.4 486.8 L235.4 488.8 L237.3 490.6 L239.2 487.4 L241.2 483.4 L243.1 483.0 L245.1 484.9 L247.0 487.4 L248.9 490.0 L250.9 492.5 L252.8 493.5 L254.8 492.6 L256.7 489.2 L258.6 486.3 L260.6 485.9 L262.5 486.6 L264.5 487.4 L266.4 486.5 L268.3 485.2 L270.3 484.2 L272.2 484.5 L274.2 484.4 L276.1 482.8 L278.0 486.1 L280.0 490.7 L281.9 490.9 L283.9 489.3 L285.8 487.7 L287.7 485.9 L289.7 484.5 L291.6 484.5 L293.6 483.6 L295.5 485.5 L297.4 489.2 L299.4 486.8 L301.3 485.7 L303.3 490.1 L305.2 490.5 L307.1 487.2 L309.1 486.3 L311.0 485.2 L313.0 482.6 L314.9 484.6 L316.8 487.8 L318.8 487.1 L320.7 484.0 L322.7 482.5 L324.6 485.2 L326.5 486.0 L328.5 483.8 L330.4 484.8 L332.4 484.4 L334.3 483.1 L336.2 485.1 L338.2 483.7 L340.1 480.8 L342.1 483.5 L344.0 485.3 L345.9 484.6 L347.9 485.4 L349.8 485.8 L351.8 485.7 L353.7 485.4 L355.6 485.2 L357.6 487.2 L359.5 488.7" fill="none" stroke="#1515e6" stroke-width="1.9" stroke-linejoin="round"/><path d="M53.0 486.7 L54.9 467.5 L56.9 449.2 L58.8 439.1 L60.8 428.4 L62.7 416.0 L64.6 404.1 L66.6 397.8 L68.5 392.8 L70.5 389.5 L72.4 389.6 L74.3 389.8 L76.3 389.4 L78.2 390.6 L80.2 395.9 L82.1 395.7 L84.0 386.6 L86.0 381.2 L87.9 380.8 L89.9 379.2 L91.8 383.8 L93.7 388.7 L95.7 386.4 L97.6 387.2 L99.6 389.6 L101.5 387.9 L103.4 383.4 L105.4 381.5 L107.3 384.5 L109.3 385.3 L111.2 384.8 L113.1 385.0 L115.1 384.8 L117.0 383.4 L119.0 385.6 L120.9 389.3 L122.8 388.8 L124.8 387.2 L126.7 383.1 L128.7 383.0 L130.6 384.5 L132.5 381.4 L134.5 383.6 L136.4 386.5 L138.4 384.6 L140.3 384.4 L142.2 384.8 L144.2 386.6 L146.1 393.5 L148.1 401.6 L150.0 401.0 L151.9 399.5 L153.9 410.0 L155.8 441.3 L157.8 496.4 L159.7 557.8 L161.6 592.7 L163.6 603.6 L165.5 605.5 L167.5 605.8 L169.4 606.0 L171.3 605.9 L173.3 605.8 L175.2 606.2 L177.2 606.5 L179.1 606.3 L181.0 606.2 L183.0 606.6 L184.9 606.8 L186.9 606.4 L188.8 605.7 L190.7 605.7 L192.7 606.0 L194.6 605.9 L196.6 606.1 L198.5 606.5 L200.4 606.3 L202.4 606.0 L204.3 605.7 L206.3 605.6 L208.2 606.0 L210.1 606.3 L212.1 606.2 L214.0 606.1 L216.0 605.9 L217.9 605.5 L219.8 605.4 L221.8 606.1 L223.7 606.5 L225.7 606.4 L227.6 605.9 L229.5 605.6 L231.5 605.7 L233.4 605.6 L235.4 605.5 L237.3 606.2 L239.2 606.3 L241.2 605.8 L243.1 605.7 L245.1 606.1 L247.0 606.3 L248.9 606.1 L250.9 606.0 L252.8 606.2 L254.8 606.3 L256.7 606.3 L258.6 606.1 L260.6 606.1 L262.5 606.1 L264.5 606.3 L266.4 606.5 L268.3 606.4 L270.3 606.2 L272.2 606.1 L274.2 606.2 L276.1 606.1 L278.0 605.8 L280.0 605.7 L281.9 605.8 L283.9 605.8 L285.8 605.6 L287.7 605.9 L289.7 606.2 L291.6 605.8 L293.6 605.7 L295.5 606.3 L297.4 606.2 L299.4 605.8 L301.3 606.0 L303.3 606.3 L305.2 606.0 L307.1 605.9 L309.1 606.2 L311.0 606.5 L313.0 606.4 L314.9 606.1 L316.8 606.0 L318.8 606.4 L320.7 606.5 L322.7 606.2 L324.6 606.0 L326.5 606.0 L328.5 606.3 L330.4 606.2 L332.4 605.9 L334.3 606.0 L336.2 606.1 L338.2 606.0 L340.1 605.9 L342.1 606.2 L344.0 606.2 L345.9 606.0 L347.9 605.7 L349.8 605.3 L351.8 604.5 L353.7 602.8 L355.6 599.3 L357.6 595.5 L359.5 592.6" fill="none" stroke="#1ecb8e" stroke-width="1.9" stroke-linejoin="round"/></g>
<rect x="52.5" y="366.2" width="310.8" height="250.09999999999997" fill="none" stroke="#4a4a4a" stroke-width="1.3"/>
<path d="M47.5 607.0H52.5M363.3 607.0H360.3M50.0 582.9H52.5M363.3 582.9H361.3M47.5 558.8H52.5M363.3 558.8H360.3M50.0 534.7H52.5M363.3 534.7H361.3M47.5 510.6H52.5M363.3 510.6H360.3M50.0 486.5H52.5M363.3 486.5H361.3M47.5 462.4H52.5M363.3 462.4H360.3M50.0 438.3H52.5M363.3 438.3H361.3M47.5 414.2H52.5M363.3 414.2H360.3M50.0 390.1H52.5M363.3 390.1H361.3M47.5 366.0H52.5M363.3 366.0H360.3M53.0 616.3V620.8M53.0 366.2V369.2M101.5 616.3V618.8M101.5 366.2V368.2M150.0 616.3V620.8M150.0 366.2V369.2M198.5 616.3V618.8M198.5 366.2V368.2M247.0 616.3V620.8M247.0 366.2V369.2M295.5 616.3V618.8M295.5 366.2V368.2M344.0 616.3V620.8M344.0 366.2V369.2" stroke="#4a4a4a" stroke-width="1.2" fill="none"/>
<text x="44" y="610.5" font-size="10" fill="#1e1e1e" text-anchor="end">0</text>
<text x="44" y="562.3" font-size="10" fill="#1e1e1e" text-anchor="end">20</text>
<text x="44" y="514.1" font-size="10" fill="#1e1e1e" text-anchor="end">40</text>
<text x="44" y="465.9" font-size="10" fill="#1e1e1e" text-anchor="end">60</text>
<text x="44" y="417.7" font-size="10" fill="#1e1e1e" text-anchor="end">80</text>
<text x="44" y="369.5" font-size="10" fill="#1e1e1e" text-anchor="end">100</text>
<text x="53.0" y="632.5" font-size="10" fill="#1e1e1e" text-anchor="middle">0</text>
<text x="150.0" y="632.5" font-size="10" fill="#1e1e1e" text-anchor="middle">100</text>
<text x="247.0" y="632.5" font-size="10" fill="#1e1e1e" text-anchor="middle">200</text>
<text x="344.0" y="632.5" font-size="10" fill="#1e1e1e" text-anchor="middle">300</text>
<text x="200" y="641" font-size="12.3" fill="#1e1e1e" text-anchor="middle">nm</text>
<text transform="translate(21.4 491.4) rotate(-90)" font-size="12.5" fill="#1e1e1e" text-anchor="middle">at%</text>
<rect x="253.4" y="388.6" width="3.6" height="3.6" fill="#e8a83a"/>
<text x="273.6" y="394.6" font-size="12.2" fill="#1e1e1e">Ga</text>
<circle cx="255.2" cy="406.3" r="1.8" fill="#1515e6"/>
<text x="273.6" y="410.5" font-size="12.2" fill="#1e1e1e">As</text>
<path d="M255.2 420.6L257.0 423.8L253.4 423.8Z" fill="#ee1515"/>
<text x="273.6" y="426.4" font-size="12.2" fill="#1e1e1e">Al</text>
<path d="M255.2 439.7L257.0 436.5L253.4 436.5Z" fill="#1ecb8e"/>
<text x="273.6" y="442.3" font-size="12.2" fill="#1e1e1e">Bi</text>
<text x="325.3" y="392.3" font-size="21.5" font-weight="bold" letter-spacing="1.9" fill="#000">(e)</text>
<line x1="416.5" x2="722.7" y1="605.6" y2="605.6" stroke="#d4d4d4" stroke-width="1"/>
<line x1="416.5" x2="722.7" y1="558.0" y2="558.0" stroke="#d4d4d4" stroke-width="1"/>
<line x1="416.5" x2="722.7" y1="510.5" y2="510.5" stroke="#d4d4d4" stroke-width="1"/>
<line x1="416.5" x2="722.7" y1="462.9" y2="462.9" stroke="#d4d4d4" stroke-width="1"/>
<line x1="416.5" x2="722.7" y1="415.4" y2="415.4" stroke="#d4d4d4" stroke-width="1"/>
<g><rect x="595.6" y="494.2" width="3.4" height="3.4" fill="#e8a83a"/><rect x="596.6" y="494.1" width="3.4" height="3.4" fill="#e8a83a"/><rect x="597.5" y="486.6" width="3.4" height="3.4" fill="#e8a83a"/><rect x="598.5" y="496.5" width="3.4" height="3.4" fill="#e8a83a"/><rect x="599.4" y="486.9" width="3.4" height="3.4" fill="#e8a83a"/><rect x="600.4" y="493.5" width="3.4" height="3.4" fill="#e8a83a"/><rect x="601.3" y="479.3" width="3.4" height="3.4" fill="#e8a83a"/><rect x="602.3" y="481.8" width="3.4" height="3.4" fill="#e8a83a"/><rect x="603.3" y="477.1" width="3.4" height="3.4" fill="#e8a83a"/><rect x="604.2" y="484.0" width="3.4" height="3.4" fill="#e8a83a"/><rect x="605.2" y="480.3" width="3.4" height="3.4" fill="#e8a83a"/><rect x="606.1" y="482.7" width="3.4" height="3.4" fill="#e8a83a"/><rect x="607.1" y="484.4" width="3.4" height="3.4" fill="#e8a83a"/><rect x="608.0" y="481.5" width="3.4" height="3.4" fill="#e8a83a"/><rect x="609.0" y="487.4" width="3.4" height="3.4" fill="#e8a83a"/><rect x="610.0" y="484.4" width="3.4" height="3.4" fill="#e8a83a"/><rect x="610.9" y="480.9" width="3.4" height="3.4" fill="#e8a83a"/><rect x="611.9" y="484.3" width="3.4" height="3.4" fill="#e8a83a"/><rect x="612.8" y="487.7" width="3.4" height="3.4" fill="#e8a83a"/><rect x="613.8" y="479.5" width="3.4" height="3.4" fill="#e8a83a"/><rect x="614.7" y="489.2" width="3.4" height="3.4" fill="#e8a83a"/><rect x="615.7" y="493.4" width="3.4" height="3.4" fill="#e8a83a"/><rect x="616.6" y="492.1" width="3.4" height="3.4" fill="#e8a83a"/><rect x="617.6" y="496.1" width="3.4" height="3.4" fill="#e8a83a"/><rect x="618.6" y="497.0" width="3.4" height="3.4" fill="#e8a83a"/><rect x="619.5" y="498.3" width="3.4" height="3.4" fill="#e8a83a"/><rect x="620.5" y="490.7" width="3.4" height="3.4" fill="#e8a83a"/><rect x="621.4" y="499.5" width="3.4" height="3.4" fill="#e8a83a"/><rect x="622.4" y="499.6" width="3.4" height="3.4" fill="#e8a83a"/><rect x="623.3" y="498.3" width="3.4" height="3.4" fill="#e8a83a"/><rect x="624.3" y="493.9" width="3.4" height="3.4" fill="#e8a83a"/><rect x="625.2" y="503.1" width="3.4" height="3.4" fill="#e8a83a"/><rect x="626.2" y="505.3" width="3.4" height="3.4" fill="#e8a83a"/><rect x="627.2" y="494.2" width="3.4" height="3.4" fill="#e8a83a"/><rect x="628.1" y="509.6" width="3.4" height="3.4" fill="#e8a83a"/><rect x="629.1" y="505.6" width="3.4" height="3.4" fill="#e8a83a"/><rect x="630.0" y="501.8" width="3.4" height="3.4" fill="#e8a83a"/><rect x="631.0" y="495.8" width="3.4" height="3.4" fill="#e8a83a"/><rect x="631.9" y="508.3" width="3.4" height="3.4" fill="#e8a83a"/><rect x="632.9" y="514.1" width="3.4" height="3.4" fill="#e8a83a"/><rect x="633.9" y="502.5" width="3.4" height="3.4" fill="#e8a83a"/><rect x="634.8" y="507.1" width="3.4" height="3.4" fill="#e8a83a"/><rect x="635.8" y="506.3" width="3.4" height="3.4" fill="#e8a83a"/><rect x="636.7" y="502.1" width="3.4" height="3.4" fill="#e8a83a"/><rect x="637.7" y="502.0" width="3.4" height="3.4" fill="#e8a83a"/><rect x="638.6" y="500.7" width="3.4" height="3.4" fill="#e8a83a"/><rect x="639.6" y="502.5" width="3.4" height="3.4" fill="#e8a83a"/><rect x="640.5" y="495.0" width="3.4" height="3.4" fill="#e8a83a"/><rect x="641.5" y="493.1" width="3.4" height="3.4" fill="#e8a83a"/><rect x="642.5" y="497.7" width="3.4" height="3.4" fill="#e8a83a"/><rect x="643.4" y="498.5" width="3.4" height="3.4" fill="#e8a83a"/><rect x="644.4" y="492.9" width="3.4" height="3.4" fill="#e8a83a"/><rect x="645.3" y="492.9" width="3.4" height="3.4" fill="#e8a83a"/><rect x="646.3" y="497.6" width="3.4" height="3.4" fill="#e8a83a"/><rect x="647.2" y="494.4" width="3.4" height="3.4" fill="#e8a83a"/><rect x="648.2" y="487.6" width="3.4" height="3.4" fill="#e8a83a"/><rect x="649.1" y="491.7" width="3.4" height="3.4" fill="#e8a83a"/><rect x="650.1" y="493.6" width="3.4" height="3.4" fill="#e8a83a"/><rect x="651.1" y="492.5" width="3.4" height="3.4" fill="#e8a83a"/><rect x="652.0" y="494.4" width="3.4" height="3.4" fill="#e8a83a"/><rect x="653.0" y="495.3" width="3.4" height="3.4" fill="#e8a83a"/><rect x="653.9" y="503.6" width="3.4" height="3.4" fill="#e8a83a"/><rect x="654.9" y="490.5" width="3.4" height="3.4" fill="#e8a83a"/><rect x="655.8" y="497.0" width="3.4" height="3.4" fill="#e8a83a"/><rect x="656.8" y="501.7" width="3.4" height="3.4" fill="#e8a83a"/><rect x="657.8" y="495.2" width="3.4" height="3.4" fill="#e8a83a"/><rect x="658.7" y="498.3" width="3.4" height="3.4" fill="#e8a83a"/><rect x="659.7" y="500.0" width="3.4" height="3.4" fill="#e8a83a"/><rect x="660.6" y="496.7" width="3.4" height="3.4" fill="#e8a83a"/><rect x="661.6" y="492.7" width="3.4" height="3.4" fill="#e8a83a"/><rect x="662.5" y="499.8" width="3.4" height="3.4" fill="#e8a83a"/><rect x="663.5" y="496.4" width="3.4" height="3.4" fill="#e8a83a"/><rect x="664.4" y="494.9" width="3.4" height="3.4" fill="#e8a83a"/><rect x="665.4" y="507.6" width="3.4" height="3.4" fill="#e8a83a"/><rect x="666.4" y="506.3" width="3.4" height="3.4" fill="#e8a83a"/><rect x="667.3" y="501.9" width="3.4" height="3.4" fill="#e8a83a"/><rect x="668.3" y="511.9" width="3.4" height="3.4" fill="#e8a83a"/><rect x="669.2" y="507.1" width="3.4" height="3.4" fill="#e8a83a"/><rect x="670.2" y="501.5" width="3.4" height="3.4" fill="#e8a83a"/><rect x="671.1" y="502.6" width="3.4" height="3.4" fill="#e8a83a"/><rect x="672.1" y="504.6" width="3.4" height="3.4" fill="#e8a83a"/><rect x="673.0" y="514.1" width="3.4" height="3.4" fill="#e8a83a"/><rect x="674.0" y="498.1" width="3.4" height="3.4" fill="#e8a83a"/><rect x="675.0" y="505.1" width="3.4" height="3.4" fill="#e8a83a"/><rect x="675.9" y="504.4" width="3.4" height="3.4" fill="#e8a83a"/><rect x="676.9" y="505.6" width="3.4" height="3.4" fill="#e8a83a"/><rect x="677.8" y="513.8" width="3.4" height="3.4" fill="#e8a83a"/><rect x="678.8" y="512.0" width="3.4" height="3.4" fill="#e8a83a"/><rect x="679.7" y="510.4" width="3.4" height="3.4" fill="#e8a83a"/><rect x="680.7" y="497.8" width="3.4" height="3.4" fill="#e8a83a"/><rect x="681.7" y="507.5" width="3.4" height="3.4" fill="#e8a83a"/><rect x="682.6" y="504.5" width="3.4" height="3.4" fill="#e8a83a"/><rect x="683.6" y="503.8" width="3.4" height="3.4" fill="#e8a83a"/><rect x="684.5" y="499.9" width="3.4" height="3.4" fill="#e8a83a"/><rect x="685.5" y="499.3" width="3.4" height="3.4" fill="#e8a83a"/><rect x="686.4" y="499.0" width="3.4" height="3.4" fill="#e8a83a"/><rect x="687.4" y="503.6" width="3.4" height="3.4" fill="#e8a83a"/><rect x="688.3" y="509.5" width="3.4" height="3.4" fill="#e8a83a"/><rect x="689.3" y="495.8" width="3.4" height="3.4" fill="#e8a83a"/><rect x="690.3" y="494.2" width="3.4" height="3.4" fill="#e8a83a"/><rect x="691.2" y="489.4" width="3.4" height="3.4" fill="#e8a83a"/><rect x="692.2" y="493.2" width="3.4" height="3.4" fill="#e8a83a"/><rect x="693.1" y="494.0" width="3.4" height="3.4" fill="#e8a83a"/><rect x="694.1" y="488.9" width="3.4" height="3.4" fill="#e8a83a"/><rect x="695.0" y="495.3" width="3.4" height="3.4" fill="#e8a83a"/><rect x="696.0" y="492.3" width="3.4" height="3.4" fill="#e8a83a"/><rect x="696.9" y="491.1" width="3.4" height="3.4" fill="#e8a83a"/><rect x="697.9" y="485.1" width="3.4" height="3.4" fill="#e8a83a"/><rect x="698.9" y="477.2" width="3.4" height="3.4" fill="#e8a83a"/><rect x="699.8" y="481.2" width="3.4" height="3.4" fill="#e8a83a"/><rect x="700.8" y="478.8" width="3.4" height="3.4" fill="#e8a83a"/><rect x="701.7" y="481.2" width="3.4" height="3.4" fill="#e8a83a"/><rect x="702.7" y="480.8" width="3.4" height="3.4" fill="#e8a83a"/><rect x="703.6" y="484.5" width="3.4" height="3.4" fill="#e8a83a"/><rect x="704.6" y="484.9" width="3.4" height="3.4" fill="#e8a83a"/><rect x="705.6" y="494.0" width="3.4" height="3.4" fill="#e8a83a"/><rect x="706.5" y="490.4" width="3.4" height="3.4" fill="#e8a83a"/><rect x="707.5" y="491.7" width="3.4" height="3.4" fill="#e8a83a"/><rect x="708.4" y="485.3" width="3.4" height="3.4" fill="#e8a83a"/><rect x="709.4" y="488.7" width="3.4" height="3.4" fill="#e8a83a"/><rect x="710.3" y="489.7" width="3.4" height="3.4" fill="#e8a83a"/><rect x="711.3" y="490.9" width="3.4" height="3.4" fill="#e8a83a"/><rect x="712.2" y="500.7" width="3.4" height="3.4" fill="#e8a83a"/><rect x="713.2" y="498.3" width="3.4" height="3.4" fill="#e8a83a"/><rect x="714.2" y="497.5" width="3.4" height="3.4" fill="#e8a83a"/><rect x="715.1" y="507.4" width="3.4" height="3.4" fill="#e8a83a"/><rect x="716.1" y="504.6" width="3.4" height="3.4" fill="#e8a83a"/><circle cx="597.3" cy="501.7" r="1.9" fill="#1515e6"/><circle cx="598.3" cy="509.3" r="1.9" fill="#1515e6"/><circle cx="599.2" cy="504.0" r="1.9" fill="#1515e6"/><circle cx="600.2" cy="496.4" r="1.9" fill="#1515e6"/><circle cx="601.1" cy="488.4" r="1.9" fill="#1515e6"/><circle cx="602.1" cy="491.8" r="1.9" fill="#1515e6"/><circle cx="603.0" cy="495.9" r="1.9" fill="#1515e6"/><circle cx="604.0" cy="487.9" r="1.9" fill="#1515e6"/><circle cx="605.0" cy="491.5" r="1.9" fill="#1515e6"/><circle cx="605.9" cy="482.6" r="1.9" fill="#1515e6"/><circle cx="606.9" cy="487.6" r="1.9" fill="#1515e6"/><circle cx="607.8" cy="480.8" r="1.9" fill="#1515e6"/><circle cx="608.8" cy="487.1" r="1.9" fill="#1515e6"/><circle cx="609.7" cy="490.1" r="1.9" fill="#1515e6"/><circle cx="610.7" cy="491.6" r="1.9" fill="#1515e6"/><circle cx="611.7" cy="487.9" r="1.9" fill="#1515e6"/><circle cx="612.6" cy="485.2" r="1.9" fill="#1515e6"/><circle cx="613.6" cy="482.7" r="1.9" fill="#1515e6"/><circle cx="614.5" cy="485.8" r="1.9" fill="#1515e6"/><circle cx="615.5" cy="489.2" r="1.9" fill="#1515e6"/><circle cx="616.4" cy="485.0" r="1.9" fill="#1515e6"/><circle cx="617.4" cy="491.5" r="1.9" fill="#1515e6"/><circle cx="618.3" cy="485.0" r="1.9" fill="#1515e6"/><circle cx="619.3" cy="489.2" r="1.9" fill="#1515e6"/><circle cx="620.3" cy="481.7" r="1.9" fill="#1515e6"/><circle cx="621.2" cy="483.4" r="1.9" fill="#1515e6"/><circle cx="622.2" cy="485.5" r="1.9" fill="#1515e6"/><circle cx="623.1" cy="490.1" r="1.9" fill="#1515e6"/><circle cx="624.1" cy="484.9" r="1.9" fill="#1515e6"/><circle cx="625.0" cy="485.5" r="1.9" fill="#1515e6"/><circle cx="626.0" cy="488.5" r="1.9" fill="#1515e6"/><circle cx="626.9" cy="488.8" r="1.9" fill="#1515e6"/><circle cx="627.9" cy="482.5" r="1.9" fill="#1515e6"/><circle cx="628.9" cy="488.0" r="1.9" fill="#1515e6"/><circle cx="629.8" cy="485.2" r="1.9" fill="#1515e6"/><circle cx="630.8" cy="482.1" r="1.9" fill="#1515e6"/><circle cx="631.7" cy="491.6" r="1.9" fill="#1515e6"/><circle cx="632.7" cy="480.8" r="1.9" fill="#1515e6"/><circle cx="633.6" cy="483.3" r="1.9" fill="#1515e6"/><circle cx="634.6" cy="488.9" r="1.9" fill="#1515e6"/><circle cx="635.6" cy="489.9" r="1.9" fill="#1515e6"/><circle cx="636.5" cy="490.8" r="1.9" fill="#1515e6"/><circle cx="637.5" cy="483.6" r="1.9" fill="#1515e6"/><circle cx="638.4" cy="495.3" r="1.9" fill="#1515e6"/><circle cx="639.4" cy="483.6" r="1.9" fill="#1515e6"/><circle cx="640.3" cy="486.1" r="1.9" fill="#1515e6"/><circle cx="641.3" cy="489.0" r="1.9" fill="#1515e6"/><circle cx="642.2" cy="488.4" r="1.9" fill="#1515e6"/><circle cx="643.2" cy="487.9" r="1.9" fill="#1515e6"/><circle cx="644.2" cy="487.5" r="1.9" fill="#1515e6"/><circle cx="645.1" cy="483.7" r="1.9" fill="#1515e6"/><circle cx="646.1" cy="489.5" r="1.9" fill="#1515e6"/><circle cx="647.0" cy="483.1" r="1.9" fill="#1515e6"/><circle cx="648.0" cy="483.4" r="1.9" fill="#1515e6"/><circle cx="648.9" cy="487.5" r="1.9" fill="#1515e6"/><circle cx="649.9" cy="484.7" r="1.9" fill="#1515e6"/><circle cx="650.8" cy="488.5" r="1.9" fill="#1515e6"/><circle cx="651.8" cy="486.5" r="1.9" fill="#1515e6"/><circle cx="652.8" cy="485.0" r="1.9" fill="#1515e6"/><circle cx="653.7" cy="480.2" r="1.9" fill="#1515e6"/><circle cx="654.7" cy="486.9" r="1.9" fill="#1515e6"/><circle cx="655.6" cy="487.2" r="1.9" fill="#1515e6"/><circle cx="656.6" cy="486.6" r="1.9" fill="#1515e6"/><circle cx="657.5" cy="487.3" r="1.9" fill="#1515e6"/><circle cx="658.5" cy="490.3" r="1.9" fill="#1515e6"/><circle cx="659.5" cy="480.4" r="1.9" fill="#1515e6"/><circle cx="660.4" cy="488.8" r="1.9" fill="#1515e6"/><circle cx="661.4" cy="488.7" r="1.9" fill="#1515e6"/><circle cx="662.3" cy="489.1" r="1.9" fill="#1515e6"/><circle cx="663.3" cy="484.4" r="1.9" fill="#1515e6"/><circle cx="664.2" cy="476.8" r="1.9" fill="#1515e6"/><circle cx="665.2" cy="476.6" r="1.9" fill="#1515e6"/><circle cx="666.1" cy="483.4" r="1.9" fill="#1515e6"/><circle cx="667.1" cy="485.5" r="1.9" fill="#1515e6"/><circle cx="668.1" cy="486.8" r="1.9" fill="#1515e6"/><circle cx="669.0" cy="490.1" r="1.9" fill="#1515e6"/><circle cx="670.0" cy="484.2" r="1.9" fill="#1515e6"/><circle cx="670.9" cy="487.0" r="1.9" fill="#1515e6"/><circle cx="671.9" cy="479.7" r="1.9" fill="#1515e6"/><circle cx="672.8" cy="487.6" r="1.9" fill="#1515e6"/><circle cx="673.8" cy="490.1" r="1.9" fill="#1515e6"/><circle cx="674.7" cy="492.8" r="1.9" fill="#1515e6"/><circle cx="675.7" cy="492.6" r="1.9" fill="#1515e6"/><circle cx="676.7" cy="484.7" r="1.9" fill="#1515e6"/><circle cx="677.6" cy="485.6" r="1.9" fill="#1515e6"/><circle cx="678.6" cy="490.5" r="1.9" fill="#1515e6"/><circle cx="679.5" cy="491.8" r="1.9" fill="#1515e6"/><circle cx="680.5" cy="485.8" r="1.9" fill="#1515e6"/><circle cx="681.4" cy="487.9" r="1.9" fill="#1515e6"/><circle cx="682.4" cy="485.9" r="1.9" fill="#1515e6"/><circle cx="683.4" cy="486.8" r="1.9" fill="#1515e6"/><circle cx="684.3" cy="489.3" r="1.9" fill="#1515e6"/><circle cx="685.3" cy="492.5" r="1.9" fill="#1515e6"/><circle cx="686.2" cy="486.2" r="1.9" fill="#1515e6"/><circle cx="687.2" cy="486.4" r="1.9" fill="#1515e6"/><circle cx="688.1" cy="486.1" r="1.9" fill="#1515e6"/><circle cx="689.1" cy="483.5" r="1.9" fill="#1515e6"/><circle cx="690.0" cy="483.6" r="1.9" fill="#1515e6"/><circle cx="691.0" cy="488.3" r="1.9" fill="#1515e6"/><circle cx="692.0" cy="484.7" r="1.9" fill="#1515e6"/><circle cx="692.9" cy="494.0" r="1.9" fill="#1515e6"/><circle cx="693.9" cy="484.4" r="1.9" fill="#1515e6"/><circle cx="694.8" cy="486.8" r="1.9" fill="#1515e6"/><circle cx="695.8" cy="483.3" r="1.9" fill="#1515e6"/><circle cx="696.7" cy="483.4" r="1.9" fill="#1515e6"/><circle cx="697.7" cy="489.9" r="1.9" fill="#1515e6"/><circle cx="698.6" cy="487.1" r="1.9" fill="#1515e6"/><circle cx="699.6" cy="482.9" r="1.9" fill="#1515e6"/><circle cx="700.6" cy="488.5" r="1.9" fill="#1515e6"/><circle cx="701.5" cy="486.5" r="1.9" fill="#1515e6"/><circle cx="702.5" cy="488.7" r="1.9" fill="#1515e6"/><circle cx="703.4" cy="484.7" r="1.9" fill="#1515e6"/><circle cx="704.4" cy="485.7" r="1.9" fill="#1515e6"/><circle cx="705.3" cy="489.5" r="1.9" fill="#1515e6"/><circle cx="706.3" cy="491.5" r="1.9" fill="#1515e6"/><circle cx="707.3" cy="494.1" r="1.9" fill="#1515e6"/><circle cx="708.2" cy="483.8" r="1.9" fill="#1515e6"/><circle cx="709.2" cy="488.2" r="1.9" fill="#1515e6"/><circle cx="710.1" cy="489.0" r="1.9" fill="#1515e6"/><circle cx="711.1" cy="488.5" r="1.9" fill="#1515e6"/><circle cx="712.0" cy="489.8" r="1.9" fill="#1515e6"/><circle cx="713.0" cy="484.4" r="1.9" fill="#1515e6"/><circle cx="713.9" cy="484.6" r="1.9" fill="#1515e6"/><circle cx="714.9" cy="494.2" r="1.9" fill="#1515e6"/><circle cx="715.9" cy="486.8" r="1.9" fill="#1515e6"/><circle cx="716.8" cy="486.3" r="1.9" fill="#1515e6"/><circle cx="717.8" cy="487.8" r="1.9" fill="#1515e6"/><path d="M597.3 607.5L599.4 603.7L595.2 603.7Z" fill="#ee1515"/><path d="M598.3 606.3L600.4 602.5L596.2 602.5Z" fill="#ee1515"/><path d="M599.2 607.5L601.3 603.7L597.1 603.7Z" fill="#ee1515"/><path d="M600.2 607.5L602.3 603.7L598.1 603.7Z" fill="#ee1515"/><path d="M601.1 607.5L603.2 603.7L599.0 603.7Z" fill="#ee1515"/><path d="M602.1 607.5L604.2 603.7L600.0 603.7Z" fill="#ee1515"/><path d="M603.0 604.8L605.1 601.1L600.9 601.1Z" fill="#ee1515"/><path d="M604.0 606.5L606.1 602.7L601.9 602.7Z" fill="#ee1515"/><path d="M605.0 605.0L607.1 601.2L602.9 601.2Z" fill="#ee1515"/><path d="M605.9 606.9L608.0 603.1L603.8 603.1Z" fill="#ee1515"/><path d="M606.9 606.1L609.0 602.3L604.8 602.3Z" fill="#ee1515"/><path d="M607.8 605.4L609.9 601.6L605.7 601.6Z" fill="#ee1515"/><path d="M608.8 607.5L610.9 603.7L606.7 603.7Z" fill="#ee1515"/><path d="M609.7 601.2L611.8 597.4L607.6 597.4Z" fill="#ee1515"/><path d="M610.7 601.0L612.8 597.2L608.6 597.2Z" fill="#ee1515"/><path d="M611.7 599.0L613.8 595.2L609.6 595.2Z" fill="#ee1515"/><path d="M612.6 603.6L614.7 599.8L610.5 599.8Z" fill="#ee1515"/><path d="M613.6 601.4L615.7 597.6L611.5 597.6Z" fill="#ee1515"/><path d="M614.5 595.4L616.6 591.6L612.4 591.6Z" fill="#ee1515"/><path d="M615.5 590.7L617.6 586.9L613.4 586.9Z" fill="#ee1515"/><path d="M616.4 584.0L618.5 580.2L614.3 580.2Z" fill="#ee1515"/><path d="M617.4 582.7L619.5 578.9L615.3 578.9Z" fill="#ee1515"/><path d="M618.3 576.4L620.4 572.6L616.2 572.6Z" fill="#ee1515"/><path d="M619.3 580.2L621.4 576.4L617.2 576.4Z" fill="#ee1515"/><path d="M620.3 571.2L622.4 567.4L618.2 567.4Z" fill="#ee1515"/><path d="M621.2 567.6L623.3 563.8L619.1 563.8Z" fill="#ee1515"/><path d="M622.2 572.5L624.3 568.7L620.1 568.7Z" fill="#ee1515"/><path d="M623.1 552.4L625.2 548.6L621.0 548.6Z" fill="#ee1515"/><path d="M624.1 558.3L626.2 554.5L622.0 554.5Z" fill="#ee1515"/><path d="M625.0 550.4L627.1 546.6L622.9 546.6Z" fill="#ee1515"/><path d="M626.0 562.0L628.1 558.2L623.9 558.2Z" fill="#ee1515"/><path d="M626.9 559.6L629.0 555.8L624.8 555.8Z" fill="#ee1515"/><path d="M627.9 552.5L630.0 548.7L625.8 548.7Z" fill="#ee1515"/><path d="M628.9 546.5L631.0 542.8L626.8 542.8Z" fill="#ee1515"/><path d="M629.8 535.3L631.9 531.5L627.7 531.5Z" fill="#ee1515"/><path d="M630.8 535.3L632.9 531.6L628.7 531.6Z" fill="#ee1515"/><path d="M631.7 539.3L633.8 535.5L629.6 535.5Z" fill="#ee1515"/><path d="M632.7 542.3L634.8 538.5L630.6 538.5Z" fill="#ee1515"/><path d="M633.6 534.5L635.7 530.7L631.5 530.7Z" fill="#ee1515"/><path d="M634.6 510.3L636.7 506.6L632.5 506.6Z" fill="#ee1515"/><path d="M635.6 532.5L637.7 528.7L633.5 528.7Z" fill="#ee1515"/><path d="M636.5 516.1L638.6 512.3L634.4 512.3Z" fill="#ee1515"/><path d="M637.5 512.3L639.6 508.5L635.4 508.5Z" fill="#ee1515"/><path d="M638.4 537.2L640.5 533.4L636.3 533.4Z" fill="#ee1515"/><path d="M639.4 516.7L641.5 512.9L637.3 512.9Z" fill="#ee1515"/><path d="M640.3 501.5L642.4 497.7L638.2 497.7Z" fill="#ee1515"/><path d="M641.3 547.4L643.4 543.7L639.2 543.7Z" fill="#ee1515"/><path d="M642.2 529.4L644.3 525.6L640.1 525.6Z" fill="#ee1515"/><path d="M643.2 530.2L645.3 526.4L641.1 526.4Z" fill="#ee1515"/><path d="M644.2 541.7L646.3 537.9L642.1 537.9Z" fill="#ee1515"/><path d="M645.1 530.4L647.2 526.6L643.0 526.6Z" fill="#ee1515"/><path d="M646.1 540.6L648.2 536.8L644.0 536.8Z" fill="#ee1515"/><path d="M647.0 558.7L649.1 555.0L644.9 555.0Z" fill="#ee1515"/><path d="M648.0 540.5L650.1 536.7L645.9 536.7Z" fill="#ee1515"/><path d="M648.9 546.5L651.0 542.7L646.8 542.7Z" fill="#ee1515"/><path d="M649.9 548.7L652.0 544.9L647.8 544.9Z" fill="#ee1515"/><path d="M650.8 547.9L652.9 544.1L648.7 544.1Z" fill="#ee1515"/><path d="M651.8 559.5L653.9 555.7L649.7 555.7Z" fill="#ee1515"/><path d="M652.8 564.2L654.9 560.4L650.7 560.4Z" fill="#ee1515"/><path d="M653.7 574.8L655.8 571.0L651.6 571.0Z" fill="#ee1515"/><path d="M654.7 559.8L656.8 556.1L652.6 556.1Z" fill="#ee1515"/><path d="M655.6 568.5L657.7 564.7L653.5 564.7Z" fill="#ee1515"/><path d="M656.6 566.7L658.7 562.9L654.5 562.9Z" fill="#ee1515"/><path d="M657.5 572.3L659.6 568.5L655.4 568.5Z" fill="#ee1515"/><path d="M658.5 569.2L660.6 565.4L656.4 565.4Z" fill="#ee1515"/><path d="M659.5 564.9L661.6 561.2L657.4 561.2Z" fill="#ee1515"/><path d="M660.4 549.4L662.5 545.6L658.3 545.6Z" fill="#ee1515"/><path d="M661.4 575.6L663.5 571.8L659.3 571.8Z" fill="#ee1515"/><path d="M662.3 570.2L664.4 566.4L660.2 566.4Z" fill="#ee1515"/><path d="M663.3 555.2L665.4 551.4L661.2 551.4Z" fill="#ee1515"/><path d="M664.2 543.4L666.3 539.6L662.1 539.6Z" fill="#ee1515"/><path d="M665.2 549.2L667.3 545.4L663.1 545.4Z" fill="#ee1515"/><path d="M666.1 569.8L668.2 566.0L664.0 566.0Z" fill="#ee1515"/><path d="M667.1 574.3L669.2 570.5L665.0 570.5Z" fill="#ee1515"/><path d="M668.1 546.2L670.2 542.5L666.0 542.5Z" fill="#ee1515"/><path d="M669.0 554.5L671.1 550.7L666.9 550.7Z" fill="#ee1515"/><path d="M670.0 556.3L672.1 552.5L667.9 552.5Z" fill="#ee1515"/><path d="M670.9 533.3L673.0 529.5L668.8 529.5Z" fill="#ee1515"/><path d="M671.9 529.8L674.0 526.0L669.8 526.0Z" fill="#ee1515"/><path d="M672.8 537.7L674.9 533.9L670.7 533.9Z" fill="#ee1515"/><path d="M673.8 535.0L675.9 531.2L671.7 531.2Z" fill="#ee1515"/><path d="M674.7 531.1L676.8 527.3L672.6 527.3Z" fill="#ee1515"/><path d="M675.7 516.2L677.8 512.4L673.6 512.4Z" fill="#ee1515"/><path d="M676.7 525.2L678.8 521.4L674.6 521.4Z" fill="#ee1515"/><path d="M677.6 524.5L679.7 520.7L675.5 520.7Z" fill="#ee1515"/><path d="M678.6 522.3L680.7 518.5L676.5 518.5Z" fill="#ee1515"/><path d="M679.5 546.1L681.6 542.3L677.4 542.3Z" fill="#ee1515"/><path d="M680.5 510.1L682.6 506.3L678.4 506.3Z" fill="#ee1515"/><path d="M681.4 512.4L683.5 508.6L679.3 508.6Z" fill="#ee1515"/><path d="M682.4 516.1L684.5 512.3L680.3 512.3Z" fill="#ee1515"/><path d="M683.4 546.4L685.5 542.6L681.3 542.6Z" fill="#ee1515"/><path d="M684.3 530.8L686.4 527.0L682.2 527.0Z" fill="#ee1515"/><path d="M685.3 514.9L687.4 511.1L683.2 511.1Z" fill="#ee1515"/><path d="M686.2 549.3L688.3 545.5L684.1 545.5Z" fill="#ee1515"/><path d="M687.2 532.1L689.3 528.4L685.1 528.4Z" fill="#ee1515"/><path d="M688.1 521.3L690.2 517.5L686.0 517.5Z" fill="#ee1515"/><path d="M689.1 550.7L691.2 546.9L687.0 546.9Z" fill="#ee1515"/><path d="M690.0 523.1L692.1 519.3L687.9 519.3Z" fill="#ee1515"/><path d="M691.0 538.0L693.1 534.2L688.9 534.2Z" fill="#ee1515"/><path d="M692.0 548.9L694.1 545.1L689.9 545.1Z" fill="#ee1515"/><path d="M692.9 548.9L695.0 545.1L690.8 545.1Z" fill="#ee1515"/><path d="M693.9 550.6L696.0 546.8L691.8 546.8Z" fill="#ee1515"/><path d="M694.8 559.6L696.9 555.8L692.7 555.8Z" fill="#ee1515"/><path d="M695.8 556.3L697.9 552.6L693.7 552.6Z" fill="#ee1515"/><path d="M696.7 573.5L698.8 569.7L694.6 569.7Z" fill="#ee1515"/><path d="M697.7 574.8L699.8 571.0L695.6 571.0Z" fill="#ee1515"/><path d="M698.6 568.8L700.7 565.0L696.5 565.0Z" fill="#ee1515"/><path d="M699.6 578.4L701.7 574.6L697.5 574.6Z" fill="#ee1515"/><path d="M700.6 586.6L702.7 582.8L698.5 582.8Z" fill="#ee1515"/><path d="M701.5 580.4L703.6 576.6L699.4 576.6Z" fill="#ee1515"/><path d="M702.5 581.9L704.6 578.1L700.4 578.1Z" fill="#ee1515"/><path d="M703.4 594.1L705.5 590.4L701.3 590.4Z" fill="#ee1515"/><path d="M704.4 601.1L706.5 597.3L702.3 597.3Z" fill="#ee1515"/><path d="M705.3 599.7L707.4 595.9L703.2 595.9Z" fill="#ee1515"/><path d="M706.3 602.9L708.4 599.1L704.2 599.1Z" fill="#ee1515"/><path d="M707.3 606.4L709.4 602.6L705.2 602.6Z" fill="#ee1515"/><path d="M708.2 603.8L710.3 600.0L706.1 600.0Z" fill="#ee1515"/><path d="M709.2 607.5L711.3 603.7L707.1 603.7Z" fill="#ee1515"/><path d="M710.1 602.5L712.2 598.7L708.0 598.7Z" fill="#ee1515"/><path d="M711.1 607.5L713.2 603.7L709.0 603.7Z" fill="#ee1515"/><path d="M712.0 606.0L714.1 602.2L709.9 602.2Z" fill="#ee1515"/><path d="M713.0 599.6L715.1 595.8L710.9 595.8Z" fill="#ee1515"/><path d="M713.9 595.5L716.0 591.7L711.8 591.7Z" fill="#ee1515"/><path d="M714.9 594.1L717.0 590.3L712.8 590.3Z" fill="#ee1515"/><path d="M715.9 594.0L718.0 590.2L713.8 590.2Z" fill="#ee1515"/><path d="M716.8 592.8L718.9 589.1L714.7 589.1Z" fill="#ee1515"/><path d="M717.8 591.6L719.9 587.9L715.7 587.9Z" fill="#ee1515"/><rect x="595.3" y="483.9" width="4.0" height="4.0" fill="#1ecb8e"/><rect x="596.3" y="489.6" width="4.0" height="4.0" fill="#1ecb8e"/><rect x="597.2" y="532.9" width="4.0" height="4.0" fill="#1ecb8e"/><rect x="598.2" y="566.3" width="4.0" height="4.0" fill="#1ecb8e"/><rect x="599.1" y="578.7" width="4.0" height="4.0" fill="#1ecb8e"/><rect x="600.1" y="586.0" width="4.0" height="4.0" fill="#1ecb8e"/><rect x="601.0" y="589.3" width="4.0" height="4.0" fill="#1ecb8e"/><rect x="602.0" y="594.6" width="4.0" height="4.0" fill="#1ecb8e"/><rect x="603.0" y="598.7" width="4.0" height="4.0" fill="#1ecb8e"/><rect x="603.9" y="600.2" width="4.0" height="4.0" fill="#1ecb8e"/><rect x="604.9" y="601.8" width="4.0" height="4.0" fill="#1ecb8e"/><rect x="605.8" y="600.8" width="4.0" height="4.0" fill="#1ecb8e"/><rect x="606.8" y="601.7" width="4.0" height="4.0" fill="#1ecb8e"/><rect x="607.7" y="599.6" width="4.0" height="4.0" fill="#1ecb8e"/><rect x="608.7" y="600.9" width="4.0" height="4.0" fill="#1ecb8e"/><rect x="609.7" y="600.8" width="4.0" height="4.0" fill="#1ecb8e"/><rect x="610.6" y="599.8" width="4.0" height="4.0" fill="#1ecb8e"/><rect x="611.6" y="600.2" width="4.0" height="4.0" fill="#1ecb8e"/><rect x="612.5" y="602.4" width="4.0" height="4.0" fill="#1ecb8e"/><rect x="613.5" y="596.5" width="4.0" height="4.0" fill="#1ecb8e"/><rect x="614.4" y="598.1" width="4.0" height="4.0" fill="#1ecb8e"/><rect x="615.4" y="595.2" width="4.0" height="4.0" fill="#1ecb8e"/><rect x="616.3" y="593.3" width="4.0" height="4.0" fill="#1ecb8e"/><rect x="617.3" y="583.6" width="4.0" height="4.0" fill="#1ecb8e"/><rect x="618.3" y="584.4" width="4.0" height="4.0" fill="#1ecb8e"/><rect x="619.2" y="583.4" width="4.0" height="4.0" fill="#1ecb8e"/><rect x="620.2" y="584.6" width="4.0" height="4.0" fill="#1ecb8e"/><rect x="621.1" y="583.8" width="4.0" height="4.0" fill="#1ecb8e"/><rect x="622.1" y="592.8" width="4.0" height="4.0" fill="#1ecb8e"/><rect x="623.0" y="592.3" width="4.0" height="4.0" fill="#1ecb8e"/><rect x="624.0" y="598.9" width="4.0" height="4.0" fill="#1ecb8e"/><rect x="624.9" y="597.9" width="4.0" height="4.0" fill="#1ecb8e"/><rect x="625.9" y="597.1" width="4.0" height="4.0" fill="#1ecb8e"/><rect x="626.9" y="600.1" width="4.0" height="4.0" fill="#1ecb8e"/><rect x="627.8" y="598.5" width="4.0" height="4.0" fill="#1ecb8e"/><rect x="628.8" y="598.4" width="4.0" height="4.0" fill="#1ecb8e"/><rect x="629.7" y="597.0" width="4.0" height="4.0" fill="#1ecb8e"/><rect x="630.7" y="599.5" width="4.0" height="4.0" fill="#1ecb8e"/><rect x="631.6" y="597.5" width="4.0" height="4.0" fill="#1ecb8e"/><rect x="632.6" y="595.1" width="4.0" height="4.0" fill="#1ecb8e"/><rect x="633.6" y="601.2" width="4.0" height="4.0" fill="#1ecb8e"/><rect x="634.5" y="600.1" width="4.0" height="4.0" fill="#1ecb8e"/><rect x="635.5" y="597.8" width="4.0" height="4.0" fill="#1ecb8e"/><rect x="636.4" y="599.8" width="4.0" height="4.0" fill="#1ecb8e"/><rect x="637.4" y="601.0" width="4.0" height="4.0" fill="#1ecb8e"/><rect x="638.3" y="596.2" width="4.0" height="4.0" fill="#1ecb8e"/><rect x="639.3" y="597.0" width="4.0" height="4.0" fill="#1ecb8e"/><rect x="640.2" y="596.7" width="4.0" height="4.0" fill="#1ecb8e"/><rect x="641.2" y="596.8" width="4.0" height="4.0" fill="#1ecb8e"/><rect x="642.2" y="597.4" width="4.0" height="4.0" fill="#1ecb8e"/><rect x="643.1" y="600.1" width="4.0" height="4.0" fill="#1ecb8e"/><rect x="644.1" y="602.7" width="4.0" height="4.0" fill="#1ecb8e"/><rect x="645.0" y="597.8" width="4.0" height="4.0" fill="#1ecb8e"/><rect x="646.0" y="600.5" width="4.0" height="4.0" fill="#1ecb8e"/><rect x="646.9" y="598.5" width="4.0" height="4.0" fill="#1ecb8e"/><rect x="647.9" y="597.9" width="4.0" height="4.0" fill="#1ecb8e"/><rect x="648.8" y="600.8" width="4.0" height="4.0" fill="#1ecb8e"/><rect x="649.8" y="599.2" width="4.0" height="4.0" fill="#1ecb8e"/><rect x="650.8" y="595.6" width="4.0" height="4.0" fill="#1ecb8e"/><rect x="651.7" y="597.3" width="4.0" height="4.0" fill="#1ecb8e"/><rect x="652.7" y="601.4" width="4.0" height="4.0" fill="#1ecb8e"/><rect x="653.6" y="599.0" width="4.0" height="4.0" fill="#1ecb8e"/><rect x="654.6" y="598.6" width="4.0" height="4.0" fill="#1ecb8e"/><rect x="655.5" y="597.6" width="4.0" height="4.0" fill="#1ecb8e"/><rect x="656.5" y="597.3" width="4.0" height="4.0" fill="#1ecb8e"/><rect x="657.5" y="598.7" width="4.0" height="4.0" fill="#1ecb8e"/><rect x="658.4" y="599.0" width="4.0" height="4.0" fill="#1ecb8e"/><rect x="659.4" y="597.1" width="4.0" height="4.0" fill="#1ecb8e"/><rect x="660.3" y="601.1" width="4.0" height="4.0" fill="#1ecb8e"/><rect x="661.3" y="596.6" width="4.0" height="4.0" fill="#1ecb8e"/><rect x="662.2" y="598.0" width="4.0" height="4.0" fill="#1ecb8e"/><rect x="663.2" y="599.5" width="4.0" height="4.0" fill="#1ecb8e"/><rect x="664.1" y="599.6" width="4.0" height="4.0" fill="#1ecb8e"/><rect x="665.1" y="598.2" width="4.0" height="4.0" fill="#1ecb8e"/><rect x="666.1" y="601.2" width="4.0" height="4.0" fill="#1ecb8e"/><rect x="667.0" y="602.7" width="4.0" height="4.0" fill="#1ecb8e"/><rect x="668.0" y="598.0" width="4.0" height="4.0" fill="#1ecb8e"/><rect x="668.9" y="596.1" width="4.0" height="4.0" fill="#1ecb8e"/><rect x="669.9" y="598.9" width="4.0" height="4.0" fill="#1ecb8e"/><rect x="670.8" y="598.6" width="4.0" height="4.0" fill="#1ecb8e"/><rect x="671.8" y="598.7" width="4.0" height="4.0" fill="#1ecb8e"/><rect x="672.7" y="600.4" width="4.0" height="4.0" fill="#1ecb8e"/><rect x="673.7" y="598.0" width="4.0" height="4.0" fill="#1ecb8e"/><rect x="674.7" y="597.3" width="4.0" height="4.0" fill="#1ecb8e"/><rect x="675.6" y="598.6" width="4.0" height="4.0" fill="#1ecb8e"/><rect x="676.6" y="597.1" width="4.0" height="4.0" fill="#1ecb8e"/><rect x="677.5" y="600.5" width="4.0" height="4.0" fill="#1ecb8e"/><rect x="678.5" y="598.3" width="4.0" height="4.0" fill="#1ecb8e"/><rect x="679.4" y="600.0" width="4.0" height="4.0" fill="#1ecb8e"/><rect x="680.4" y="599.6" width="4.0" height="4.0" fill="#1ecb8e"/><rect x="681.4" y="598.3" width="4.0" height="4.0" fill="#1ecb8e"/><rect x="682.3" y="598.4" width="4.0" height="4.0" fill="#1ecb8e"/><rect x="683.3" y="597.3" width="4.0" height="4.0" fill="#1ecb8e"/><rect x="684.2" y="597.6" width="4.0" height="4.0" fill="#1ecb8e"/><rect x="685.2" y="600.8" width="4.0" height="4.0" fill="#1ecb8e"/><rect x="686.1" y="596.5" width="4.0" height="4.0" fill="#1ecb8e"/><rect x="687.1" y="601.5" width="4.0" height="4.0" fill="#1ecb8e"/><rect x="688.0" y="598.9" width="4.0" height="4.0" fill="#1ecb8e"/><rect x="689.0" y="598.2" width="4.0" height="4.0" fill="#1ecb8e"/><rect x="690.0" y="598.9" width="4.0" height="4.0" fill="#1ecb8e"/><rect x="690.9" y="597.9" width="4.0" height="4.0" fill="#1ecb8e"/><rect x="691.9" y="598.7" width="4.0" height="4.0" fill="#1ecb8e"/><rect x="692.8" y="599.9" width="4.0" height="4.0" fill="#1ecb8e"/><rect x="693.8" y="595.1" width="4.0" height="4.0" fill="#1ecb8e"/><rect x="694.7" y="595.1" width="4.0" height="4.0" fill="#1ecb8e"/><rect x="695.7" y="595.3" width="4.0" height="4.0" fill="#1ecb8e"/><rect x="696.6" y="591.7" width="4.0" height="4.0" fill="#1ecb8e"/><rect x="697.6" y="590.3" width="4.0" height="4.0" fill="#1ecb8e"/><rect x="698.6" y="586.6" width="4.0" height="4.0" fill="#1ecb8e"/><rect x="699.5" y="584.1" width="4.0" height="4.0" fill="#1ecb8e"/><rect x="700.5" y="580.8" width="4.0" height="4.0" fill="#1ecb8e"/><rect x="701.4" y="585.3" width="4.0" height="4.0" fill="#1ecb8e"/><rect x="702.4" y="584.8" width="4.0" height="4.0" fill="#1ecb8e"/><rect x="703.3" y="592.7" width="4.0" height="4.0" fill="#1ecb8e"/><rect x="704.3" y="591.9" width="4.0" height="4.0" fill="#1ecb8e"/><rect x="705.3" y="595.1" width="4.0" height="4.0" fill="#1ecb8e"/><rect x="706.2" y="593.5" width="4.0" height="4.0" fill="#1ecb8e"/><rect x="707.2" y="588.6" width="4.0" height="4.0" fill="#1ecb8e"/><rect x="708.1" y="587.1" width="4.0" height="4.0" fill="#1ecb8e"/><rect x="709.1" y="578.9" width="4.0" height="4.0" fill="#1ecb8e"/><rect x="710.0" y="570.5" width="4.0" height="4.0" fill="#1ecb8e"/><rect x="711.0" y="551.5" width="4.0" height="4.0" fill="#1ecb8e"/><rect x="711.9" y="532.4" width="4.0" height="4.0" fill="#1ecb8e"/><rect x="712.9" y="511.5" width="4.0" height="4.0" fill="#1ecb8e"/><rect x="713.9" y="488.5" width="4.0" height="4.0" fill="#1ecb8e"/><rect x="714.8" y="476.0" width="4.0" height="4.0" fill="#1ecb8e"/><rect x="715.8" y="483.8" width="4.0" height="4.0" fill="#1ecb8e"/></g>
<g><path d="M597.3 495.0 L598.3 493.5 L599.2 492.3 L600.2 492.5 L601.1 491.7 L602.1 489.3 L603.0 485.2 L604.0 482.2 L605.0 482.2 L605.9 483.2 L606.9 483.5 L607.8 484.0 L608.8 484.6 L609.7 485.1 L610.7 486.3 L611.7 485.7 L612.6 484.5 L613.6 486.0 L614.5 486.8 L615.5 486.4 L616.4 489.9 L617.4 493.5 L618.3 495.0 L619.3 496.8 L620.3 498.5 L621.2 498.0 L622.2 497.2 L623.1 499.4 L624.1 501.1 L625.0 499.9 L626.0 499.9 L626.9 503.2 L627.9 503.9 L628.9 503.1 L629.8 506.3 L630.8 507.1 L631.7 503.6 L632.7 503.0 L633.6 507.9 L634.6 510.4 L635.6 507.9 L636.5 507.3 L637.5 507.0 L638.4 504.9 L639.4 503.6 L640.3 503.3 L641.3 502.0 L642.2 498.8 L643.2 497.2 L644.2 498.7 L645.1 498.6 L646.1 496.3 L647.0 495.9 L648.0 496.9 L648.9 495.0 L649.9 492.3 L650.8 492.9 L651.8 494.4 L652.8 495.0 L653.7 495.9 L654.7 498.5 L655.6 499.6 L656.6 497.4 L657.5 498.5 L658.5 500.5 L659.5 499.6 L660.4 500.0 L661.4 500.7 L662.3 499.1 L663.3 498.3 L664.2 499.8 L665.2 499.7 L666.1 501.1 L667.1 505.7 L668.1 506.9 L669.0 507.1 L670.0 509.4 L670.9 508.4 L671.9 505.5 L672.8 505.3 L673.8 508.2 L674.7 509.3 L675.7 506.2 L676.7 505.7 L677.6 507.1 L678.6 509.1 L679.5 512.2 L680.5 512.7 L681.4 509.0 L682.4 505.4 L683.4 506.0 L684.3 506.5 L685.3 504.7 L686.2 502.7 L687.2 501.4 L688.1 501.9 L689.1 504.6 L690.0 504.9 L691.0 500.0 L692.0 495.5 L692.9 493.7 L693.9 494.2 L694.8 494.1 L695.8 493.2 L696.7 493.9 L697.7 493.5 L698.6 491.1 L699.6 486.7 L700.6 482.9 L701.5 482.2 L702.5 482.3 L703.4 482.5 L704.4 483.5 L705.3 485.2 L706.3 488.1 L707.3 491.3 L708.2 492.2 L709.2 490.9 L710.1 489.6 L711.1 490.4 L712.0 492.3 L713.0 495.5 L713.9 499.8 L714.9 501.2 L715.9 502.9 L716.8 506.6 L717.8 507.7" fill="none" stroke="#e8a83a" stroke-width="1.6" stroke-linejoin="round"/><path d="M597.3 503.5 L598.3 505.5 L599.2 503.0 L600.2 496.4 L601.1 491.6 L602.1 492.0 L603.0 492.4 L604.0 490.5 L605.0 488.2 L605.9 486.2 L606.9 485.0 L607.8 484.6 L608.8 486.4 L609.7 489.1 L610.7 489.6 L611.7 487.9 L612.6 485.6 L613.6 484.6 L614.5 486.0 L615.5 487.2 L616.4 487.5 L617.4 487.9 L618.3 487.5 L619.3 486.4 L620.3 484.5 L621.2 484.1 L622.2 486.2 L623.1 487.5 L624.1 486.4 L625.0 486.2 L626.0 487.6 L626.9 487.0 L627.9 485.7 L628.9 486.1 L629.8 485.5 L630.8 485.5 L631.7 486.6 L632.7 484.6 L633.6 484.6 L634.6 487.5 L635.6 489.2 L636.5 488.3 L637.5 488.0 L638.4 488.9 L639.4 487.1 L640.3 486.3 L641.3 487.8 L642.2 488.1 L643.2 487.7 L644.2 486.7 L645.1 486.2 L646.1 486.5 L647.0 485.1 L648.0 484.8 L648.9 486.0 L649.9 486.4 L650.8 487.0 L651.8 486.7 L652.8 484.7 L653.7 483.8 L654.7 485.6 L655.6 486.9 L656.6 486.9 L657.5 487.6 L658.5 487.0 L659.5 485.3 L660.4 486.7 L661.4 488.4 L662.3 487.6 L663.3 484.3 L664.2 480.3 L665.2 480.0 L666.1 483.1 L667.1 485.6 L668.1 487.2 L669.0 487.6 L670.0 486.4 L670.9 484.9 L671.9 484.2 L672.8 486.3 L673.8 489.5 L674.7 491.0 L675.7 489.9 L676.7 486.8 L677.6 486.6 L678.6 489.0 L679.5 489.3 L680.5 487.6 L681.4 486.8 L682.4 486.6 L683.4 487.1 L684.3 488.9 L685.3 489.5 L686.2 487.6 L687.2 486.4 L688.1 485.8 L689.1 484.7 L690.0 485.2 L691.0 486.3 L692.0 487.7 L692.9 488.8 L693.9 487.3 L694.8 485.6 L695.8 484.7 L696.7 485.3 L697.7 487.4 L698.6 486.7 L699.6 485.6 L700.6 486.6 L701.5 487.4 L702.5 487.1 L703.4 486.1 L704.4 486.5 L705.3 488.6 L706.3 490.7 L707.3 490.1 L708.2 487.3 L709.2 487.2 L710.1 488.3 L711.1 488.5 L712.0 487.8 L713.0 486.0 L713.9 486.9 L714.9 489.3 L715.9 488.2 L716.8 486.8 L717.8 487.3" fill="none" stroke="#1515e6" stroke-width="1.6" stroke-linejoin="round"/><path d="M597.3 605.5 L598.3 605.4 L599.2 605.5 L600.2 605.6 L601.1 605.6 L602.1 605.4 L603.0 605.2 L604.0 605.2 L605.0 605.2 L605.9 605.3 L606.9 604.9 L607.8 604.1 L608.8 603.0 L609.7 601.5 L610.7 600.1 L611.7 598.7 L612.6 596.8 L613.6 594.1 L614.5 590.7 L615.5 587.1 L616.4 583.6 L617.4 580.3 L618.3 577.4 L619.3 574.6 L620.3 571.2 L621.2 568.3 L622.2 565.5 L623.1 561.7 L624.1 558.8 L625.0 556.9 L626.0 555.3 L626.9 552.5 L627.9 548.2 L628.9 543.5 L629.8 539.0 L630.8 535.7 L631.7 533.6 L632.7 531.5 L633.6 526.9 L634.6 522.5 L635.6 520.5 L636.5 517.4 L637.5 516.4 L638.4 517.8 L639.4 515.6 L640.3 516.2 L641.3 522.5 L642.2 525.7 L643.2 528.0 L644.2 531.4 L645.1 533.9 L646.1 538.7 L647.0 543.6 L648.0 546.0 L648.9 548.9 L649.9 552.6 L650.8 555.5 L651.8 559.3 L652.8 563.4 L653.7 564.1 L654.7 562.9 L655.6 562.5 L656.6 562.6 L657.5 562.5 L658.5 561.5 L659.5 559.2 L660.4 557.9 L661.4 559.2 L662.3 558.6 L663.3 555.0 L664.2 551.9 L665.2 552.0 L666.1 554.1 L667.1 553.1 L668.1 549.1 L669.0 546.9 L670.0 544.6 L670.9 540.0 L671.9 537.1 L672.8 536.4 L673.8 535.0 L674.7 532.1 L675.7 529.2 L676.7 528.0 L677.6 527.0 L678.6 526.9 L679.5 526.3 L680.5 522.3 L681.4 519.5 L682.4 520.9 L683.4 522.8 L684.3 522.9 L685.3 523.9 L686.2 527.9 L687.2 529.0 L688.1 530.6 L689.1 534.5 L690.0 536.5 L691.0 540.0 L692.0 545.2 L692.9 549.3 L693.9 553.3 L694.8 557.7 L695.8 562.2 L696.7 567.1 L697.7 570.4 L698.6 572.8 L699.6 576.5 L700.6 580.2 L701.5 582.5 L702.5 585.8 L703.4 590.5 L704.4 594.7 L705.3 597.8 L706.3 600.7 L707.3 603.5 L708.2 604.9 L709.2 604.3 L710.1 603.7 L711.1 603.4 L712.0 602.1 L713.0 599.3 L713.9 596.6 L714.9 594.6 L715.9 593.0 L716.8 591.4 L717.8 590.3" fill="none" stroke="#ee1515" stroke-width="1.6" stroke-linejoin="round"/><path d="M597.3 488.0 L598.3 504.3 L599.2 536.3 L600.2 567.4 L601.1 580.9 L602.1 588.0 L603.0 592.3 L604.0 596.5 L605.0 599.8 L605.9 601.5 L606.9 602.6 L607.8 603.3 L608.8 603.8 L609.7 603.3 L610.7 603.2 L611.7 603.0 L612.6 602.6 L613.6 602.5 L614.5 601.9 L615.5 600.4 L616.4 599.2 L617.4 597.6 L618.3 594.1 L619.3 590.2 L620.3 587.6 L621.2 586.3 L622.2 585.1 L623.1 588.2 L624.1 592.8 L625.0 596.4 L626.0 598.6 L626.9 599.9 L627.9 600.4 L628.9 600.9 L629.8 600.9 L630.8 600.5 L631.7 600.4 L632.7 600.6 L633.6 600.1 L634.6 600.0 L635.6 601.1 L636.5 601.3 L637.5 600.9 L638.4 601.2 L639.4 601.2 L640.3 600.2 L641.3 599.8 L642.2 599.8 L643.2 599.9 L644.2 600.4 L645.1 601.4 L646.1 601.8 L647.0 601.3 L648.0 601.1 L648.9 600.9 L649.9 600.8 L650.8 601.3 L651.8 600.8 L652.8 599.9 L653.7 600.4 L654.7 601.3 L655.6 601.2 L656.6 600.6 L657.5 600.3 L658.5 600.3 L659.5 600.6 L660.4 600.7 L661.4 600.7 L662.3 600.9 L663.3 600.5 L664.2 600.5 L665.2 601.0 L666.1 601.0 L667.1 601.1 L668.1 601.8 L669.0 602.0 L670.0 600.8 L670.9 600.1 L671.9 600.5 L672.8 600.8 L673.8 601.0 L674.7 601.1 L675.7 600.6 L676.7 600.3 L677.6 600.4 L678.6 600.6 L679.5 601.0 L680.5 601.1 L681.4 601.2 L682.4 601.1 L683.4 600.7 L684.3 600.5 L685.3 600.2 L686.2 600.6 L687.2 600.9 L688.1 600.8 L689.1 601.2 L690.0 601.1 L691.0 600.7 L692.0 600.7 L692.9 600.6 L693.9 600.8 L694.8 600.3 L695.8 598.5 L696.7 597.1 L697.7 595.9 L698.6 594.1 L699.6 592.0 L700.6 589.2 L701.5 585.3 L702.5 584.0 L703.4 586.4 L704.4 589.6 L705.3 593.2 L706.3 595.6 L707.3 596.4 L708.2 596.1 L709.2 593.3 L710.1 587.8 L711.1 581.0 L712.0 569.6 L713.0 551.9 L713.9 532.7 L714.9 513.5 L715.9 495.1 L716.8 483.9 L717.8 482.9" fill="none" stroke="#1ecb8e" stroke-width="1.6" stroke-linejoin="round"/></g>
<rect x="416.5" y="367.8" width="306.20000000000005" height="247.49999999999994" fill="none" stroke="#4a4a4a" stroke-width="1.3"/>
<path d="M411.5 605.6H416.5M414.0 581.8H416.5M411.5 558.0H416.5M414.0 534.3H416.5M411.5 510.5H416.5M414.0 486.7H416.5M411.5 462.9H416.5M414.0 439.1H416.5M411.5 415.4H416.5M414.0 391.6H416.5M411.5 367.8H416.5M722.7 605.6H718.2M722.7 596.1H720.5M722.7 586.6H718.2M722.7 577.1H720.5M722.7 567.6H718.2M722.7 558.1H720.5M722.7 548.5H718.2M722.7 539.0H720.5M722.7 529.5H718.2M722.7 520.0H720.5M722.7 510.5H718.2M722.7 501.0H720.5M722.7 491.5H718.2M722.7 482.0H720.5M722.7 472.5H718.2M722.7 463.0H720.5M722.7 453.4H718.2M722.7 443.9H720.5M722.7 434.4H718.2M722.7 424.9H720.5M722.7 415.4H718.2M722.7 405.9H720.5M722.7 396.4H718.2M722.7 386.9H720.5M722.7 377.4H718.2M417.2 615.3V619.3M417.2 367.8V370.8M465.0 615.3V617.8M465.0 367.8V369.8M512.8 615.3V619.3M512.8 367.8V370.8M560.6 615.3V617.8M560.6 367.8V369.8M608.4 615.3V619.3M608.4 367.8V370.8M656.2 615.3V617.8M656.2 367.8V369.8M704.0 615.3V619.3M704.0 367.8V370.8" stroke="#4a4a4a" stroke-width="1.2" fill="none"/>
<text x="407.5" y="609.1" font-size="9.8" fill="#1e1e1e" text-anchor="end">0</text>
<text x="407.5" y="561.5" font-size="9.8" fill="#1e1e1e" text-anchor="end">20</text>
<text x="407.5" y="514.0" font-size="9.8" fill="#1e1e1e" text-anchor="end">40</text>
<text x="407.5" y="466.4" font-size="9.8" fill="#1e1e1e" text-anchor="end">60</text>
<text x="407.5" y="418.9" font-size="9.8" fill="#1e1e1e" text-anchor="end">80</text>
<text x="407.5" y="371.3" font-size="9.8" fill="#1e1e1e" text-anchor="end">100</text>
<text x="728.3" y="609.1" font-size="9.8" fill="#1e1e1e">0</text>
<text x="728.3" y="590.1" font-size="9.8" fill="#1e1e1e">2</text>
<text x="728.3" y="571.1" font-size="9.8" fill="#1e1e1e">4</text>
<text x="728.3" y="552.0" font-size="9.8" fill="#1e1e1e">6</text>
<text x="728.3" y="533.0" font-size="9.8" fill="#1e1e1e">8</text>
<text x="728.3" y="514.0" font-size="9.8" fill="#1e1e1e">10</text>
<text x="728.3" y="495.0" font-size="9.8" fill="#1e1e1e">12</text>
<text x="728.3" y="476.0" font-size="9.8" fill="#1e1e1e">14</text>
<text x="728.3" y="456.9" font-size="9.8" fill="#1e1e1e">16</text>
<text x="728.3" y="437.9" font-size="9.8" fill="#1e1e1e">18</text>
<text x="728.3" y="418.9" font-size="9.8" fill="#1e1e1e">20</text>
<text x="728.3" y="399.9" font-size="9.8" fill="#1e1e1e">22</text>
<text x="728.3" y="380.9" font-size="9.8" fill="#1e1e1e">24</text>
<text x="417.2" y="631.3" font-size="9.8" fill="#1e1e1e" text-anchor="middle">0</text>
<text x="512.8" y="631.3" font-size="9.8" fill="#1e1e1e" text-anchor="middle">100</text>
<text x="608.4" y="631.3" font-size="9.8" fill="#1e1e1e" text-anchor="middle">200</text>
<text x="704.0" y="631.3" font-size="9.8" fill="#1e1e1e" text-anchor="middle">300</text>
<text x="562" y="640" font-size="12.3" fill="#1e1e1e" text-anchor="middle">nm</text>
<text transform="translate(385.5 491.4) rotate(-90)" font-size="12.5" fill="#1e1e1e" text-anchor="middle">at % Ga, As</text>
<text transform="translate(755 491.4) rotate(-90)" font-size="12.5" fill="#1e1e1e" text-anchor="middle">at% Bi, Al</text>
<rect x="450.7" y="390.4" width="3.6" height="3.6" fill="#e8a83a"/>
<text x="466.1" y="396.1" font-size="11.2" fill="#1e1e1e">Ga</text>
<circle cx="452.5" cy="407.6" r="1.8" fill="#1515e6"/>
<text x="466.1" y="411.5" font-size="11.2" fill="#1e1e1e">As</text>
<path d="M452.5 424.6L454.3 421.4L450.7 421.4Z" fill="#ee1515"/>
<text x="466.1" y="426.9" font-size="11.2" fill="#1e1e1e">Al</text>
<rect x="450.7" y="436.6" width="3.6" height="3.6" fill="#1ecb8e"/>
<text x="466.1" y="442.3" font-size="11.2" fill="#1e1e1e">Bi</text>
<text x="688.4" y="393.3" font-size="21" font-weight="bold" letter-spacing="1.6" fill="#000">(f)</text>
</svg></body></html>
